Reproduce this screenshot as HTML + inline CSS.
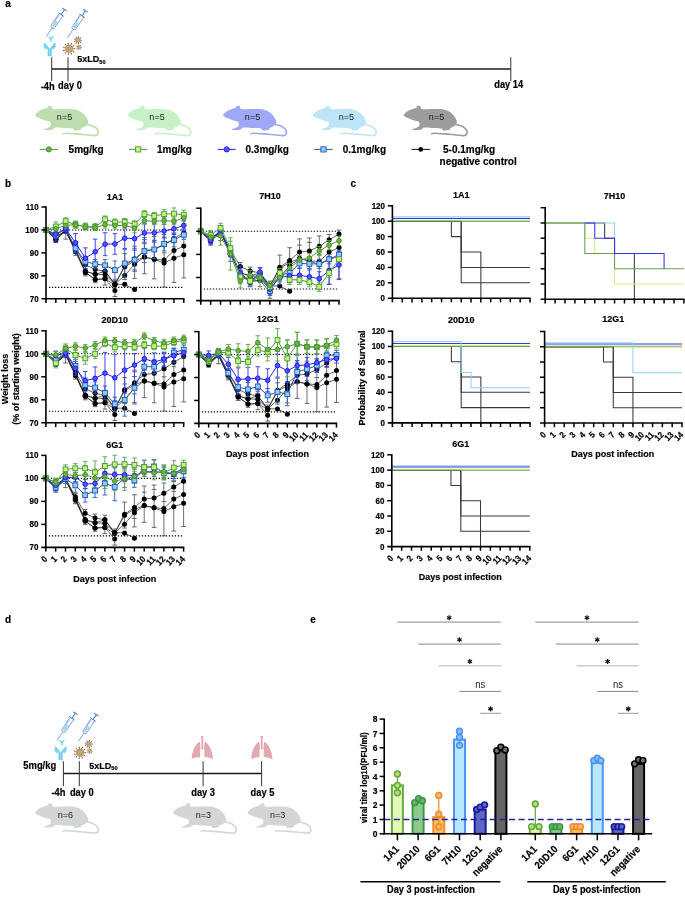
<!DOCTYPE html>
<html><head><meta charset="utf-8"><title>Figure</title>
<style>html,body{margin:0;padding:0;background:#fff;} svg{display:block;will-change:transform;} text[font-weight="bold"]{stroke:#000;stroke-width:0.18px;}</style>
</head><body>
<svg width="685" height="897" viewBox="0 0 685 897" font-family='"Liberation Sans", sans-serif'>
<rect width="685" height="897" fill="#fff"/>
<text transform="translate(5.30 6.90) scale(1 1.1)" x="0" y="0" font-size="10" font-weight="bold" text-anchor="start" fill="#000" >a</text>
<text transform="translate(5.00 186.50) scale(1 1.1)" x="0" y="0" font-size="10" font-weight="bold" text-anchor="start" fill="#000" >b</text>
<text transform="translate(350.50 187.00) scale(1 1.1)" x="0" y="0" font-size="10" font-weight="bold" text-anchor="start" fill="#000" >c</text>
<text transform="translate(5.00 622.80) scale(1 1.1)" x="0" y="0" font-size="10" font-weight="bold" text-anchor="start" fill="#000" >d</text>
<text transform="translate(310.30 622.80) scale(1 1.1)" x="0" y="0" font-size="10" font-weight="bold" text-anchor="start" fill="#000" >e</text>
<text transform="translate(114.90 199.50) scale(1 1.1)" x="0" y="0" font-size="9" font-weight="bold" text-anchor="middle" fill="#000" >1A1</text>
<line x1="48.00" y1="229.95" x2="183.80" y2="229.95" stroke="#000" stroke-width="1.1" stroke-dasharray="1.3,1.7"/>
<line x1="49.00" y1="287.33" x2="182.80" y2="287.33" stroke="#000" stroke-width="1.1" stroke-dasharray="1.3,1.7"/>
<line x1="55.84" y1="235.69" x2="55.84" y2="242.57" stroke="#6e6e6e" stroke-width="1"/>
<line x1="53.54" y1="235.69" x2="58.14" y2="235.69" stroke="#666" stroke-width="1"/>
<line x1="53.54" y1="242.57" x2="58.14" y2="242.57" stroke="#666" stroke-width="1"/>
<line x1="65.69" y1="227.66" x2="65.69" y2="239.13" stroke="#6e6e6e" stroke-width="1"/>
<line x1="63.39" y1="227.66" x2="67.99" y2="227.66" stroke="#666" stroke-width="1"/>
<line x1="63.39" y1="239.13" x2="67.99" y2="239.13" stroke="#666" stroke-width="1"/>
<line x1="75.53" y1="244.87" x2="75.53" y2="255.19" stroke="#6e6e6e" stroke-width="1"/>
<line x1="73.23" y1="244.87" x2="77.83" y2="244.87" stroke="#666" stroke-width="1"/>
<line x1="73.23" y1="255.19" x2="77.83" y2="255.19" stroke="#666" stroke-width="1"/>
<line x1="85.37" y1="260.93" x2="85.37" y2="275.85" stroke="#6e6e6e" stroke-width="1"/>
<line x1="83.07" y1="260.93" x2="87.67" y2="260.93" stroke="#666" stroke-width="1"/>
<line x1="83.07" y1="275.85" x2="87.67" y2="275.85" stroke="#666" stroke-width="1"/>
<line x1="95.21" y1="265.52" x2="95.21" y2="282.74" stroke="#6e6e6e" stroke-width="1"/>
<line x1="92.91" y1="265.52" x2="97.51" y2="265.52" stroke="#666" stroke-width="1"/>
<line x1="92.91" y1="282.74" x2="97.51" y2="282.74" stroke="#666" stroke-width="1"/>
<line x1="105.06" y1="266.67" x2="105.06" y2="285.03" stroke="#6e6e6e" stroke-width="1"/>
<line x1="102.76" y1="266.67" x2="107.36" y2="266.67" stroke="#666" stroke-width="1"/>
<line x1="102.76" y1="285.03" x2="107.36" y2="285.03" stroke="#666" stroke-width="1"/>
<line x1="114.90" y1="280.44" x2="114.90" y2="296.50" stroke="#6e6e6e" stroke-width="1"/>
<line x1="112.60" y1="280.44" x2="117.20" y2="280.44" stroke="#666" stroke-width="1"/>
<line x1="112.60" y1="296.50" x2="117.20" y2="296.50" stroke="#666" stroke-width="1"/>
<line x1="124.74" y1="253.59" x2="124.74" y2="279.52" stroke="#6e6e6e" stroke-width="1"/>
<line x1="122.44" y1="253.59" x2="127.04" y2="253.59" stroke="#666" stroke-width="1"/>
<line x1="122.44" y1="279.52" x2="127.04" y2="279.52" stroke="#666" stroke-width="1"/>
<line x1="134.59" y1="246.24" x2="134.59" y2="278.37" stroke="#6e6e6e" stroke-width="1"/>
<line x1="132.29" y1="246.24" x2="136.89" y2="246.24" stroke="#666" stroke-width="1"/>
<line x1="132.29" y1="278.37" x2="136.89" y2="278.37" stroke="#666" stroke-width="1"/>
<line x1="132.29" y1="269.88" x2="136.89" y2="269.88" stroke="#666" stroke-width="1"/>
<line x1="144.43" y1="237.52" x2="144.43" y2="273.78" stroke="#6e6e6e" stroke-width="1"/>
<line x1="142.13" y1="237.52" x2="146.73" y2="237.52" stroke="#666" stroke-width="1"/>
<line x1="142.13" y1="273.78" x2="146.73" y2="273.78" stroke="#666" stroke-width="1"/>
<line x1="142.13" y1="243.72" x2="146.73" y2="243.72" stroke="#666" stroke-width="1"/>
<line x1="154.27" y1="236.61" x2="154.27" y2="278.83" stroke="#6e6e6e" stroke-width="1"/>
<line x1="151.97" y1="236.61" x2="156.57" y2="236.61" stroke="#666" stroke-width="1"/>
<line x1="151.97" y1="278.83" x2="156.57" y2="278.83" stroke="#666" stroke-width="1"/>
<line x1="151.97" y1="240.97" x2="156.57" y2="240.97" stroke="#666" stroke-width="1"/>
<line x1="164.11" y1="234.54" x2="164.11" y2="287.10" stroke="#6e6e6e" stroke-width="1"/>
<line x1="161.81" y1="234.54" x2="166.41" y2="234.54" stroke="#666" stroke-width="1"/>
<line x1="161.81" y1="287.10" x2="166.41" y2="287.10" stroke="#666" stroke-width="1"/>
<line x1="161.81" y1="252.90" x2="166.41" y2="252.90" stroke="#666" stroke-width="1"/>
<line x1="173.96" y1="233.16" x2="173.96" y2="282.51" stroke="#6e6e6e" stroke-width="1"/>
<line x1="171.66" y1="233.16" x2="176.26" y2="233.16" stroke="#666" stroke-width="1"/>
<line x1="171.66" y1="282.51" x2="176.26" y2="282.51" stroke="#666" stroke-width="1"/>
<line x1="171.66" y1="242.80" x2="176.26" y2="242.80" stroke="#666" stroke-width="1"/>
<line x1="183.80" y1="228.80" x2="183.80" y2="277.92" stroke="#6e6e6e" stroke-width="1"/>
<line x1="181.50" y1="228.80" x2="186.10" y2="228.80" stroke="#666" stroke-width="1"/>
<line x1="181.50" y1="277.92" x2="186.10" y2="277.92" stroke="#666" stroke-width="1"/>
<polyline points="46.00,229.95 55.84,239.13 65.69,229.95 75.53,248.31 85.37,264.83 95.21,269.42 105.06,271.26 114.90,284.11 124.74,265.75 134.59,258.87 144.43,250.61 154.27,249.46 164.11,244.87 173.96,238.44 183.80,232.70" fill="none" stroke="#222" stroke-width="0.7"/>
<polyline points="46.00,229.95 55.84,237.98 65.69,229.95 75.53,249.46 85.37,271.26 95.21,274.24 105.06,274.70 114.90,284.11 124.74,275.62 134.59,264.15 144.43,257.03 154.27,259.33 164.11,260.01 173.96,250.61 183.80,246.02" fill="none" stroke="#222" stroke-width="0.7"/>
<polyline points="46.00,229.95 55.84,236.84 65.69,231.10 75.53,250.61 85.37,272.41 95.21,279.52 105.06,278.83 114.90,285.03 124.74,266.67 134.59,260.93 144.43,257.03 154.27,259.33 164.11,263.00 173.96,258.18 183.80,254.74" fill="none" stroke="#222" stroke-width="0.7"/>
<polyline points="46.00,229.95 55.84,239.13 65.69,230.87 75.53,250.61 85.37,271.26 95.21,274.24 105.06,271.26 114.90,284.11 124.74,284.34 134.59,289.62" fill="none" stroke="#222" stroke-width="0.7"/>
<polyline points="46.00,229.95 55.84,240.05 65.69,230.87 75.53,251.75 85.37,272.41 95.21,279.52 105.06,278.83 114.90,290.54" fill="none" stroke="#222" stroke-width="0.7"/>
<circle cx="55.84" cy="239.13" r="2.5" fill="#000"/>
<circle cx="65.69" cy="229.95" r="2.5" fill="#000"/>
<circle cx="75.53" cy="248.31" r="2.5" fill="#000"/>
<circle cx="85.37" cy="264.83" r="2.5" fill="#000"/>
<circle cx="95.21" cy="269.42" r="2.5" fill="#000"/>
<circle cx="105.06" cy="271.26" r="2.5" fill="#000"/>
<circle cx="114.90" cy="284.11" r="2.5" fill="#000"/>
<circle cx="124.74" cy="265.75" r="2.5" fill="#000"/>
<circle cx="134.59" cy="258.87" r="2.5" fill="#000"/>
<circle cx="144.43" cy="250.61" r="2.5" fill="#000"/>
<circle cx="154.27" cy="249.46" r="2.5" fill="#000"/>
<circle cx="164.11" cy="244.87" r="2.5" fill="#000"/>
<circle cx="173.96" cy="238.44" r="2.5" fill="#000"/>
<circle cx="183.80" cy="232.70" r="2.5" fill="#000"/>
<circle cx="55.84" cy="237.98" r="2.5" fill="#000"/>
<circle cx="65.69" cy="229.95" r="2.5" fill="#000"/>
<circle cx="75.53" cy="249.46" r="2.5" fill="#000"/>
<circle cx="85.37" cy="271.26" r="2.5" fill="#000"/>
<circle cx="95.21" cy="274.24" r="2.5" fill="#000"/>
<circle cx="105.06" cy="274.70" r="2.5" fill="#000"/>
<circle cx="114.90" cy="284.11" r="2.5" fill="#000"/>
<circle cx="124.74" cy="275.62" r="2.5" fill="#000"/>
<circle cx="134.59" cy="264.15" r="2.5" fill="#000"/>
<circle cx="144.43" cy="257.03" r="2.5" fill="#000"/>
<circle cx="154.27" cy="259.33" r="2.5" fill="#000"/>
<circle cx="164.11" cy="260.01" r="2.5" fill="#000"/>
<circle cx="173.96" cy="250.61" r="2.5" fill="#000"/>
<circle cx="183.80" cy="246.02" r="2.5" fill="#000"/>
<circle cx="55.84" cy="236.84" r="2.5" fill="#000"/>
<circle cx="65.69" cy="231.10" r="2.5" fill="#000"/>
<circle cx="75.53" cy="250.61" r="2.5" fill="#000"/>
<circle cx="85.37" cy="272.41" r="2.5" fill="#000"/>
<circle cx="95.21" cy="279.52" r="2.5" fill="#000"/>
<circle cx="105.06" cy="278.83" r="2.5" fill="#000"/>
<circle cx="114.90" cy="285.03" r="2.5" fill="#000"/>
<circle cx="124.74" cy="266.67" r="2.5" fill="#000"/>
<circle cx="134.59" cy="260.93" r="2.5" fill="#000"/>
<circle cx="144.43" cy="257.03" r="2.5" fill="#000"/>
<circle cx="154.27" cy="259.33" r="2.5" fill="#000"/>
<circle cx="164.11" cy="263.00" r="2.5" fill="#000"/>
<circle cx="173.96" cy="258.18" r="2.5" fill="#000"/>
<circle cx="183.80" cy="254.74" r="2.5" fill="#000"/>
<circle cx="55.84" cy="239.13" r="2.5" fill="#000"/>
<circle cx="65.69" cy="230.87" r="2.5" fill="#000"/>
<circle cx="75.53" cy="250.61" r="2.5" fill="#000"/>
<circle cx="85.37" cy="271.26" r="2.5" fill="#000"/>
<circle cx="95.21" cy="274.24" r="2.5" fill="#000"/>
<circle cx="105.06" cy="271.26" r="2.5" fill="#000"/>
<circle cx="114.90" cy="284.11" r="2.5" fill="#000"/>
<circle cx="124.74" cy="284.34" r="2.5" fill="#000"/>
<circle cx="134.59" cy="289.62" r="2.5" fill="#000"/>
<circle cx="55.84" cy="240.05" r="2.5" fill="#000"/>
<circle cx="65.69" cy="230.87" r="2.5" fill="#000"/>
<circle cx="75.53" cy="251.75" r="2.5" fill="#000"/>
<circle cx="85.37" cy="272.41" r="2.5" fill="#000"/>
<circle cx="95.21" cy="279.52" r="2.5" fill="#000"/>
<circle cx="105.06" cy="278.83" r="2.5" fill="#000"/>
<circle cx="114.90" cy="290.54" r="2.5" fill="#000"/>
<line x1="55.84" y1="231.79" x2="55.84" y2="238.67" stroke="#3560b8" stroke-width="1.05" opacity="0.9"/>
<line x1="53.54" y1="231.79" x2="58.14" y2="231.79" stroke="#3560b8" stroke-width="1.05" opacity="0.9"/>
<line x1="53.54" y1="238.67" x2="58.14" y2="238.67" stroke="#3560b8" stroke-width="1.05" opacity="0.9"/>
<line x1="65.69" y1="226.51" x2="65.69" y2="231.10" stroke="#3560b8" stroke-width="1.05" opacity="0.9"/>
<line x1="63.39" y1="226.51" x2="67.99" y2="226.51" stroke="#3560b8" stroke-width="1.05" opacity="0.9"/>
<line x1="63.39" y1="231.10" x2="67.99" y2="231.10" stroke="#3560b8" stroke-width="1.05" opacity="0.9"/>
<line x1="75.53" y1="243.72" x2="75.53" y2="252.90" stroke="#3560b8" stroke-width="1.05" opacity="0.9"/>
<line x1="73.23" y1="243.72" x2="77.83" y2="243.72" stroke="#3560b8" stroke-width="1.05" opacity="0.9"/>
<line x1="73.23" y1="252.90" x2="77.83" y2="252.90" stroke="#3560b8" stroke-width="1.05" opacity="0.9"/>
<line x1="85.37" y1="257.03" x2="85.37" y2="266.21" stroke="#3560b8" stroke-width="1.05" opacity="0.9"/>
<line x1="83.07" y1="257.03" x2="87.67" y2="257.03" stroke="#3560b8" stroke-width="1.05" opacity="0.9"/>
<line x1="83.07" y1="266.21" x2="87.67" y2="266.21" stroke="#3560b8" stroke-width="1.05" opacity="0.9"/>
<line x1="95.21" y1="259.56" x2="95.21" y2="268.74" stroke="#3560b8" stroke-width="1.05" opacity="0.9"/>
<line x1="92.91" y1="259.56" x2="97.51" y2="259.56" stroke="#3560b8" stroke-width="1.05" opacity="0.9"/>
<line x1="92.91" y1="268.74" x2="97.51" y2="268.74" stroke="#3560b8" stroke-width="1.05" opacity="0.9"/>
<line x1="105.06" y1="259.56" x2="105.06" y2="271.03" stroke="#3560b8" stroke-width="1.05" opacity="0.9"/>
<line x1="102.76" y1="259.56" x2="107.36" y2="259.56" stroke="#3560b8" stroke-width="1.05" opacity="0.9"/>
<line x1="102.76" y1="271.03" x2="107.36" y2="271.03" stroke="#3560b8" stroke-width="1.05" opacity="0.9"/>
<line x1="114.90" y1="260.93" x2="114.90" y2="279.29" stroke="#3560b8" stroke-width="1.05" opacity="0.9"/>
<line x1="112.60" y1="260.93" x2="117.20" y2="260.93" stroke="#3560b8" stroke-width="1.05" opacity="0.9"/>
<line x1="112.60" y1="279.29" x2="117.20" y2="279.29" stroke="#3560b8" stroke-width="1.05" opacity="0.9"/>
<line x1="124.74" y1="249.69" x2="124.74" y2="277.23" stroke="#3560b8" stroke-width="1.05" opacity="0.9"/>
<line x1="122.44" y1="249.69" x2="127.04" y2="249.69" stroke="#3560b8" stroke-width="1.05" opacity="0.9"/>
<line x1="122.44" y1="277.23" x2="127.04" y2="277.23" stroke="#3560b8" stroke-width="1.05" opacity="0.9"/>
<line x1="134.59" y1="248.31" x2="134.59" y2="271.26" stroke="#3560b8" stroke-width="1.05" opacity="0.9"/>
<line x1="132.29" y1="248.31" x2="136.89" y2="248.31" stroke="#3560b8" stroke-width="1.05" opacity="0.9"/>
<line x1="132.29" y1="271.26" x2="136.89" y2="271.26" stroke="#3560b8" stroke-width="1.05" opacity="0.9"/>
<line x1="144.43" y1="239.59" x2="144.43" y2="262.54" stroke="#3560b8" stroke-width="1.05" opacity="0.9"/>
<line x1="142.13" y1="239.59" x2="146.73" y2="239.59" stroke="#3560b8" stroke-width="1.05" opacity="0.9"/>
<line x1="142.13" y1="262.54" x2="146.73" y2="262.54" stroke="#3560b8" stroke-width="1.05" opacity="0.9"/>
<line x1="154.27" y1="240.28" x2="154.27" y2="258.64" stroke="#3560b8" stroke-width="1.05" opacity="0.9"/>
<line x1="151.97" y1="240.28" x2="156.57" y2="240.28" stroke="#3560b8" stroke-width="1.05" opacity="0.9"/>
<line x1="151.97" y1="258.64" x2="156.57" y2="258.64" stroke="#3560b8" stroke-width="1.05" opacity="0.9"/>
<line x1="164.11" y1="237.06" x2="164.11" y2="250.83" stroke="#3560b8" stroke-width="1.05" opacity="0.9"/>
<line x1="161.81" y1="237.06" x2="166.41" y2="237.06" stroke="#3560b8" stroke-width="1.05" opacity="0.9"/>
<line x1="161.81" y1="250.83" x2="166.41" y2="250.83" stroke="#3560b8" stroke-width="1.05" opacity="0.9"/>
<line x1="173.96" y1="233.16" x2="173.96" y2="246.93" stroke="#3560b8" stroke-width="1.05" opacity="0.9"/>
<line x1="171.66" y1="233.16" x2="176.26" y2="233.16" stroke="#3560b8" stroke-width="1.05" opacity="0.9"/>
<line x1="171.66" y1="246.93" x2="176.26" y2="246.93" stroke="#3560b8" stroke-width="1.05" opacity="0.9"/>
<line x1="183.80" y1="230.18" x2="183.80" y2="239.36" stroke="#3560b8" stroke-width="1.05" opacity="0.9"/>
<line x1="181.50" y1="230.18" x2="186.10" y2="230.18" stroke="#3560b8" stroke-width="1.05" opacity="0.9"/>
<line x1="181.50" y1="239.36" x2="186.10" y2="239.36" stroke="#3560b8" stroke-width="1.05" opacity="0.9"/>
<line x1="55.84" y1="227.20" x2="55.84" y2="240.97" stroke="#3a3af4" stroke-width="1.05" opacity="0.9"/>
<line x1="53.54" y1="227.20" x2="58.14" y2="227.20" stroke="#3a3af4" stroke-width="1.05" opacity="0.9"/>
<line x1="53.54" y1="240.97" x2="58.14" y2="240.97" stroke="#3a3af4" stroke-width="1.05" opacity="0.9"/>
<line x1="65.69" y1="224.21" x2="65.69" y2="233.39" stroke="#3a3af4" stroke-width="1.05" opacity="0.9"/>
<line x1="63.39" y1="224.21" x2="67.99" y2="224.21" stroke="#3a3af4" stroke-width="1.05" opacity="0.9"/>
<line x1="63.39" y1="233.39" x2="67.99" y2="233.39" stroke="#3a3af4" stroke-width="1.05" opacity="0.9"/>
<line x1="75.53" y1="233.62" x2="75.53" y2="251.98" stroke="#3a3af4" stroke-width="1.05" opacity="0.9"/>
<line x1="73.23" y1="233.62" x2="77.83" y2="233.62" stroke="#3a3af4" stroke-width="1.05" opacity="0.9"/>
<line x1="73.23" y1="251.98" x2="77.83" y2="251.98" stroke="#3a3af4" stroke-width="1.05" opacity="0.9"/>
<line x1="85.37" y1="247.85" x2="85.37" y2="268.51" stroke="#3a3af4" stroke-width="1.05" opacity="0.9"/>
<line x1="83.07" y1="247.85" x2="87.67" y2="247.85" stroke="#3a3af4" stroke-width="1.05" opacity="0.9"/>
<line x1="83.07" y1="268.51" x2="87.67" y2="268.51" stroke="#3a3af4" stroke-width="1.05" opacity="0.9"/>
<line x1="95.21" y1="239.13" x2="95.21" y2="264.38" stroke="#3a3af4" stroke-width="1.05" opacity="0.9"/>
<line x1="92.91" y1="239.13" x2="97.51" y2="239.13" stroke="#3a3af4" stroke-width="1.05" opacity="0.9"/>
<line x1="92.91" y1="264.38" x2="97.51" y2="264.38" stroke="#3a3af4" stroke-width="1.05" opacity="0.9"/>
<line x1="105.06" y1="232.70" x2="105.06" y2="255.65" stroke="#3a3af4" stroke-width="1.05" opacity="0.9"/>
<line x1="102.76" y1="232.70" x2="107.36" y2="232.70" stroke="#3a3af4" stroke-width="1.05" opacity="0.9"/>
<line x1="102.76" y1="255.65" x2="107.36" y2="255.65" stroke="#3a3af4" stroke-width="1.05" opacity="0.9"/>
<line x1="114.90" y1="233.62" x2="114.90" y2="254.28" stroke="#3a3af4" stroke-width="1.05" opacity="0.9"/>
<line x1="112.60" y1="233.62" x2="117.20" y2="233.62" stroke="#3a3af4" stroke-width="1.05" opacity="0.9"/>
<line x1="112.60" y1="254.28" x2="117.20" y2="254.28" stroke="#3a3af4" stroke-width="1.05" opacity="0.9"/>
<line x1="124.74" y1="227.88" x2="124.74" y2="248.54" stroke="#3a3af4" stroke-width="1.05" opacity="0.9"/>
<line x1="122.44" y1="227.88" x2="127.04" y2="227.88" stroke="#3a3af4" stroke-width="1.05" opacity="0.9"/>
<line x1="122.44" y1="248.54" x2="127.04" y2="248.54" stroke="#3a3af4" stroke-width="1.05" opacity="0.9"/>
<line x1="134.59" y1="227.20" x2="134.59" y2="250.15" stroke="#3a3af4" stroke-width="1.05" opacity="0.9"/>
<line x1="132.29" y1="227.20" x2="136.89" y2="227.20" stroke="#3a3af4" stroke-width="1.05" opacity="0.9"/>
<line x1="132.29" y1="250.15" x2="136.89" y2="250.15" stroke="#3a3af4" stroke-width="1.05" opacity="0.9"/>
<line x1="144.43" y1="223.75" x2="144.43" y2="242.11" stroke="#3a3af4" stroke-width="1.05" opacity="0.9"/>
<line x1="142.13" y1="223.75" x2="146.73" y2="223.75" stroke="#3a3af4" stroke-width="1.05" opacity="0.9"/>
<line x1="142.13" y1="242.11" x2="146.73" y2="242.11" stroke="#3a3af4" stroke-width="1.05" opacity="0.9"/>
<line x1="154.27" y1="223.75" x2="154.27" y2="242.11" stroke="#3a3af4" stroke-width="1.05" opacity="0.9"/>
<line x1="151.97" y1="223.75" x2="156.57" y2="223.75" stroke="#3a3af4" stroke-width="1.05" opacity="0.9"/>
<line x1="151.97" y1="242.11" x2="156.57" y2="242.11" stroke="#3a3af4" stroke-width="1.05" opacity="0.9"/>
<line x1="164.11" y1="224.21" x2="164.11" y2="237.98" stroke="#3a3af4" stroke-width="1.05" opacity="0.9"/>
<line x1="161.81" y1="224.21" x2="166.41" y2="224.21" stroke="#3a3af4" stroke-width="1.05" opacity="0.9"/>
<line x1="161.81" y1="237.98" x2="166.41" y2="237.98" stroke="#3a3af4" stroke-width="1.05" opacity="0.9"/>
<line x1="173.96" y1="223.06" x2="173.96" y2="234.54" stroke="#3a3af4" stroke-width="1.05" opacity="0.9"/>
<line x1="171.66" y1="223.06" x2="176.26" y2="223.06" stroke="#3a3af4" stroke-width="1.05" opacity="0.9"/>
<line x1="171.66" y1="234.54" x2="176.26" y2="234.54" stroke="#3a3af4" stroke-width="1.05" opacity="0.9"/>
<line x1="183.80" y1="220.77" x2="183.80" y2="229.95" stroke="#3a3af4" stroke-width="1.05" opacity="0.9"/>
<line x1="181.50" y1="220.77" x2="186.10" y2="220.77" stroke="#3a3af4" stroke-width="1.05" opacity="0.9"/>
<line x1="181.50" y1="229.95" x2="186.10" y2="229.95" stroke="#3a3af4" stroke-width="1.05" opacity="0.9"/>
<line x1="55.84" y1="221.92" x2="55.84" y2="231.10" stroke="#5aa852" stroke-width="1.05" opacity="0.9"/>
<line x1="53.54" y1="221.92" x2="58.14" y2="221.92" stroke="#5aa852" stroke-width="1.05" opacity="0.9"/>
<line x1="53.54" y1="231.10" x2="58.14" y2="231.10" stroke="#5aa852" stroke-width="1.05" opacity="0.9"/>
<line x1="65.69" y1="217.79" x2="65.69" y2="224.67" stroke="#5aa852" stroke-width="1.05" opacity="0.9"/>
<line x1="63.39" y1="217.79" x2="67.99" y2="217.79" stroke="#5aa852" stroke-width="1.05" opacity="0.9"/>
<line x1="63.39" y1="224.67" x2="67.99" y2="224.67" stroke="#5aa852" stroke-width="1.05" opacity="0.9"/>
<line x1="75.53" y1="221.23" x2="75.53" y2="228.11" stroke="#5aa852" stroke-width="1.05" opacity="0.9"/>
<line x1="73.23" y1="221.23" x2="77.83" y2="221.23" stroke="#5aa852" stroke-width="1.05" opacity="0.9"/>
<line x1="73.23" y1="228.11" x2="77.83" y2="228.11" stroke="#5aa852" stroke-width="1.05" opacity="0.9"/>
<line x1="85.37" y1="223.06" x2="85.37" y2="229.95" stroke="#5aa852" stroke-width="1.05" opacity="0.9"/>
<line x1="83.07" y1="223.06" x2="87.67" y2="223.06" stroke="#5aa852" stroke-width="1.05" opacity="0.9"/>
<line x1="83.07" y1="229.95" x2="87.67" y2="229.95" stroke="#5aa852" stroke-width="1.05" opacity="0.9"/>
<line x1="95.21" y1="223.52" x2="95.21" y2="230.41" stroke="#5aa852" stroke-width="1.05" opacity="0.9"/>
<line x1="92.91" y1="223.52" x2="97.51" y2="223.52" stroke="#5aa852" stroke-width="1.05" opacity="0.9"/>
<line x1="92.91" y1="230.41" x2="97.51" y2="230.41" stroke="#5aa852" stroke-width="1.05" opacity="0.9"/>
<line x1="105.06" y1="215.95" x2="105.06" y2="222.84" stroke="#5aa852" stroke-width="1.05" opacity="0.9"/>
<line x1="102.76" y1="215.95" x2="107.36" y2="215.95" stroke="#5aa852" stroke-width="1.05" opacity="0.9"/>
<line x1="102.76" y1="222.84" x2="107.36" y2="222.84" stroke="#5aa852" stroke-width="1.05" opacity="0.9"/>
<line x1="114.90" y1="218.93" x2="114.90" y2="225.82" stroke="#5aa852" stroke-width="1.05" opacity="0.9"/>
<line x1="112.60" y1="218.93" x2="117.20" y2="218.93" stroke="#5aa852" stroke-width="1.05" opacity="0.9"/>
<line x1="112.60" y1="225.82" x2="117.20" y2="225.82" stroke="#5aa852" stroke-width="1.05" opacity="0.9"/>
<line x1="124.74" y1="218.47" x2="124.74" y2="225.36" stroke="#5aa852" stroke-width="1.05" opacity="0.9"/>
<line x1="122.44" y1="218.47" x2="127.04" y2="218.47" stroke="#5aa852" stroke-width="1.05" opacity="0.9"/>
<line x1="122.44" y1="225.36" x2="127.04" y2="225.36" stroke="#5aa852" stroke-width="1.05" opacity="0.9"/>
<line x1="134.59" y1="220.77" x2="134.59" y2="227.66" stroke="#5aa852" stroke-width="1.05" opacity="0.9"/>
<line x1="132.29" y1="220.77" x2="136.89" y2="220.77" stroke="#5aa852" stroke-width="1.05" opacity="0.9"/>
<line x1="132.29" y1="227.66" x2="136.89" y2="227.66" stroke="#5aa852" stroke-width="1.05" opacity="0.9"/>
<line x1="144.43" y1="210.67" x2="144.43" y2="217.56" stroke="#5aa852" stroke-width="1.05" opacity="0.9"/>
<line x1="142.13" y1="210.67" x2="146.73" y2="210.67" stroke="#5aa852" stroke-width="1.05" opacity="0.9"/>
<line x1="142.13" y1="217.56" x2="146.73" y2="217.56" stroke="#5aa852" stroke-width="1.05" opacity="0.9"/>
<line x1="154.27" y1="212.51" x2="154.27" y2="219.39" stroke="#5aa852" stroke-width="1.05" opacity="0.9"/>
<line x1="151.97" y1="212.51" x2="156.57" y2="212.51" stroke="#5aa852" stroke-width="1.05" opacity="0.9"/>
<line x1="151.97" y1="219.39" x2="156.57" y2="219.39" stroke="#5aa852" stroke-width="1.05" opacity="0.9"/>
<line x1="164.11" y1="209.52" x2="164.11" y2="218.70" stroke="#5aa852" stroke-width="1.05" opacity="0.9"/>
<line x1="161.81" y1="209.52" x2="166.41" y2="209.52" stroke="#5aa852" stroke-width="1.05" opacity="0.9"/>
<line x1="161.81" y1="218.70" x2="166.41" y2="218.70" stroke="#5aa852" stroke-width="1.05" opacity="0.9"/>
<line x1="173.96" y1="207.92" x2="173.96" y2="219.39" stroke="#5aa852" stroke-width="1.05" opacity="0.9"/>
<line x1="171.66" y1="207.92" x2="176.26" y2="207.92" stroke="#5aa852" stroke-width="1.05" opacity="0.9"/>
<line x1="171.66" y1="219.39" x2="176.26" y2="219.39" stroke="#5aa852" stroke-width="1.05" opacity="0.9"/>
<line x1="183.80" y1="210.21" x2="183.80" y2="219.39" stroke="#5aa852" stroke-width="1.05" opacity="0.9"/>
<line x1="181.50" y1="210.21" x2="186.10" y2="210.21" stroke="#5aa852" stroke-width="1.05" opacity="0.9"/>
<line x1="181.50" y1="219.39" x2="186.10" y2="219.39" stroke="#5aa852" stroke-width="1.05" opacity="0.9"/>
<line x1="55.84" y1="225.36" x2="55.84" y2="232.25" stroke="#62a840" stroke-width="1.05" opacity="0.9"/>
<line x1="53.54" y1="225.36" x2="58.14" y2="225.36" stroke="#62a840" stroke-width="1.05" opacity="0.9"/>
<line x1="53.54" y1="232.25" x2="58.14" y2="232.25" stroke="#62a840" stroke-width="1.05" opacity="0.9"/>
<line x1="65.69" y1="221.92" x2="65.69" y2="228.80" stroke="#62a840" stroke-width="1.05" opacity="0.9"/>
<line x1="63.39" y1="221.92" x2="67.99" y2="221.92" stroke="#62a840" stroke-width="1.05" opacity="0.9"/>
<line x1="63.39" y1="228.80" x2="67.99" y2="228.80" stroke="#62a840" stroke-width="1.05" opacity="0.9"/>
<line x1="75.53" y1="221.23" x2="75.53" y2="228.11" stroke="#62a840" stroke-width="1.05" opacity="0.9"/>
<line x1="73.23" y1="221.23" x2="77.83" y2="221.23" stroke="#62a840" stroke-width="1.05" opacity="0.9"/>
<line x1="73.23" y1="228.11" x2="77.83" y2="228.11" stroke="#62a840" stroke-width="1.05" opacity="0.9"/>
<line x1="85.37" y1="223.98" x2="85.37" y2="229.49" stroke="#62a840" stroke-width="1.05" opacity="0.9"/>
<line x1="83.07" y1="223.98" x2="87.67" y2="223.98" stroke="#62a840" stroke-width="1.05" opacity="0.9"/>
<line x1="83.07" y1="229.49" x2="87.67" y2="229.49" stroke="#62a840" stroke-width="1.05" opacity="0.9"/>
<line x1="95.21" y1="224.90" x2="95.21" y2="230.41" stroke="#62a840" stroke-width="1.05" opacity="0.9"/>
<line x1="92.91" y1="224.90" x2="97.51" y2="224.90" stroke="#62a840" stroke-width="1.05" opacity="0.9"/>
<line x1="92.91" y1="230.41" x2="97.51" y2="230.41" stroke="#62a840" stroke-width="1.05" opacity="0.9"/>
<line x1="105.06" y1="221.23" x2="105.06" y2="228.11" stroke="#62a840" stroke-width="1.05" opacity="0.9"/>
<line x1="102.76" y1="221.23" x2="107.36" y2="221.23" stroke="#62a840" stroke-width="1.05" opacity="0.9"/>
<line x1="102.76" y1="228.11" x2="107.36" y2="228.11" stroke="#62a840" stroke-width="1.05" opacity="0.9"/>
<line x1="114.90" y1="221.92" x2="114.90" y2="228.80" stroke="#62a840" stroke-width="1.05" opacity="0.9"/>
<line x1="112.60" y1="221.92" x2="117.20" y2="221.92" stroke="#62a840" stroke-width="1.05" opacity="0.9"/>
<line x1="112.60" y1="228.80" x2="117.20" y2="228.80" stroke="#62a840" stroke-width="1.05" opacity="0.9"/>
<line x1="124.74" y1="221.92" x2="124.74" y2="228.80" stroke="#62a840" stroke-width="1.05" opacity="0.9"/>
<line x1="122.44" y1="221.92" x2="127.04" y2="221.92" stroke="#62a840" stroke-width="1.05" opacity="0.9"/>
<line x1="122.44" y1="228.80" x2="127.04" y2="228.80" stroke="#62a840" stroke-width="1.05" opacity="0.9"/>
<line x1="134.59" y1="223.52" x2="134.59" y2="232.70" stroke="#62a840" stroke-width="1.05" opacity="0.9"/>
<line x1="132.29" y1="223.52" x2="136.89" y2="223.52" stroke="#62a840" stroke-width="1.05" opacity="0.9"/>
<line x1="132.29" y1="232.70" x2="136.89" y2="232.70" stroke="#62a840" stroke-width="1.05" opacity="0.9"/>
<line x1="144.43" y1="217.33" x2="144.43" y2="224.21" stroke="#62a840" stroke-width="1.05" opacity="0.9"/>
<line x1="142.13" y1="217.33" x2="146.73" y2="217.33" stroke="#62a840" stroke-width="1.05" opacity="0.9"/>
<line x1="142.13" y1="224.21" x2="146.73" y2="224.21" stroke="#62a840" stroke-width="1.05" opacity="0.9"/>
<line x1="154.27" y1="217.79" x2="154.27" y2="224.67" stroke="#62a840" stroke-width="1.05" opacity="0.9"/>
<line x1="151.97" y1="217.79" x2="156.57" y2="217.79" stroke="#62a840" stroke-width="1.05" opacity="0.9"/>
<line x1="151.97" y1="224.67" x2="156.57" y2="224.67" stroke="#62a840" stroke-width="1.05" opacity="0.9"/>
<line x1="164.11" y1="217.33" x2="164.11" y2="224.21" stroke="#62a840" stroke-width="1.05" opacity="0.9"/>
<line x1="161.81" y1="217.33" x2="166.41" y2="217.33" stroke="#62a840" stroke-width="1.05" opacity="0.9"/>
<line x1="161.81" y1="224.21" x2="166.41" y2="224.21" stroke="#62a840" stroke-width="1.05" opacity="0.9"/>
<line x1="173.96" y1="217.79" x2="173.96" y2="224.67" stroke="#62a840" stroke-width="1.05" opacity="0.9"/>
<line x1="171.66" y1="217.79" x2="176.26" y2="217.79" stroke="#62a840" stroke-width="1.05" opacity="0.9"/>
<line x1="171.66" y1="224.67" x2="176.26" y2="224.67" stroke="#62a840" stroke-width="1.05" opacity="0.9"/>
<line x1="183.80" y1="214.34" x2="183.80" y2="221.23" stroke="#62a840" stroke-width="1.05" opacity="0.9"/>
<line x1="181.50" y1="214.34" x2="186.10" y2="214.34" stroke="#62a840" stroke-width="1.05" opacity="0.9"/>
<line x1="181.50" y1="221.23" x2="186.10" y2="221.23" stroke="#62a840" stroke-width="1.05" opacity="0.9"/>
<polyline points="46.00,229.95 55.84,235.23 65.69,228.80 75.53,248.31 85.37,261.62 95.21,264.15 105.06,265.29 114.90,270.11 124.74,263.46 134.59,259.79 144.43,251.06 154.27,249.46 164.11,243.95 173.96,240.05 183.80,234.77" fill="none" stroke="#2d52a8" stroke-width="1"/>
<rect x="43.55" y="227.50" width="4.90" height="4.90" fill="#80d2f8" stroke="#2b52ae" stroke-width="0.9"/>
<rect x="53.39" y="232.78" width="4.90" height="4.90" fill="#80d2f8" stroke="#2b52ae" stroke-width="0.9"/>
<rect x="63.24" y="226.35" width="4.90" height="4.90" fill="#80d2f8" stroke="#2b52ae" stroke-width="0.9"/>
<rect x="73.08" y="245.86" width="4.90" height="4.90" fill="#80d2f8" stroke="#2b52ae" stroke-width="0.9"/>
<rect x="82.92" y="259.17" width="4.90" height="4.90" fill="#80d2f8" stroke="#2b52ae" stroke-width="0.9"/>
<rect x="92.76" y="261.70" width="4.90" height="4.90" fill="#80d2f8" stroke="#2b52ae" stroke-width="0.9"/>
<rect x="102.61" y="262.84" width="4.90" height="4.90" fill="#80d2f8" stroke="#2b52ae" stroke-width="0.9"/>
<rect x="112.45" y="267.66" width="4.90" height="4.90" fill="#80d2f8" stroke="#2b52ae" stroke-width="0.9"/>
<rect x="122.29" y="261.01" width="4.90" height="4.90" fill="#80d2f8" stroke="#2b52ae" stroke-width="0.9"/>
<rect x="132.14" y="257.34" width="4.90" height="4.90" fill="#80d2f8" stroke="#2b52ae" stroke-width="0.9"/>
<rect x="141.98" y="248.61" width="4.90" height="4.90" fill="#80d2f8" stroke="#2b52ae" stroke-width="0.9"/>
<rect x="151.82" y="247.01" width="4.90" height="4.90" fill="#80d2f8" stroke="#2b52ae" stroke-width="0.9"/>
<rect x="161.66" y="241.50" width="4.90" height="4.90" fill="#80d2f8" stroke="#2b52ae" stroke-width="0.9"/>
<rect x="171.51" y="237.60" width="4.90" height="4.90" fill="#80d2f8" stroke="#2b52ae" stroke-width="0.9"/>
<rect x="181.35" y="232.32" width="4.90" height="4.90" fill="#80d2f8" stroke="#2b52ae" stroke-width="0.9"/>
<polyline points="46.00,229.95 55.84,234.08 65.69,228.80 75.53,242.80 85.37,258.18 95.21,251.75 105.06,244.18 114.90,243.95 124.74,238.21 134.59,238.67 144.43,232.93 154.27,232.93 164.11,231.10 173.96,228.80 183.80,225.36" fill="none" stroke="#2222f6" stroke-width="1"/>
<circle cx="46.00" cy="229.95" r="2.3" fill="#5656f8" stroke="#1818ee" stroke-width="1"/>
<circle cx="55.84" cy="234.08" r="2.3" fill="#5656f8" stroke="#1818ee" stroke-width="1"/>
<circle cx="65.69" cy="228.80" r="2.3" fill="#5656f8" stroke="#1818ee" stroke-width="1"/>
<circle cx="75.53" cy="242.80" r="2.3" fill="#5656f8" stroke="#1818ee" stroke-width="1"/>
<circle cx="85.37" cy="258.18" r="2.3" fill="#5656f8" stroke="#1818ee" stroke-width="1"/>
<circle cx="95.21" cy="251.75" r="2.3" fill="#5656f8" stroke="#1818ee" stroke-width="1"/>
<circle cx="105.06" cy="244.18" r="2.3" fill="#5656f8" stroke="#1818ee" stroke-width="1"/>
<circle cx="114.90" cy="243.95" r="2.3" fill="#5656f8" stroke="#1818ee" stroke-width="1"/>
<circle cx="124.74" cy="238.21" r="2.3" fill="#5656f8" stroke="#1818ee" stroke-width="1"/>
<circle cx="134.59" cy="238.67" r="2.3" fill="#5656f8" stroke="#1818ee" stroke-width="1"/>
<circle cx="144.43" cy="232.93" r="2.3" fill="#5656f8" stroke="#1818ee" stroke-width="1"/>
<circle cx="154.27" cy="232.93" r="2.3" fill="#5656f8" stroke="#1818ee" stroke-width="1"/>
<circle cx="164.11" cy="231.10" r="2.3" fill="#5656f8" stroke="#1818ee" stroke-width="1"/>
<circle cx="173.96" cy="228.80" r="2.3" fill="#5656f8" stroke="#1818ee" stroke-width="1"/>
<circle cx="183.80" cy="225.36" r="2.3" fill="#5656f8" stroke="#1818ee" stroke-width="1"/>
<polyline points="46.00,229.95 55.84,226.51 65.69,221.23 75.53,224.67 85.37,226.51 95.21,226.97 105.06,219.39 114.90,222.38 124.74,221.92 134.59,224.21 144.43,214.11 154.27,215.95 164.11,214.11 173.96,213.66 183.80,214.80" fill="none" stroke="#4c9c4a" stroke-width="1"/>
<rect x="43.55" y="227.50" width="4.90" height="4.90" fill="#cbf46e" stroke="#45954a" stroke-width="0.9"/>
<rect x="53.39" y="224.06" width="4.90" height="4.90" fill="#cbf46e" stroke="#45954a" stroke-width="0.9"/>
<rect x="63.24" y="218.78" width="4.90" height="4.90" fill="#cbf46e" stroke="#45954a" stroke-width="0.9"/>
<rect x="73.08" y="222.22" width="4.90" height="4.90" fill="#cbf46e" stroke="#45954a" stroke-width="0.9"/>
<rect x="82.92" y="224.06" width="4.90" height="4.90" fill="#cbf46e" stroke="#45954a" stroke-width="0.9"/>
<rect x="92.76" y="224.52" width="4.90" height="4.90" fill="#cbf46e" stroke="#45954a" stroke-width="0.9"/>
<rect x="102.61" y="216.94" width="4.90" height="4.90" fill="#cbf46e" stroke="#45954a" stroke-width="0.9"/>
<rect x="112.45" y="219.93" width="4.90" height="4.90" fill="#cbf46e" stroke="#45954a" stroke-width="0.9"/>
<rect x="122.29" y="219.47" width="4.90" height="4.90" fill="#cbf46e" stroke="#45954a" stroke-width="0.9"/>
<rect x="132.14" y="221.76" width="4.90" height="4.90" fill="#cbf46e" stroke="#45954a" stroke-width="0.9"/>
<rect x="141.98" y="211.66" width="4.90" height="4.90" fill="#cbf46e" stroke="#45954a" stroke-width="0.9"/>
<rect x="151.82" y="213.50" width="4.90" height="4.90" fill="#cbf46e" stroke="#45954a" stroke-width="0.9"/>
<rect x="161.66" y="211.66" width="4.90" height="4.90" fill="#cbf46e" stroke="#45954a" stroke-width="0.9"/>
<rect x="171.51" y="211.21" width="4.90" height="4.90" fill="#cbf46e" stroke="#45954a" stroke-width="0.9"/>
<rect x="181.35" y="212.35" width="4.90" height="4.90" fill="#cbf46e" stroke="#45954a" stroke-width="0.9"/>
<polyline points="46.00,229.95 55.84,228.80 65.69,225.36 75.53,224.67 85.37,226.74 95.21,227.66 105.06,224.67 114.90,225.36 124.74,225.36 134.59,228.11 144.43,220.77 154.27,221.23 164.11,220.77 173.96,221.23 183.80,217.79" fill="none" stroke="#529c2e" stroke-width="1"/>
<circle cx="46.00" cy="229.95" r="2.3" fill="#6db446" stroke="#47902a" stroke-width="1"/>
<circle cx="55.84" cy="228.80" r="2.3" fill="#6db446" stroke="#47902a" stroke-width="1"/>
<circle cx="65.69" cy="225.36" r="2.3" fill="#6db446" stroke="#47902a" stroke-width="1"/>
<circle cx="75.53" cy="224.67" r="2.3" fill="#6db446" stroke="#47902a" stroke-width="1"/>
<circle cx="85.37" cy="226.74" r="2.3" fill="#6db446" stroke="#47902a" stroke-width="1"/>
<circle cx="95.21" cy="227.66" r="2.3" fill="#6db446" stroke="#47902a" stroke-width="1"/>
<circle cx="105.06" cy="224.67" r="2.3" fill="#6db446" stroke="#47902a" stroke-width="1"/>
<circle cx="114.90" cy="225.36" r="2.3" fill="#6db446" stroke="#47902a" stroke-width="1"/>
<circle cx="124.74" cy="225.36" r="2.3" fill="#6db446" stroke="#47902a" stroke-width="1"/>
<circle cx="134.59" cy="228.11" r="2.3" fill="#6db446" stroke="#47902a" stroke-width="1"/>
<circle cx="144.43" cy="220.77" r="2.3" fill="#6db446" stroke="#47902a" stroke-width="1"/>
<circle cx="154.27" cy="221.23" r="2.3" fill="#6db446" stroke="#47902a" stroke-width="1"/>
<circle cx="164.11" cy="220.77" r="2.3" fill="#6db446" stroke="#47902a" stroke-width="1"/>
<circle cx="173.96" cy="221.23" r="2.3" fill="#6db446" stroke="#47902a" stroke-width="1"/>
<circle cx="183.80" cy="217.79" r="2.3" fill="#6db446" stroke="#47902a" stroke-width="1"/>
<line x1="46.00" y1="206.30" x2="46.00" y2="303.00" stroke="#000" stroke-width="1.6"/>
<line x1="41.40" y1="298.80" x2="184.50" y2="298.80" stroke="#000" stroke-width="1.6"/>
<line x1="41.40" y1="207.00" x2="46.00" y2="207.00" stroke="#000" stroke-width="1.5"/>
<line x1="41.40" y1="229.95" x2="46.00" y2="229.95" stroke="#000" stroke-width="1.5"/>
<line x1="41.40" y1="252.90" x2="46.00" y2="252.90" stroke="#000" stroke-width="1.5"/>
<line x1="41.40" y1="275.85" x2="46.00" y2="275.85" stroke="#000" stroke-width="1.5"/>
<line x1="55.84" y1="298.80" x2="55.84" y2="303.00" stroke="#000" stroke-width="1.5"/>
<line x1="65.69" y1="298.80" x2="65.69" y2="303.00" stroke="#000" stroke-width="1.5"/>
<line x1="75.53" y1="298.80" x2="75.53" y2="303.00" stroke="#000" stroke-width="1.5"/>
<line x1="85.37" y1="298.80" x2="85.37" y2="303.00" stroke="#000" stroke-width="1.5"/>
<line x1="95.21" y1="298.80" x2="95.21" y2="303.00" stroke="#000" stroke-width="1.5"/>
<line x1="105.06" y1="298.80" x2="105.06" y2="303.00" stroke="#000" stroke-width="1.5"/>
<line x1="114.90" y1="298.80" x2="114.90" y2="303.00" stroke="#000" stroke-width="1.5"/>
<line x1="124.74" y1="298.80" x2="124.74" y2="303.00" stroke="#000" stroke-width="1.5"/>
<line x1="134.59" y1="298.80" x2="134.59" y2="303.00" stroke="#000" stroke-width="1.5"/>
<line x1="144.43" y1="298.80" x2="144.43" y2="303.00" stroke="#000" stroke-width="1.5"/>
<line x1="154.27" y1="298.80" x2="154.27" y2="303.00" stroke="#000" stroke-width="1.5"/>
<line x1="164.11" y1="298.80" x2="164.11" y2="303.00" stroke="#000" stroke-width="1.5"/>
<line x1="173.96" y1="298.80" x2="173.96" y2="303.00" stroke="#000" stroke-width="1.5"/>
<line x1="183.80" y1="298.80" x2="183.80" y2="303.00" stroke="#000" stroke-width="1.5"/>
<text transform="translate(38.60 209.90) scale(1 1.1)" x="0" y="0" font-size="8" font-weight="bold" text-anchor="end" fill="#000" >110</text>
<text transform="translate(38.60 232.85) scale(1 1.1)" x="0" y="0" font-size="8" font-weight="bold" text-anchor="end" fill="#000" >100</text>
<text transform="translate(38.60 255.80) scale(1 1.1)" x="0" y="0" font-size="8" font-weight="bold" text-anchor="end" fill="#000" >90</text>
<text transform="translate(38.60 278.75) scale(1 1.1)" x="0" y="0" font-size="8" font-weight="bold" text-anchor="end" fill="#000" >80</text>
<text transform="translate(38.60 301.70) scale(1 1.1)" x="0" y="0" font-size="8" font-weight="bold" text-anchor="end" fill="#000" >70</text>
<text transform="translate(269.90 199.00) scale(1 1.1)" x="0" y="0" font-size="9" font-weight="bold" text-anchor="middle" fill="#000" >7H10</text>
<line x1="202.80" y1="231.30" x2="339.00" y2="231.30" stroke="#000" stroke-width="1.1" stroke-dasharray="1.3,1.7"/>
<line x1="203.80" y1="289.05" x2="338.00" y2="289.05" stroke="#000" stroke-width="1.1" stroke-dasharray="1.3,1.7"/>
<line x1="210.67" y1="237.07" x2="210.67" y2="244.00" stroke="#6e6e6e" stroke-width="1"/>
<line x1="208.37" y1="237.07" x2="212.97" y2="237.07" stroke="#666" stroke-width="1"/>
<line x1="208.37" y1="244.00" x2="212.97" y2="244.00" stroke="#666" stroke-width="1"/>
<line x1="220.54" y1="228.99" x2="220.54" y2="240.54" stroke="#6e6e6e" stroke-width="1"/>
<line x1="218.24" y1="228.99" x2="222.84" y2="228.99" stroke="#666" stroke-width="1"/>
<line x1="218.24" y1="240.54" x2="222.84" y2="240.54" stroke="#666" stroke-width="1"/>
<line x1="230.41" y1="246.31" x2="230.41" y2="256.71" stroke="#6e6e6e" stroke-width="1"/>
<line x1="228.11" y1="246.31" x2="232.71" y2="246.31" stroke="#666" stroke-width="1"/>
<line x1="228.11" y1="256.71" x2="232.71" y2="256.71" stroke="#666" stroke-width="1"/>
<line x1="240.29" y1="262.49" x2="240.29" y2="277.50" stroke="#6e6e6e" stroke-width="1"/>
<line x1="237.99" y1="262.49" x2="242.59" y2="262.49" stroke="#666" stroke-width="1"/>
<line x1="237.99" y1="277.50" x2="242.59" y2="277.50" stroke="#666" stroke-width="1"/>
<line x1="250.16" y1="267.11" x2="250.16" y2="284.43" stroke="#6e6e6e" stroke-width="1"/>
<line x1="247.86" y1="267.11" x2="252.46" y2="267.11" stroke="#666" stroke-width="1"/>
<line x1="247.86" y1="284.43" x2="252.46" y2="284.43" stroke="#666" stroke-width="1"/>
<line x1="260.03" y1="268.26" x2="260.03" y2="286.74" stroke="#6e6e6e" stroke-width="1"/>
<line x1="257.73" y1="268.26" x2="262.33" y2="268.26" stroke="#666" stroke-width="1"/>
<line x1="257.73" y1="286.74" x2="262.33" y2="286.74" stroke="#666" stroke-width="1"/>
<line x1="269.90" y1="282.12" x2="269.90" y2="298.29" stroke="#6e6e6e" stroke-width="1"/>
<line x1="267.60" y1="282.12" x2="272.20" y2="282.12" stroke="#666" stroke-width="1"/>
<line x1="267.60" y1="298.29" x2="272.20" y2="298.29" stroke="#666" stroke-width="1"/>
<line x1="279.77" y1="255.09" x2="279.77" y2="281.20" stroke="#6e6e6e" stroke-width="1"/>
<line x1="277.47" y1="255.09" x2="282.07" y2="255.09" stroke="#666" stroke-width="1"/>
<line x1="277.47" y1="281.20" x2="282.07" y2="281.20" stroke="#666" stroke-width="1"/>
<line x1="289.64" y1="247.70" x2="289.64" y2="280.04" stroke="#6e6e6e" stroke-width="1"/>
<line x1="287.34" y1="247.70" x2="291.94" y2="247.70" stroke="#666" stroke-width="1"/>
<line x1="287.34" y1="280.04" x2="291.94" y2="280.04" stroke="#666" stroke-width="1"/>
<line x1="287.34" y1="271.49" x2="291.94" y2="271.49" stroke="#666" stroke-width="1"/>
<line x1="299.51" y1="238.92" x2="299.51" y2="275.42" stroke="#6e6e6e" stroke-width="1"/>
<line x1="297.21" y1="238.92" x2="301.81" y2="238.92" stroke="#666" stroke-width="1"/>
<line x1="297.21" y1="275.42" x2="301.81" y2="275.42" stroke="#666" stroke-width="1"/>
<line x1="297.21" y1="245.16" x2="301.81" y2="245.16" stroke="#666" stroke-width="1"/>
<line x1="309.39" y1="238.00" x2="309.39" y2="280.50" stroke="#6e6e6e" stroke-width="1"/>
<line x1="307.09" y1="238.00" x2="311.69" y2="238.00" stroke="#666" stroke-width="1"/>
<line x1="307.09" y1="280.50" x2="311.69" y2="280.50" stroke="#666" stroke-width="1"/>
<line x1="307.09" y1="242.39" x2="311.69" y2="242.39" stroke="#666" stroke-width="1"/>
<line x1="319.26" y1="235.92" x2="319.26" y2="288.82" stroke="#6e6e6e" stroke-width="1"/>
<line x1="316.96" y1="235.92" x2="321.56" y2="235.92" stroke="#666" stroke-width="1"/>
<line x1="316.96" y1="288.82" x2="321.56" y2="288.82" stroke="#666" stroke-width="1"/>
<line x1="316.96" y1="254.40" x2="321.56" y2="254.40" stroke="#666" stroke-width="1"/>
<line x1="329.13" y1="234.53" x2="329.13" y2="284.20" stroke="#6e6e6e" stroke-width="1"/>
<line x1="326.83" y1="234.53" x2="331.43" y2="234.53" stroke="#666" stroke-width="1"/>
<line x1="326.83" y1="284.20" x2="331.43" y2="284.20" stroke="#666" stroke-width="1"/>
<line x1="326.83" y1="244.24" x2="331.43" y2="244.24" stroke="#666" stroke-width="1"/>
<line x1="339.00" y1="230.14" x2="339.00" y2="279.58" stroke="#6e6e6e" stroke-width="1"/>
<line x1="336.70" y1="230.14" x2="341.30" y2="230.14" stroke="#666" stroke-width="1"/>
<line x1="336.70" y1="279.58" x2="341.30" y2="279.58" stroke="#666" stroke-width="1"/>
<polyline points="200.80,231.30 210.67,240.54 220.54,231.30 230.41,249.78 240.29,266.41 250.16,271.03 260.03,272.88 269.90,285.82 279.77,267.34 289.64,260.41 299.51,252.09 309.39,250.94 319.26,246.31 329.13,239.85 339.00,234.07" fill="none" stroke="#222" stroke-width="0.7"/>
<polyline points="200.80,231.30 210.67,239.38 220.54,231.30 230.41,250.94 240.29,272.88 250.16,275.88 260.03,276.35 269.90,285.82 279.77,277.27 289.64,265.72 299.51,258.56 309.39,260.87 319.26,261.56 329.13,252.09 339.00,247.47" fill="none" stroke="#222" stroke-width="0.7"/>
<polyline points="200.80,231.30 210.67,238.23 220.54,232.45 230.41,252.09 240.29,274.04 250.16,281.20 260.03,280.50 269.90,286.74 279.77,268.26 289.64,262.49 299.51,258.56 309.39,260.87 319.26,264.56 329.13,259.71 339.00,256.25" fill="none" stroke="#222" stroke-width="0.7"/>
<polyline points="200.80,231.30 210.67,240.54 220.54,232.22 230.41,252.09 240.29,272.88 250.16,275.88 260.03,272.88 269.90,285.82 279.77,286.05 289.64,291.36" fill="none" stroke="#222" stroke-width="0.7"/>
<polyline points="200.80,231.30 210.67,241.46 220.54,232.22 230.41,253.25 240.29,274.04 250.16,281.20 260.03,280.50 269.90,292.28" fill="none" stroke="#222" stroke-width="0.7"/>
<circle cx="210.67" cy="240.54" r="2.5" fill="#000"/>
<circle cx="220.54" cy="231.30" r="2.5" fill="#000"/>
<circle cx="230.41" cy="249.78" r="2.5" fill="#000"/>
<circle cx="240.29" cy="266.41" r="2.5" fill="#000"/>
<circle cx="250.16" cy="271.03" r="2.5" fill="#000"/>
<circle cx="260.03" cy="272.88" r="2.5" fill="#000"/>
<circle cx="269.90" cy="285.82" r="2.5" fill="#000"/>
<circle cx="279.77" cy="267.34" r="2.5" fill="#000"/>
<circle cx="289.64" cy="260.41" r="2.5" fill="#000"/>
<circle cx="299.51" cy="252.09" r="2.5" fill="#000"/>
<circle cx="309.39" cy="250.94" r="2.5" fill="#000"/>
<circle cx="319.26" cy="246.31" r="2.5" fill="#000"/>
<circle cx="329.13" cy="239.85" r="2.5" fill="#000"/>
<circle cx="339.00" cy="234.07" r="2.5" fill="#000"/>
<circle cx="210.67" cy="239.38" r="2.5" fill="#000"/>
<circle cx="220.54" cy="231.30" r="2.5" fill="#000"/>
<circle cx="230.41" cy="250.94" r="2.5" fill="#000"/>
<circle cx="240.29" cy="272.88" r="2.5" fill="#000"/>
<circle cx="250.16" cy="275.88" r="2.5" fill="#000"/>
<circle cx="260.03" cy="276.35" r="2.5" fill="#000"/>
<circle cx="269.90" cy="285.82" r="2.5" fill="#000"/>
<circle cx="279.77" cy="277.27" r="2.5" fill="#000"/>
<circle cx="289.64" cy="265.72" r="2.5" fill="#000"/>
<circle cx="299.51" cy="258.56" r="2.5" fill="#000"/>
<circle cx="309.39" cy="260.87" r="2.5" fill="#000"/>
<circle cx="319.26" cy="261.56" r="2.5" fill="#000"/>
<circle cx="329.13" cy="252.09" r="2.5" fill="#000"/>
<circle cx="339.00" cy="247.47" r="2.5" fill="#000"/>
<circle cx="210.67" cy="238.23" r="2.5" fill="#000"/>
<circle cx="220.54" cy="232.45" r="2.5" fill="#000"/>
<circle cx="230.41" cy="252.09" r="2.5" fill="#000"/>
<circle cx="240.29" cy="274.04" r="2.5" fill="#000"/>
<circle cx="250.16" cy="281.20" r="2.5" fill="#000"/>
<circle cx="260.03" cy="280.50" r="2.5" fill="#000"/>
<circle cx="269.90" cy="286.74" r="2.5" fill="#000"/>
<circle cx="279.77" cy="268.26" r="2.5" fill="#000"/>
<circle cx="289.64" cy="262.49" r="2.5" fill="#000"/>
<circle cx="299.51" cy="258.56" r="2.5" fill="#000"/>
<circle cx="309.39" cy="260.87" r="2.5" fill="#000"/>
<circle cx="319.26" cy="264.56" r="2.5" fill="#000"/>
<circle cx="329.13" cy="259.71" r="2.5" fill="#000"/>
<circle cx="339.00" cy="256.25" r="2.5" fill="#000"/>
<circle cx="210.67" cy="240.54" r="2.5" fill="#000"/>
<circle cx="220.54" cy="232.22" r="2.5" fill="#000"/>
<circle cx="230.41" cy="252.09" r="2.5" fill="#000"/>
<circle cx="240.29" cy="272.88" r="2.5" fill="#000"/>
<circle cx="250.16" cy="275.88" r="2.5" fill="#000"/>
<circle cx="260.03" cy="272.88" r="2.5" fill="#000"/>
<circle cx="269.90" cy="285.82" r="2.5" fill="#000"/>
<circle cx="279.77" cy="286.05" r="2.5" fill="#000"/>
<circle cx="289.64" cy="291.36" r="2.5" fill="#000"/>
<circle cx="210.67" cy="241.46" r="2.5" fill="#000"/>
<circle cx="220.54" cy="232.22" r="2.5" fill="#000"/>
<circle cx="230.41" cy="253.25" r="2.5" fill="#000"/>
<circle cx="240.29" cy="274.04" r="2.5" fill="#000"/>
<circle cx="250.16" cy="281.20" r="2.5" fill="#000"/>
<circle cx="260.03" cy="280.50" r="2.5" fill="#000"/>
<circle cx="269.90" cy="292.28" r="2.5" fill="#000"/>
<line x1="210.67" y1="233.61" x2="210.67" y2="242.85" stroke="#3560b8" stroke-width="1.05" opacity="0.9"/>
<line x1="208.37" y1="233.61" x2="212.97" y2="233.61" stroke="#3560b8" stroke-width="1.05" opacity="0.9"/>
<line x1="208.37" y1="242.85" x2="212.97" y2="242.85" stroke="#3560b8" stroke-width="1.05" opacity="0.9"/>
<line x1="220.54" y1="226.68" x2="220.54" y2="235.92" stroke="#3560b8" stroke-width="1.05" opacity="0.9"/>
<line x1="218.24" y1="226.68" x2="222.84" y2="226.68" stroke="#3560b8" stroke-width="1.05" opacity="0.9"/>
<line x1="218.24" y1="235.92" x2="222.84" y2="235.92" stroke="#3560b8" stroke-width="1.05" opacity="0.9"/>
<line x1="230.41" y1="247.47" x2="230.41" y2="256.71" stroke="#3560b8" stroke-width="1.05" opacity="0.9"/>
<line x1="228.11" y1="247.47" x2="232.71" y2="247.47" stroke="#3560b8" stroke-width="1.05" opacity="0.9"/>
<line x1="228.11" y1="256.71" x2="232.71" y2="256.71" stroke="#3560b8" stroke-width="1.05" opacity="0.9"/>
<line x1="240.29" y1="270.57" x2="240.29" y2="279.81" stroke="#3560b8" stroke-width="1.05" opacity="0.9"/>
<line x1="237.99" y1="270.57" x2="242.59" y2="270.57" stroke="#3560b8" stroke-width="1.05" opacity="0.9"/>
<line x1="237.99" y1="279.81" x2="242.59" y2="279.81" stroke="#3560b8" stroke-width="1.05" opacity="0.9"/>
<line x1="250.16" y1="276.35" x2="250.16" y2="285.59" stroke="#3560b8" stroke-width="1.05" opacity="0.9"/>
<line x1="247.86" y1="276.35" x2="252.46" y2="276.35" stroke="#3560b8" stroke-width="1.05" opacity="0.9"/>
<line x1="247.86" y1="285.59" x2="252.46" y2="285.59" stroke="#3560b8" stroke-width="1.05" opacity="0.9"/>
<line x1="260.03" y1="270.57" x2="260.03" y2="279.81" stroke="#3560b8" stroke-width="1.05" opacity="0.9"/>
<line x1="257.73" y1="270.57" x2="262.33" y2="270.57" stroke="#3560b8" stroke-width="1.05" opacity="0.9"/>
<line x1="257.73" y1="279.81" x2="262.33" y2="279.81" stroke="#3560b8" stroke-width="1.05" opacity="0.9"/>
<line x1="269.90" y1="286.28" x2="269.90" y2="295.52" stroke="#3560b8" stroke-width="1.05" opacity="0.9"/>
<line x1="267.60" y1="286.28" x2="272.20" y2="286.28" stroke="#3560b8" stroke-width="1.05" opacity="0.9"/>
<line x1="267.60" y1="295.52" x2="272.20" y2="295.52" stroke="#3560b8" stroke-width="1.05" opacity="0.9"/>
<line x1="279.77" y1="270.57" x2="279.77" y2="279.81" stroke="#3560b8" stroke-width="1.05" opacity="0.9"/>
<line x1="277.47" y1="270.57" x2="282.07" y2="270.57" stroke="#3560b8" stroke-width="1.05" opacity="0.9"/>
<line x1="277.47" y1="279.81" x2="282.07" y2="279.81" stroke="#3560b8" stroke-width="1.05" opacity="0.9"/>
<line x1="289.64" y1="268.26" x2="289.64" y2="277.50" stroke="#3560b8" stroke-width="1.05" opacity="0.9"/>
<line x1="287.34" y1="268.26" x2="291.94" y2="268.26" stroke="#3560b8" stroke-width="1.05" opacity="0.9"/>
<line x1="287.34" y1="277.50" x2="291.94" y2="277.50" stroke="#3560b8" stroke-width="1.05" opacity="0.9"/>
<line x1="299.51" y1="258.79" x2="299.51" y2="268.03" stroke="#3560b8" stroke-width="1.05" opacity="0.9"/>
<line x1="297.21" y1="258.79" x2="301.81" y2="258.79" stroke="#3560b8" stroke-width="1.05" opacity="0.9"/>
<line x1="297.21" y1="268.03" x2="301.81" y2="268.03" stroke="#3560b8" stroke-width="1.05" opacity="0.9"/>
<line x1="309.39" y1="259.25" x2="309.39" y2="268.49" stroke="#3560b8" stroke-width="1.05" opacity="0.9"/>
<line x1="307.09" y1="259.25" x2="311.69" y2="259.25" stroke="#3560b8" stroke-width="1.05" opacity="0.9"/>
<line x1="307.09" y1="268.49" x2="311.69" y2="268.49" stroke="#3560b8" stroke-width="1.05" opacity="0.9"/>
<line x1="319.26" y1="259.25" x2="319.26" y2="268.49" stroke="#3560b8" stroke-width="1.05" opacity="0.9"/>
<line x1="316.96" y1="259.25" x2="321.56" y2="259.25" stroke="#3560b8" stroke-width="1.05" opacity="0.9"/>
<line x1="316.96" y1="268.49" x2="321.56" y2="268.49" stroke="#3560b8" stroke-width="1.05" opacity="0.9"/>
<line x1="329.13" y1="254.63" x2="329.13" y2="263.87" stroke="#3560b8" stroke-width="1.05" opacity="0.9"/>
<line x1="326.83" y1="254.63" x2="331.43" y2="254.63" stroke="#3560b8" stroke-width="1.05" opacity="0.9"/>
<line x1="326.83" y1="263.87" x2="331.43" y2="263.87" stroke="#3560b8" stroke-width="1.05" opacity="0.9"/>
<line x1="339.00" y1="250.01" x2="339.00" y2="259.25" stroke="#3560b8" stroke-width="1.05" opacity="0.9"/>
<line x1="336.70" y1="250.01" x2="341.30" y2="250.01" stroke="#3560b8" stroke-width="1.05" opacity="0.9"/>
<line x1="336.70" y1="259.25" x2="341.30" y2="259.25" stroke="#3560b8" stroke-width="1.05" opacity="0.9"/>
<line x1="210.67" y1="235.92" x2="210.67" y2="245.16" stroke="#3a3af4" stroke-width="1.05" opacity="0.9"/>
<line x1="208.37" y1="235.92" x2="212.97" y2="235.92" stroke="#3a3af4" stroke-width="1.05" opacity="0.9"/>
<line x1="208.37" y1="245.16" x2="212.97" y2="245.16" stroke="#3a3af4" stroke-width="1.05" opacity="0.9"/>
<line x1="220.54" y1="225.53" x2="220.54" y2="234.76" stroke="#3a3af4" stroke-width="1.05" opacity="0.9"/>
<line x1="218.24" y1="225.53" x2="222.84" y2="225.53" stroke="#3a3af4" stroke-width="1.05" opacity="0.9"/>
<line x1="218.24" y1="234.76" x2="222.84" y2="234.76" stroke="#3a3af4" stroke-width="1.05" opacity="0.9"/>
<line x1="230.41" y1="247.47" x2="230.41" y2="261.33" stroke="#3a3af4" stroke-width="1.05" opacity="0.9"/>
<line x1="228.11" y1="247.47" x2="232.71" y2="247.47" stroke="#3a3af4" stroke-width="1.05" opacity="0.9"/>
<line x1="228.11" y1="261.33" x2="232.71" y2="261.33" stroke="#3a3af4" stroke-width="1.05" opacity="0.9"/>
<line x1="240.29" y1="265.95" x2="240.29" y2="279.81" stroke="#3a3af4" stroke-width="1.05" opacity="0.9"/>
<line x1="237.99" y1="265.95" x2="242.59" y2="265.95" stroke="#3a3af4" stroke-width="1.05" opacity="0.9"/>
<line x1="237.99" y1="279.81" x2="242.59" y2="279.81" stroke="#3a3af4" stroke-width="1.05" opacity="0.9"/>
<line x1="250.16" y1="277.50" x2="250.16" y2="286.74" stroke="#3a3af4" stroke-width="1.05" opacity="0.9"/>
<line x1="247.86" y1="277.50" x2="252.46" y2="277.50" stroke="#3a3af4" stroke-width="1.05" opacity="0.9"/>
<line x1="247.86" y1="286.74" x2="252.46" y2="286.74" stroke="#3a3af4" stroke-width="1.05" opacity="0.9"/>
<line x1="260.03" y1="267.57" x2="260.03" y2="276.81" stroke="#3a3af4" stroke-width="1.05" opacity="0.9"/>
<line x1="257.73" y1="267.57" x2="262.33" y2="267.57" stroke="#3a3af4" stroke-width="1.05" opacity="0.9"/>
<line x1="257.73" y1="276.81" x2="262.33" y2="276.81" stroke="#3a3af4" stroke-width="1.05" opacity="0.9"/>
<line x1="269.90" y1="284.43" x2="269.90" y2="293.67" stroke="#3a3af4" stroke-width="1.05" opacity="0.9"/>
<line x1="267.60" y1="284.43" x2="272.20" y2="284.43" stroke="#3a3af4" stroke-width="1.05" opacity="0.9"/>
<line x1="267.60" y1="293.67" x2="272.20" y2="293.67" stroke="#3a3af4" stroke-width="1.05" opacity="0.9"/>
<line x1="279.77" y1="270.57" x2="279.77" y2="284.43" stroke="#3a3af4" stroke-width="1.05" opacity="0.9"/>
<line x1="277.47" y1="270.57" x2="282.07" y2="270.57" stroke="#3a3af4" stroke-width="1.05" opacity="0.9"/>
<line x1="277.47" y1="284.43" x2="282.07" y2="284.43" stroke="#3a3af4" stroke-width="1.05" opacity="0.9"/>
<line x1="289.64" y1="268.72" x2="289.64" y2="282.58" stroke="#3a3af4" stroke-width="1.05" opacity="0.9"/>
<line x1="287.34" y1="268.72" x2="291.94" y2="268.72" stroke="#3a3af4" stroke-width="1.05" opacity="0.9"/>
<line x1="287.34" y1="282.58" x2="291.94" y2="282.58" stroke="#3a3af4" stroke-width="1.05" opacity="0.9"/>
<line x1="299.51" y1="268.26" x2="299.51" y2="282.12" stroke="#3a3af4" stroke-width="1.05" opacity="0.9"/>
<line x1="297.21" y1="268.26" x2="301.81" y2="268.26" stroke="#3a3af4" stroke-width="1.05" opacity="0.9"/>
<line x1="297.21" y1="282.12" x2="301.81" y2="282.12" stroke="#3a3af4" stroke-width="1.05" opacity="0.9"/>
<line x1="309.39" y1="269.88" x2="309.39" y2="283.74" stroke="#3a3af4" stroke-width="1.05" opacity="0.9"/>
<line x1="307.09" y1="269.88" x2="311.69" y2="269.88" stroke="#3a3af4" stroke-width="1.05" opacity="0.9"/>
<line x1="307.09" y1="283.74" x2="311.69" y2="283.74" stroke="#3a3af4" stroke-width="1.05" opacity="0.9"/>
<line x1="319.26" y1="271.73" x2="319.26" y2="285.59" stroke="#3a3af4" stroke-width="1.05" opacity="0.9"/>
<line x1="316.96" y1="271.73" x2="321.56" y2="271.73" stroke="#3a3af4" stroke-width="1.05" opacity="0.9"/>
<line x1="316.96" y1="285.59" x2="321.56" y2="285.59" stroke="#3a3af4" stroke-width="1.05" opacity="0.9"/>
<line x1="329.13" y1="256.71" x2="329.13" y2="284.43" stroke="#3a3af4" stroke-width="1.05" opacity="0.9"/>
<line x1="326.83" y1="256.71" x2="331.43" y2="256.71" stroke="#3a3af4" stroke-width="1.05" opacity="0.9"/>
<line x1="326.83" y1="284.43" x2="331.43" y2="284.43" stroke="#3a3af4" stroke-width="1.05" opacity="0.9"/>
<line x1="339.00" y1="251.17" x2="339.00" y2="278.89" stroke="#3a3af4" stroke-width="1.05" opacity="0.9"/>
<line x1="336.70" y1="251.17" x2="341.30" y2="251.17" stroke="#3a3af4" stroke-width="1.05" opacity="0.9"/>
<line x1="336.70" y1="278.89" x2="341.30" y2="278.89" stroke="#3a3af4" stroke-width="1.05" opacity="0.9"/>
<line x1="210.67" y1="230.61" x2="210.67" y2="239.85" stroke="#5aa852" stroke-width="1.05" opacity="0.9"/>
<line x1="208.37" y1="230.61" x2="212.97" y2="230.61" stroke="#5aa852" stroke-width="1.05" opacity="0.9"/>
<line x1="208.37" y1="239.85" x2="212.97" y2="239.85" stroke="#5aa852" stroke-width="1.05" opacity="0.9"/>
<line x1="220.54" y1="223.22" x2="220.54" y2="232.45" stroke="#5aa852" stroke-width="1.05" opacity="0.9"/>
<line x1="218.24" y1="223.22" x2="222.84" y2="223.22" stroke="#5aa852" stroke-width="1.05" opacity="0.9"/>
<line x1="218.24" y1="232.45" x2="222.84" y2="232.45" stroke="#5aa852" stroke-width="1.05" opacity="0.9"/>
<line x1="230.41" y1="241.23" x2="230.41" y2="255.09" stroke="#5aa852" stroke-width="1.05" opacity="0.9"/>
<line x1="228.11" y1="241.23" x2="232.71" y2="241.23" stroke="#5aa852" stroke-width="1.05" opacity="0.9"/>
<line x1="228.11" y1="255.09" x2="232.71" y2="255.09" stroke="#5aa852" stroke-width="1.05" opacity="0.9"/>
<line x1="240.29" y1="269.88" x2="240.29" y2="283.74" stroke="#5aa852" stroke-width="1.05" opacity="0.9"/>
<line x1="237.99" y1="269.88" x2="242.59" y2="269.88" stroke="#5aa852" stroke-width="1.05" opacity="0.9"/>
<line x1="237.99" y1="283.74" x2="242.59" y2="283.74" stroke="#5aa852" stroke-width="1.05" opacity="0.9"/>
<line x1="250.16" y1="276.35" x2="250.16" y2="285.59" stroke="#5aa852" stroke-width="1.05" opacity="0.9"/>
<line x1="247.86" y1="276.35" x2="252.46" y2="276.35" stroke="#5aa852" stroke-width="1.05" opacity="0.9"/>
<line x1="247.86" y1="285.59" x2="252.46" y2="285.59" stroke="#5aa852" stroke-width="1.05" opacity="0.9"/>
<line x1="260.03" y1="272.88" x2="260.03" y2="282.12" stroke="#5aa852" stroke-width="1.05" opacity="0.9"/>
<line x1="257.73" y1="272.88" x2="262.33" y2="272.88" stroke="#5aa852" stroke-width="1.05" opacity="0.9"/>
<line x1="257.73" y1="282.12" x2="262.33" y2="282.12" stroke="#5aa852" stroke-width="1.05" opacity="0.9"/>
<line x1="269.90" y1="282.12" x2="269.90" y2="291.36" stroke="#5aa852" stroke-width="1.05" opacity="0.9"/>
<line x1="267.60" y1="282.12" x2="272.20" y2="282.12" stroke="#5aa852" stroke-width="1.05" opacity="0.9"/>
<line x1="267.60" y1="291.36" x2="272.20" y2="291.36" stroke="#5aa852" stroke-width="1.05" opacity="0.9"/>
<line x1="279.77" y1="268.26" x2="279.77" y2="277.50" stroke="#5aa852" stroke-width="1.05" opacity="0.9"/>
<line x1="277.47" y1="268.26" x2="282.07" y2="268.26" stroke="#5aa852" stroke-width="1.05" opacity="0.9"/>
<line x1="277.47" y1="277.50" x2="282.07" y2="277.50" stroke="#5aa852" stroke-width="1.05" opacity="0.9"/>
<line x1="289.64" y1="275.19" x2="289.64" y2="284.43" stroke="#5aa852" stroke-width="1.05" opacity="0.9"/>
<line x1="287.34" y1="275.19" x2="291.94" y2="275.19" stroke="#5aa852" stroke-width="1.05" opacity="0.9"/>
<line x1="287.34" y1="284.43" x2="291.94" y2="284.43" stroke="#5aa852" stroke-width="1.05" opacity="0.9"/>
<line x1="299.51" y1="275.19" x2="299.51" y2="284.43" stroke="#5aa852" stroke-width="1.05" opacity="0.9"/>
<line x1="297.21" y1="275.19" x2="301.81" y2="275.19" stroke="#5aa852" stroke-width="1.05" opacity="0.9"/>
<line x1="297.21" y1="284.43" x2="301.81" y2="284.43" stroke="#5aa852" stroke-width="1.05" opacity="0.9"/>
<line x1="309.39" y1="277.50" x2="309.39" y2="286.74" stroke="#5aa852" stroke-width="1.05" opacity="0.9"/>
<line x1="307.09" y1="277.50" x2="311.69" y2="277.50" stroke="#5aa852" stroke-width="1.05" opacity="0.9"/>
<line x1="307.09" y1="286.74" x2="311.69" y2="286.74" stroke="#5aa852" stroke-width="1.05" opacity="0.9"/>
<line x1="319.26" y1="282.12" x2="319.26" y2="291.36" stroke="#5aa852" stroke-width="1.05" opacity="0.9"/>
<line x1="316.96" y1="282.12" x2="321.56" y2="282.12" stroke="#5aa852" stroke-width="1.05" opacity="0.9"/>
<line x1="316.96" y1="291.36" x2="321.56" y2="291.36" stroke="#5aa852" stroke-width="1.05" opacity="0.9"/>
<line x1="329.13" y1="268.26" x2="329.13" y2="277.50" stroke="#5aa852" stroke-width="1.05" opacity="0.9"/>
<line x1="326.83" y1="268.26" x2="331.43" y2="268.26" stroke="#5aa852" stroke-width="1.05" opacity="0.9"/>
<line x1="326.83" y1="277.50" x2="331.43" y2="277.50" stroke="#5aa852" stroke-width="1.05" opacity="0.9"/>
<line x1="339.00" y1="254.63" x2="339.00" y2="263.87" stroke="#5aa852" stroke-width="1.05" opacity="0.9"/>
<line x1="336.70" y1="254.63" x2="341.30" y2="254.63" stroke="#5aa852" stroke-width="1.05" opacity="0.9"/>
<line x1="336.70" y1="263.87" x2="341.30" y2="263.87" stroke="#5aa852" stroke-width="1.05" opacity="0.9"/>
<line x1="210.67" y1="232.45" x2="210.67" y2="241.69" stroke="#62a840" stroke-width="1.05" opacity="0.9"/>
<line x1="208.37" y1="232.45" x2="212.97" y2="232.45" stroke="#62a840" stroke-width="1.05" opacity="0.9"/>
<line x1="208.37" y1="241.69" x2="212.97" y2="241.69" stroke="#62a840" stroke-width="1.05" opacity="0.9"/>
<line x1="220.54" y1="226.68" x2="220.54" y2="245.16" stroke="#62a840" stroke-width="1.05" opacity="0.9"/>
<line x1="218.24" y1="226.68" x2="222.84" y2="226.68" stroke="#62a840" stroke-width="1.05" opacity="0.9"/>
<line x1="218.24" y1="245.16" x2="222.84" y2="245.16" stroke="#62a840" stroke-width="1.05" opacity="0.9"/>
<line x1="230.41" y1="237.77" x2="230.41" y2="270.11" stroke="#62a840" stroke-width="1.05" opacity="0.9"/>
<line x1="228.11" y1="237.77" x2="232.71" y2="237.77" stroke="#62a840" stroke-width="1.05" opacity="0.9"/>
<line x1="228.11" y1="270.11" x2="232.71" y2="270.11" stroke="#62a840" stroke-width="1.05" opacity="0.9"/>
<line x1="240.29" y1="274.04" x2="240.29" y2="287.90" stroke="#62a840" stroke-width="1.05" opacity="0.9"/>
<line x1="237.99" y1="274.04" x2="242.59" y2="274.04" stroke="#62a840" stroke-width="1.05" opacity="0.9"/>
<line x1="237.99" y1="287.90" x2="242.59" y2="287.90" stroke="#62a840" stroke-width="1.05" opacity="0.9"/>
<line x1="250.16" y1="270.57" x2="250.16" y2="279.81" stroke="#62a840" stroke-width="1.05" opacity="0.9"/>
<line x1="247.86" y1="270.57" x2="252.46" y2="270.57" stroke="#62a840" stroke-width="1.05" opacity="0.9"/>
<line x1="247.86" y1="279.81" x2="252.46" y2="279.81" stroke="#62a840" stroke-width="1.05" opacity="0.9"/>
<line x1="260.03" y1="272.88" x2="260.03" y2="282.12" stroke="#62a840" stroke-width="1.05" opacity="0.9"/>
<line x1="257.73" y1="272.88" x2="262.33" y2="272.88" stroke="#62a840" stroke-width="1.05" opacity="0.9"/>
<line x1="257.73" y1="282.12" x2="262.33" y2="282.12" stroke="#62a840" stroke-width="1.05" opacity="0.9"/>
<line x1="269.90" y1="280.97" x2="269.90" y2="290.21" stroke="#62a840" stroke-width="1.05" opacity="0.9"/>
<line x1="267.60" y1="280.97" x2="272.20" y2="280.97" stroke="#62a840" stroke-width="1.05" opacity="0.9"/>
<line x1="267.60" y1="290.21" x2="272.20" y2="290.21" stroke="#62a840" stroke-width="1.05" opacity="0.9"/>
<line x1="279.77" y1="272.88" x2="279.77" y2="282.12" stroke="#62a840" stroke-width="1.05" opacity="0.9"/>
<line x1="277.47" y1="272.88" x2="282.07" y2="272.88" stroke="#62a840" stroke-width="1.05" opacity="0.9"/>
<line x1="277.47" y1="282.12" x2="282.07" y2="282.12" stroke="#62a840" stroke-width="1.05" opacity="0.9"/>
<line x1="289.64" y1="263.41" x2="289.64" y2="272.65" stroke="#62a840" stroke-width="1.05" opacity="0.9"/>
<line x1="287.34" y1="263.41" x2="291.94" y2="263.41" stroke="#62a840" stroke-width="1.05" opacity="0.9"/>
<line x1="287.34" y1="272.65" x2="291.94" y2="272.65" stroke="#62a840" stroke-width="1.05" opacity="0.9"/>
<line x1="299.51" y1="255.32" x2="299.51" y2="264.56" stroke="#62a840" stroke-width="1.05" opacity="0.9"/>
<line x1="297.21" y1="255.32" x2="301.81" y2="255.32" stroke="#62a840" stroke-width="1.05" opacity="0.9"/>
<line x1="297.21" y1="264.56" x2="301.81" y2="264.56" stroke="#62a840" stroke-width="1.05" opacity="0.9"/>
<line x1="309.39" y1="253.48" x2="309.39" y2="262.72" stroke="#62a840" stroke-width="1.05" opacity="0.9"/>
<line x1="307.09" y1="253.48" x2="311.69" y2="253.48" stroke="#62a840" stroke-width="1.05" opacity="0.9"/>
<line x1="307.09" y1="262.72" x2="311.69" y2="262.72" stroke="#62a840" stroke-width="1.05" opacity="0.9"/>
<line x1="319.26" y1="246.31" x2="319.26" y2="255.56" stroke="#62a840" stroke-width="1.05" opacity="0.9"/>
<line x1="316.96" y1="246.31" x2="321.56" y2="246.31" stroke="#62a840" stroke-width="1.05" opacity="0.9"/>
<line x1="316.96" y1="255.56" x2="321.56" y2="255.56" stroke="#62a840" stroke-width="1.05" opacity="0.9"/>
<line x1="329.13" y1="240.54" x2="329.13" y2="249.78" stroke="#62a840" stroke-width="1.05" opacity="0.9"/>
<line x1="326.83" y1="240.54" x2="331.43" y2="240.54" stroke="#62a840" stroke-width="1.05" opacity="0.9"/>
<line x1="326.83" y1="249.78" x2="331.43" y2="249.78" stroke="#62a840" stroke-width="1.05" opacity="0.9"/>
<line x1="339.00" y1="236.15" x2="339.00" y2="245.39" stroke="#62a840" stroke-width="1.05" opacity="0.9"/>
<line x1="336.70" y1="236.15" x2="341.30" y2="236.15" stroke="#62a840" stroke-width="1.05" opacity="0.9"/>
<line x1="336.70" y1="245.39" x2="341.30" y2="245.39" stroke="#62a840" stroke-width="1.05" opacity="0.9"/>
<polyline points="200.80,231.30 210.67,238.23 220.54,231.30 230.41,252.09 240.29,275.19 250.16,280.97 260.03,275.19 269.90,290.90 279.77,275.19 289.64,272.88 299.51,263.41 309.39,263.87 319.26,263.87 329.13,259.25 339.00,254.63" fill="none" stroke="#2d52a8" stroke-width="1"/>
<rect x="198.35" y="228.85" width="4.90" height="4.90" fill="#80d2f8" stroke="#2b52ae" stroke-width="0.9"/>
<rect x="208.22" y="235.78" width="4.90" height="4.90" fill="#80d2f8" stroke="#2b52ae" stroke-width="0.9"/>
<rect x="218.09" y="228.85" width="4.90" height="4.90" fill="#80d2f8" stroke="#2b52ae" stroke-width="0.9"/>
<rect x="227.96" y="249.64" width="4.90" height="4.90" fill="#80d2f8" stroke="#2b52ae" stroke-width="0.9"/>
<rect x="237.84" y="272.74" width="4.90" height="4.90" fill="#80d2f8" stroke="#2b52ae" stroke-width="0.9"/>
<rect x="247.71" y="278.52" width="4.90" height="4.90" fill="#80d2f8" stroke="#2b52ae" stroke-width="0.9"/>
<rect x="257.58" y="272.74" width="4.90" height="4.90" fill="#80d2f8" stroke="#2b52ae" stroke-width="0.9"/>
<rect x="267.45" y="288.45" width="4.90" height="4.90" fill="#80d2f8" stroke="#2b52ae" stroke-width="0.9"/>
<rect x="277.32" y="272.74" width="4.90" height="4.90" fill="#80d2f8" stroke="#2b52ae" stroke-width="0.9"/>
<rect x="287.19" y="270.43" width="4.90" height="4.90" fill="#80d2f8" stroke="#2b52ae" stroke-width="0.9"/>
<rect x="297.06" y="260.96" width="4.90" height="4.90" fill="#80d2f8" stroke="#2b52ae" stroke-width="0.9"/>
<rect x="306.94" y="261.42" width="4.90" height="4.90" fill="#80d2f8" stroke="#2b52ae" stroke-width="0.9"/>
<rect x="316.81" y="261.42" width="4.90" height="4.90" fill="#80d2f8" stroke="#2b52ae" stroke-width="0.9"/>
<rect x="326.68" y="256.80" width="4.90" height="4.90" fill="#80d2f8" stroke="#2b52ae" stroke-width="0.9"/>
<rect x="336.55" y="252.18" width="4.90" height="4.90" fill="#80d2f8" stroke="#2b52ae" stroke-width="0.9"/>
<polyline points="200.80,231.30 210.67,240.54 220.54,230.14 230.41,254.40 240.29,272.88 250.16,282.12 260.03,272.19 269.90,289.05 279.77,277.50 289.64,275.65 299.51,275.19 309.39,276.81 319.26,278.66 329.13,270.57 339.00,265.03" fill="none" stroke="#2222f6" stroke-width="1"/>
<circle cx="200.80" cy="231.30" r="2.3" fill="#5656f8" stroke="#1818ee" stroke-width="1"/>
<circle cx="210.67" cy="240.54" r="2.3" fill="#5656f8" stroke="#1818ee" stroke-width="1"/>
<circle cx="220.54" cy="230.14" r="2.3" fill="#5656f8" stroke="#1818ee" stroke-width="1"/>
<circle cx="230.41" cy="254.40" r="2.3" fill="#5656f8" stroke="#1818ee" stroke-width="1"/>
<circle cx="240.29" cy="272.88" r="2.3" fill="#5656f8" stroke="#1818ee" stroke-width="1"/>
<circle cx="250.16" cy="282.12" r="2.3" fill="#5656f8" stroke="#1818ee" stroke-width="1"/>
<circle cx="260.03" cy="272.19" r="2.3" fill="#5656f8" stroke="#1818ee" stroke-width="1"/>
<circle cx="269.90" cy="289.05" r="2.3" fill="#5656f8" stroke="#1818ee" stroke-width="1"/>
<circle cx="279.77" cy="277.50" r="2.3" fill="#5656f8" stroke="#1818ee" stroke-width="1"/>
<circle cx="289.64" cy="275.65" r="2.3" fill="#5656f8" stroke="#1818ee" stroke-width="1"/>
<circle cx="299.51" cy="275.19" r="2.3" fill="#5656f8" stroke="#1818ee" stroke-width="1"/>
<circle cx="309.39" cy="276.81" r="2.3" fill="#5656f8" stroke="#1818ee" stroke-width="1"/>
<circle cx="319.26" cy="278.66" r="2.3" fill="#5656f8" stroke="#1818ee" stroke-width="1"/>
<circle cx="329.13" cy="270.57" r="2.3" fill="#5656f8" stroke="#1818ee" stroke-width="1"/>
<circle cx="339.00" cy="265.03" r="2.3" fill="#5656f8" stroke="#1818ee" stroke-width="1"/>
<polyline points="200.80,231.30 210.67,235.23 220.54,227.84 230.41,248.16 240.29,276.81 250.16,280.97 260.03,277.50 269.90,286.74 279.77,272.88 289.64,279.81 299.51,279.81 309.39,282.12 319.26,286.74 329.13,272.88 339.00,259.25" fill="none" stroke="#4c9c4a" stroke-width="1"/>
<rect x="198.35" y="228.85" width="4.90" height="4.90" fill="#cbf46e" stroke="#45954a" stroke-width="0.9"/>
<rect x="208.22" y="232.78" width="4.90" height="4.90" fill="#cbf46e" stroke="#45954a" stroke-width="0.9"/>
<rect x="218.09" y="225.39" width="4.90" height="4.90" fill="#cbf46e" stroke="#45954a" stroke-width="0.9"/>
<rect x="227.96" y="245.71" width="4.90" height="4.90" fill="#cbf46e" stroke="#45954a" stroke-width="0.9"/>
<rect x="237.84" y="274.36" width="4.90" height="4.90" fill="#cbf46e" stroke="#45954a" stroke-width="0.9"/>
<rect x="247.71" y="278.52" width="4.90" height="4.90" fill="#cbf46e" stroke="#45954a" stroke-width="0.9"/>
<rect x="257.58" y="275.05" width="4.90" height="4.90" fill="#cbf46e" stroke="#45954a" stroke-width="0.9"/>
<rect x="267.45" y="284.29" width="4.90" height="4.90" fill="#cbf46e" stroke="#45954a" stroke-width="0.9"/>
<rect x="277.32" y="270.43" width="4.90" height="4.90" fill="#cbf46e" stroke="#45954a" stroke-width="0.9"/>
<rect x="287.19" y="277.36" width="4.90" height="4.90" fill="#cbf46e" stroke="#45954a" stroke-width="0.9"/>
<rect x="297.06" y="277.36" width="4.90" height="4.90" fill="#cbf46e" stroke="#45954a" stroke-width="0.9"/>
<rect x="306.94" y="279.67" width="4.90" height="4.90" fill="#cbf46e" stroke="#45954a" stroke-width="0.9"/>
<rect x="316.81" y="284.29" width="4.90" height="4.90" fill="#cbf46e" stroke="#45954a" stroke-width="0.9"/>
<rect x="326.68" y="270.43" width="4.90" height="4.90" fill="#cbf46e" stroke="#45954a" stroke-width="0.9"/>
<rect x="336.55" y="256.80" width="4.90" height="4.90" fill="#cbf46e" stroke="#45954a" stroke-width="0.9"/>
<polyline points="200.80,231.30 210.67,237.07 220.54,235.92 230.41,253.94 240.29,280.97 250.16,275.19 260.03,277.50 269.90,285.59 279.77,277.50 289.64,268.03 299.51,259.94 309.39,258.10 319.26,250.94 329.13,245.16 339.00,240.77" fill="none" stroke="#529c2e" stroke-width="1"/>
<circle cx="200.80" cy="231.30" r="2.3" fill="#6db446" stroke="#47902a" stroke-width="1"/>
<circle cx="210.67" cy="237.07" r="2.3" fill="#6db446" stroke="#47902a" stroke-width="1"/>
<circle cx="220.54" cy="235.92" r="2.3" fill="#6db446" stroke="#47902a" stroke-width="1"/>
<circle cx="230.41" cy="253.94" r="2.3" fill="#6db446" stroke="#47902a" stroke-width="1"/>
<circle cx="240.29" cy="280.97" r="2.3" fill="#6db446" stroke="#47902a" stroke-width="1"/>
<circle cx="250.16" cy="275.19" r="2.3" fill="#6db446" stroke="#47902a" stroke-width="1"/>
<circle cx="260.03" cy="277.50" r="2.3" fill="#6db446" stroke="#47902a" stroke-width="1"/>
<circle cx="269.90" cy="285.59" r="2.3" fill="#6db446" stroke="#47902a" stroke-width="1"/>
<circle cx="279.77" cy="277.50" r="2.3" fill="#6db446" stroke="#47902a" stroke-width="1"/>
<circle cx="289.64" cy="268.03" r="2.3" fill="#6db446" stroke="#47902a" stroke-width="1"/>
<circle cx="299.51" cy="259.94" r="2.3" fill="#6db446" stroke="#47902a" stroke-width="1"/>
<circle cx="309.39" cy="258.10" r="2.3" fill="#6db446" stroke="#47902a" stroke-width="1"/>
<circle cx="319.26" cy="250.94" r="2.3" fill="#6db446" stroke="#47902a" stroke-width="1"/>
<circle cx="329.13" cy="245.16" r="2.3" fill="#6db446" stroke="#47902a" stroke-width="1"/>
<circle cx="339.00" cy="240.77" r="2.3" fill="#6db446" stroke="#47902a" stroke-width="1"/>
<line x1="200.80" y1="207.50" x2="200.80" y2="304.80" stroke="#000" stroke-width="1.6"/>
<line x1="196.20" y1="300.60" x2="339.70" y2="300.60" stroke="#000" stroke-width="1.6"/>
<line x1="196.20" y1="208.20" x2="200.80" y2="208.20" stroke="#000" stroke-width="1.5"/>
<line x1="196.20" y1="231.30" x2="200.80" y2="231.30" stroke="#000" stroke-width="1.5"/>
<line x1="196.20" y1="254.40" x2="200.80" y2="254.40" stroke="#000" stroke-width="1.5"/>
<line x1="196.20" y1="277.50" x2="200.80" y2="277.50" stroke="#000" stroke-width="1.5"/>
<line x1="210.67" y1="300.60" x2="210.67" y2="304.80" stroke="#000" stroke-width="1.5"/>
<line x1="220.54" y1="300.60" x2="220.54" y2="304.80" stroke="#000" stroke-width="1.5"/>
<line x1="230.41" y1="300.60" x2="230.41" y2="304.80" stroke="#000" stroke-width="1.5"/>
<line x1="240.29" y1="300.60" x2="240.29" y2="304.80" stroke="#000" stroke-width="1.5"/>
<line x1="250.16" y1="300.60" x2="250.16" y2="304.80" stroke="#000" stroke-width="1.5"/>
<line x1="260.03" y1="300.60" x2="260.03" y2="304.80" stroke="#000" stroke-width="1.5"/>
<line x1="269.90" y1="300.60" x2="269.90" y2="304.80" stroke="#000" stroke-width="1.5"/>
<line x1="279.77" y1="300.60" x2="279.77" y2="304.80" stroke="#000" stroke-width="1.5"/>
<line x1="289.64" y1="300.60" x2="289.64" y2="304.80" stroke="#000" stroke-width="1.5"/>
<line x1="299.51" y1="300.60" x2="299.51" y2="304.80" stroke="#000" stroke-width="1.5"/>
<line x1="309.39" y1="300.60" x2="309.39" y2="304.80" stroke="#000" stroke-width="1.5"/>
<line x1="319.26" y1="300.60" x2="319.26" y2="304.80" stroke="#000" stroke-width="1.5"/>
<line x1="329.13" y1="300.60" x2="329.13" y2="304.80" stroke="#000" stroke-width="1.5"/>
<line x1="339.00" y1="300.60" x2="339.00" y2="304.80" stroke="#000" stroke-width="1.5"/>
<text transform="translate(114.80 323.00) scale(1 1.1)" x="0" y="0" font-size="9" font-weight="bold" text-anchor="middle" fill="#000" >20D10</text>
<line x1="47.90" y1="353.80" x2="183.70" y2="353.80" stroke="#000" stroke-width="1.1" stroke-dasharray="1.3,1.7"/>
<line x1="48.90" y1="411.30" x2="182.70" y2="411.30" stroke="#000" stroke-width="1.1" stroke-dasharray="1.3,1.7"/>
<line x1="55.74" y1="359.55" x2="55.74" y2="366.45" stroke="#6e6e6e" stroke-width="1"/>
<line x1="53.44" y1="359.55" x2="58.04" y2="359.55" stroke="#666" stroke-width="1"/>
<line x1="53.44" y1="366.45" x2="58.04" y2="366.45" stroke="#666" stroke-width="1"/>
<line x1="65.59" y1="351.50" x2="65.59" y2="363.00" stroke="#6e6e6e" stroke-width="1"/>
<line x1="63.29" y1="351.50" x2="67.89" y2="351.50" stroke="#666" stroke-width="1"/>
<line x1="63.29" y1="363.00" x2="67.89" y2="363.00" stroke="#666" stroke-width="1"/>
<line x1="75.43" y1="368.75" x2="75.43" y2="379.10" stroke="#6e6e6e" stroke-width="1"/>
<line x1="73.13" y1="368.75" x2="77.73" y2="368.75" stroke="#666" stroke-width="1"/>
<line x1="73.13" y1="379.10" x2="77.73" y2="379.10" stroke="#666" stroke-width="1"/>
<line x1="85.27" y1="384.85" x2="85.27" y2="399.80" stroke="#6e6e6e" stroke-width="1"/>
<line x1="82.97" y1="384.85" x2="87.57" y2="384.85" stroke="#666" stroke-width="1"/>
<line x1="82.97" y1="399.80" x2="87.57" y2="399.80" stroke="#666" stroke-width="1"/>
<line x1="95.11" y1="389.45" x2="95.11" y2="406.70" stroke="#6e6e6e" stroke-width="1"/>
<line x1="92.81" y1="389.45" x2="97.41" y2="389.45" stroke="#666" stroke-width="1"/>
<line x1="92.81" y1="406.70" x2="97.41" y2="406.70" stroke="#666" stroke-width="1"/>
<line x1="104.96" y1="390.60" x2="104.96" y2="409.00" stroke="#6e6e6e" stroke-width="1"/>
<line x1="102.66" y1="390.60" x2="107.26" y2="390.60" stroke="#666" stroke-width="1"/>
<line x1="102.66" y1="409.00" x2="107.26" y2="409.00" stroke="#666" stroke-width="1"/>
<line x1="114.80" y1="404.40" x2="114.80" y2="420.50" stroke="#6e6e6e" stroke-width="1"/>
<line x1="112.50" y1="404.40" x2="117.10" y2="404.40" stroke="#666" stroke-width="1"/>
<line x1="112.50" y1="420.50" x2="117.10" y2="420.50" stroke="#666" stroke-width="1"/>
<line x1="124.64" y1="377.49" x2="124.64" y2="403.48" stroke="#6e6e6e" stroke-width="1"/>
<line x1="122.34" y1="377.49" x2="126.94" y2="377.49" stroke="#666" stroke-width="1"/>
<line x1="122.34" y1="403.48" x2="126.94" y2="403.48" stroke="#666" stroke-width="1"/>
<line x1="134.49" y1="370.13" x2="134.49" y2="402.33" stroke="#6e6e6e" stroke-width="1"/>
<line x1="132.19" y1="370.13" x2="136.79" y2="370.13" stroke="#666" stroke-width="1"/>
<line x1="132.19" y1="402.33" x2="136.79" y2="402.33" stroke="#666" stroke-width="1"/>
<line x1="132.19" y1="393.82" x2="136.79" y2="393.82" stroke="#666" stroke-width="1"/>
<line x1="144.33" y1="361.39" x2="144.33" y2="397.73" stroke="#6e6e6e" stroke-width="1"/>
<line x1="142.03" y1="361.39" x2="146.63" y2="361.39" stroke="#666" stroke-width="1"/>
<line x1="142.03" y1="397.73" x2="146.63" y2="397.73" stroke="#666" stroke-width="1"/>
<line x1="142.03" y1="367.60" x2="146.63" y2="367.60" stroke="#666" stroke-width="1"/>
<line x1="154.17" y1="360.47" x2="154.17" y2="402.79" stroke="#6e6e6e" stroke-width="1"/>
<line x1="151.87" y1="360.47" x2="156.47" y2="360.47" stroke="#666" stroke-width="1"/>
<line x1="151.87" y1="402.79" x2="156.47" y2="402.79" stroke="#666" stroke-width="1"/>
<line x1="151.87" y1="364.84" x2="156.47" y2="364.84" stroke="#666" stroke-width="1"/>
<line x1="164.01" y1="358.40" x2="164.01" y2="411.07" stroke="#6e6e6e" stroke-width="1"/>
<line x1="161.71" y1="358.40" x2="166.31" y2="358.40" stroke="#666" stroke-width="1"/>
<line x1="161.71" y1="411.07" x2="166.31" y2="411.07" stroke="#666" stroke-width="1"/>
<line x1="161.71" y1="376.80" x2="166.31" y2="376.80" stroke="#666" stroke-width="1"/>
<line x1="173.86" y1="357.02" x2="173.86" y2="406.47" stroke="#6e6e6e" stroke-width="1"/>
<line x1="171.56" y1="357.02" x2="176.16" y2="357.02" stroke="#666" stroke-width="1"/>
<line x1="171.56" y1="406.47" x2="176.16" y2="406.47" stroke="#666" stroke-width="1"/>
<line x1="171.56" y1="366.68" x2="176.16" y2="366.68" stroke="#666" stroke-width="1"/>
<line x1="183.70" y1="352.65" x2="183.70" y2="401.87" stroke="#6e6e6e" stroke-width="1"/>
<line x1="181.40" y1="352.65" x2="186.00" y2="352.65" stroke="#666" stroke-width="1"/>
<line x1="181.40" y1="401.87" x2="186.00" y2="401.87" stroke="#666" stroke-width="1"/>
<polyline points="45.90,353.80 55.74,363.00 65.59,353.80 75.43,372.20 85.27,388.76 95.11,393.36 104.96,395.20 114.80,408.08 124.64,389.68 134.49,382.78 144.33,374.50 154.17,373.35 164.01,368.75 173.86,362.31 183.70,356.56" fill="none" stroke="#222" stroke-width="0.7"/>
<polyline points="45.90,353.80 55.74,361.85 65.59,353.80 75.43,373.35 85.27,395.20 95.11,398.19 104.96,398.65 114.80,408.08 124.64,399.57 134.49,388.07 144.33,380.94 154.17,383.24 164.01,383.93 173.86,374.50 183.70,369.90" fill="none" stroke="#222" stroke-width="0.7"/>
<polyline points="45.90,353.80 55.74,360.70 65.59,354.95 75.43,374.50 85.27,396.35 95.11,403.48 104.96,402.79 114.80,409.00 124.64,390.60 134.49,384.85 144.33,380.94 154.17,383.24 164.01,386.92 173.86,382.09 183.70,378.64" fill="none" stroke="#222" stroke-width="0.7"/>
<polyline points="45.90,353.80 55.74,363.00 65.59,354.72 75.43,374.50 85.27,395.20 95.11,398.19 104.96,395.20 114.80,408.08 124.64,408.31 134.49,413.60" fill="none" stroke="#222" stroke-width="0.7"/>
<polyline points="45.90,353.80 55.74,363.92 65.59,354.72 75.43,375.65 85.27,396.35 95.11,403.48 104.96,402.79 114.80,414.52" fill="none" stroke="#222" stroke-width="0.7"/>
<circle cx="55.74" cy="363.00" r="2.5" fill="#000"/>
<circle cx="65.59" cy="353.80" r="2.5" fill="#000"/>
<circle cx="75.43" cy="372.20" r="2.5" fill="#000"/>
<circle cx="85.27" cy="388.76" r="2.5" fill="#000"/>
<circle cx="95.11" cy="393.36" r="2.5" fill="#000"/>
<circle cx="104.96" cy="395.20" r="2.5" fill="#000"/>
<circle cx="114.80" cy="408.08" r="2.5" fill="#000"/>
<circle cx="124.64" cy="389.68" r="2.5" fill="#000"/>
<circle cx="134.49" cy="382.78" r="2.5" fill="#000"/>
<circle cx="144.33" cy="374.50" r="2.5" fill="#000"/>
<circle cx="154.17" cy="373.35" r="2.5" fill="#000"/>
<circle cx="164.01" cy="368.75" r="2.5" fill="#000"/>
<circle cx="173.86" cy="362.31" r="2.5" fill="#000"/>
<circle cx="183.70" cy="356.56" r="2.5" fill="#000"/>
<circle cx="55.74" cy="361.85" r="2.5" fill="#000"/>
<circle cx="65.59" cy="353.80" r="2.5" fill="#000"/>
<circle cx="75.43" cy="373.35" r="2.5" fill="#000"/>
<circle cx="85.27" cy="395.20" r="2.5" fill="#000"/>
<circle cx="95.11" cy="398.19" r="2.5" fill="#000"/>
<circle cx="104.96" cy="398.65" r="2.5" fill="#000"/>
<circle cx="114.80" cy="408.08" r="2.5" fill="#000"/>
<circle cx="124.64" cy="399.57" r="2.5" fill="#000"/>
<circle cx="134.49" cy="388.07" r="2.5" fill="#000"/>
<circle cx="144.33" cy="380.94" r="2.5" fill="#000"/>
<circle cx="154.17" cy="383.24" r="2.5" fill="#000"/>
<circle cx="164.01" cy="383.93" r="2.5" fill="#000"/>
<circle cx="173.86" cy="374.50" r="2.5" fill="#000"/>
<circle cx="183.70" cy="369.90" r="2.5" fill="#000"/>
<circle cx="55.74" cy="360.70" r="2.5" fill="#000"/>
<circle cx="65.59" cy="354.95" r="2.5" fill="#000"/>
<circle cx="75.43" cy="374.50" r="2.5" fill="#000"/>
<circle cx="85.27" cy="396.35" r="2.5" fill="#000"/>
<circle cx="95.11" cy="403.48" r="2.5" fill="#000"/>
<circle cx="104.96" cy="402.79" r="2.5" fill="#000"/>
<circle cx="114.80" cy="409.00" r="2.5" fill="#000"/>
<circle cx="124.64" cy="390.60" r="2.5" fill="#000"/>
<circle cx="134.49" cy="384.85" r="2.5" fill="#000"/>
<circle cx="144.33" cy="380.94" r="2.5" fill="#000"/>
<circle cx="154.17" cy="383.24" r="2.5" fill="#000"/>
<circle cx="164.01" cy="386.92" r="2.5" fill="#000"/>
<circle cx="173.86" cy="382.09" r="2.5" fill="#000"/>
<circle cx="183.70" cy="378.64" r="2.5" fill="#000"/>
<circle cx="55.74" cy="363.00" r="2.5" fill="#000"/>
<circle cx="65.59" cy="354.72" r="2.5" fill="#000"/>
<circle cx="75.43" cy="374.50" r="2.5" fill="#000"/>
<circle cx="85.27" cy="395.20" r="2.5" fill="#000"/>
<circle cx="95.11" cy="398.19" r="2.5" fill="#000"/>
<circle cx="104.96" cy="395.20" r="2.5" fill="#000"/>
<circle cx="114.80" cy="408.08" r="2.5" fill="#000"/>
<circle cx="124.64" cy="408.31" r="2.5" fill="#000"/>
<circle cx="134.49" cy="413.60" r="2.5" fill="#000"/>
<circle cx="55.74" cy="363.92" r="2.5" fill="#000"/>
<circle cx="65.59" cy="354.72" r="2.5" fill="#000"/>
<circle cx="75.43" cy="375.65" r="2.5" fill="#000"/>
<circle cx="85.27" cy="396.35" r="2.5" fill="#000"/>
<circle cx="95.11" cy="403.48" r="2.5" fill="#000"/>
<circle cx="104.96" cy="402.79" r="2.5" fill="#000"/>
<circle cx="114.80" cy="414.52" r="2.5" fill="#000"/>
<line x1="55.74" y1="356.79" x2="55.74" y2="363.69" stroke="#3560b8" stroke-width="1.05" opacity="0.9"/>
<line x1="53.44" y1="356.79" x2="58.04" y2="356.79" stroke="#3560b8" stroke-width="1.05" opacity="0.9"/>
<line x1="53.44" y1="363.69" x2="58.04" y2="363.69" stroke="#3560b8" stroke-width="1.05" opacity="0.9"/>
<line x1="65.59" y1="349.66" x2="65.59" y2="356.56" stroke="#3560b8" stroke-width="1.05" opacity="0.9"/>
<line x1="63.29" y1="349.66" x2="67.89" y2="349.66" stroke="#3560b8" stroke-width="1.05" opacity="0.9"/>
<line x1="63.29" y1="356.56" x2="67.89" y2="356.56" stroke="#3560b8" stroke-width="1.05" opacity="0.9"/>
<line x1="75.43" y1="359.09" x2="75.43" y2="372.89" stroke="#3560b8" stroke-width="1.05" opacity="0.9"/>
<line x1="73.13" y1="359.09" x2="77.73" y2="359.09" stroke="#3560b8" stroke-width="1.05" opacity="0.9"/>
<line x1="73.13" y1="372.89" x2="77.73" y2="372.89" stroke="#3560b8" stroke-width="1.05" opacity="0.9"/>
<line x1="85.27" y1="377.95" x2="85.27" y2="391.75" stroke="#3560b8" stroke-width="1.05" opacity="0.9"/>
<line x1="82.97" y1="377.95" x2="87.57" y2="377.95" stroke="#3560b8" stroke-width="1.05" opacity="0.9"/>
<line x1="82.97" y1="391.75" x2="87.57" y2="391.75" stroke="#3560b8" stroke-width="1.05" opacity="0.9"/>
<line x1="95.11" y1="381.86" x2="95.11" y2="393.36" stroke="#3560b8" stroke-width="1.05" opacity="0.9"/>
<line x1="92.81" y1="381.86" x2="97.41" y2="381.86" stroke="#3560b8" stroke-width="1.05" opacity="0.9"/>
<line x1="92.81" y1="393.36" x2="97.41" y2="393.36" stroke="#3560b8" stroke-width="1.05" opacity="0.9"/>
<line x1="104.96" y1="386.00" x2="104.96" y2="399.80" stroke="#3560b8" stroke-width="1.05" opacity="0.9"/>
<line x1="102.66" y1="386.00" x2="107.26" y2="386.00" stroke="#3560b8" stroke-width="1.05" opacity="0.9"/>
<line x1="102.66" y1="399.80" x2="107.26" y2="399.80" stroke="#3560b8" stroke-width="1.05" opacity="0.9"/>
<line x1="114.80" y1="397.27" x2="114.80" y2="411.07" stroke="#3560b8" stroke-width="1.05" opacity="0.9"/>
<line x1="112.50" y1="397.27" x2="117.10" y2="397.27" stroke="#3560b8" stroke-width="1.05" opacity="0.9"/>
<line x1="112.50" y1="411.07" x2="117.10" y2="411.07" stroke="#3560b8" stroke-width="1.05" opacity="0.9"/>
<line x1="124.64" y1="383.93" x2="124.64" y2="416.13" stroke="#3560b8" stroke-width="1.05" opacity="0.9"/>
<line x1="122.34" y1="383.93" x2="126.94" y2="383.93" stroke="#3560b8" stroke-width="1.05" opacity="0.9"/>
<line x1="122.34" y1="416.13" x2="126.94" y2="416.13" stroke="#3560b8" stroke-width="1.05" opacity="0.9"/>
<line x1="134.49" y1="371.74" x2="134.49" y2="403.94" stroke="#3560b8" stroke-width="1.05" opacity="0.9"/>
<line x1="132.19" y1="371.74" x2="136.79" y2="371.74" stroke="#3560b8" stroke-width="1.05" opacity="0.9"/>
<line x1="132.19" y1="403.94" x2="136.79" y2="403.94" stroke="#3560b8" stroke-width="1.05" opacity="0.9"/>
<line x1="144.33" y1="359.78" x2="144.33" y2="373.58" stroke="#3560b8" stroke-width="1.05" opacity="0.9"/>
<line x1="142.03" y1="359.78" x2="146.63" y2="359.78" stroke="#3560b8" stroke-width="1.05" opacity="0.9"/>
<line x1="142.03" y1="373.58" x2="146.63" y2="373.58" stroke="#3560b8" stroke-width="1.05" opacity="0.9"/>
<line x1="154.17" y1="359.78" x2="154.17" y2="373.58" stroke="#3560b8" stroke-width="1.05" opacity="0.9"/>
<line x1="151.87" y1="359.78" x2="156.47" y2="359.78" stroke="#3560b8" stroke-width="1.05" opacity="0.9"/>
<line x1="151.87" y1="373.58" x2="156.47" y2="373.58" stroke="#3560b8" stroke-width="1.05" opacity="0.9"/>
<line x1="164.01" y1="352.88" x2="164.01" y2="366.68" stroke="#3560b8" stroke-width="1.05" opacity="0.9"/>
<line x1="161.71" y1="352.88" x2="166.31" y2="352.88" stroke="#3560b8" stroke-width="1.05" opacity="0.9"/>
<line x1="161.71" y1="366.68" x2="166.31" y2="366.68" stroke="#3560b8" stroke-width="1.05" opacity="0.9"/>
<line x1="173.86" y1="348.05" x2="173.86" y2="357.25" stroke="#3560b8" stroke-width="1.05" opacity="0.9"/>
<line x1="171.56" y1="348.05" x2="176.16" y2="348.05" stroke="#3560b8" stroke-width="1.05" opacity="0.9"/>
<line x1="171.56" y1="357.25" x2="176.16" y2="357.25" stroke="#3560b8" stroke-width="1.05" opacity="0.9"/>
<line x1="183.70" y1="345.06" x2="183.70" y2="354.26" stroke="#3560b8" stroke-width="1.05" opacity="0.9"/>
<line x1="181.40" y1="345.06" x2="186.00" y2="345.06" stroke="#3560b8" stroke-width="1.05" opacity="0.9"/>
<line x1="181.40" y1="354.26" x2="186.00" y2="354.26" stroke="#3560b8" stroke-width="1.05" opacity="0.9"/>
<line x1="55.74" y1="351.04" x2="55.74" y2="360.24" stroke="#3a3af4" stroke-width="1.05" opacity="0.9"/>
<line x1="53.44" y1="351.04" x2="58.04" y2="351.04" stroke="#3a3af4" stroke-width="1.05" opacity="0.9"/>
<line x1="53.44" y1="360.24" x2="58.04" y2="360.24" stroke="#3a3af4" stroke-width="1.05" opacity="0.9"/>
<line x1="65.59" y1="348.51" x2="65.59" y2="357.71" stroke="#3a3af4" stroke-width="1.05" opacity="0.9"/>
<line x1="63.29" y1="348.51" x2="67.89" y2="348.51" stroke="#3a3af4" stroke-width="1.05" opacity="0.9"/>
<line x1="63.29" y1="357.71" x2="67.89" y2="357.71" stroke="#3a3af4" stroke-width="1.05" opacity="0.9"/>
<line x1="75.43" y1="361.39" x2="75.43" y2="375.19" stroke="#3a3af4" stroke-width="1.05" opacity="0.9"/>
<line x1="73.13" y1="361.39" x2="77.73" y2="361.39" stroke="#3a3af4" stroke-width="1.05" opacity="0.9"/>
<line x1="73.13" y1="375.19" x2="77.73" y2="375.19" stroke="#3a3af4" stroke-width="1.05" opacity="0.9"/>
<line x1="85.27" y1="371.51" x2="85.27" y2="389.91" stroke="#3a3af4" stroke-width="1.05" opacity="0.9"/>
<line x1="82.97" y1="371.51" x2="87.57" y2="371.51" stroke="#3a3af4" stroke-width="1.05" opacity="0.9"/>
<line x1="82.97" y1="389.91" x2="87.57" y2="389.91" stroke="#3a3af4" stroke-width="1.05" opacity="0.9"/>
<line x1="95.11" y1="366.91" x2="95.11" y2="389.91" stroke="#3a3af4" stroke-width="1.05" opacity="0.9"/>
<line x1="92.81" y1="366.91" x2="97.41" y2="366.91" stroke="#3a3af4" stroke-width="1.05" opacity="0.9"/>
<line x1="92.81" y1="389.91" x2="97.41" y2="389.91" stroke="#3a3af4" stroke-width="1.05" opacity="0.9"/>
<line x1="104.96" y1="352.42" x2="104.96" y2="393.82" stroke="#3a3af4" stroke-width="1.05" opacity="0.9"/>
<line x1="102.66" y1="352.42" x2="107.26" y2="352.42" stroke="#3a3af4" stroke-width="1.05" opacity="0.9"/>
<line x1="102.66" y1="393.82" x2="107.26" y2="393.82" stroke="#3a3af4" stroke-width="1.05" opacity="0.9"/>
<line x1="114.80" y1="354.72" x2="114.80" y2="400.72" stroke="#3a3af4" stroke-width="1.05" opacity="0.9"/>
<line x1="112.50" y1="354.72" x2="117.10" y2="354.72" stroke="#3a3af4" stroke-width="1.05" opacity="0.9"/>
<line x1="112.50" y1="400.72" x2="117.10" y2="400.72" stroke="#3a3af4" stroke-width="1.05" opacity="0.9"/>
<line x1="124.64" y1="347.13" x2="124.64" y2="393.13" stroke="#3a3af4" stroke-width="1.05" opacity="0.9"/>
<line x1="122.34" y1="347.13" x2="126.94" y2="347.13" stroke="#3a3af4" stroke-width="1.05" opacity="0.9"/>
<line x1="122.34" y1="393.13" x2="126.94" y2="393.13" stroke="#3a3af4" stroke-width="1.05" opacity="0.9"/>
<line x1="134.49" y1="353.57" x2="134.49" y2="376.57" stroke="#3a3af4" stroke-width="1.05" opacity="0.9"/>
<line x1="132.19" y1="353.57" x2="136.79" y2="353.57" stroke="#3a3af4" stroke-width="1.05" opacity="0.9"/>
<line x1="132.19" y1="376.57" x2="136.79" y2="376.57" stroke="#3a3af4" stroke-width="1.05" opacity="0.9"/>
<line x1="144.33" y1="347.13" x2="144.33" y2="370.13" stroke="#3a3af4" stroke-width="1.05" opacity="0.9"/>
<line x1="142.03" y1="347.13" x2="146.63" y2="347.13" stroke="#3a3af4" stroke-width="1.05" opacity="0.9"/>
<line x1="142.03" y1="370.13" x2="146.63" y2="370.13" stroke="#3a3af4" stroke-width="1.05" opacity="0.9"/>
<line x1="154.17" y1="352.88" x2="154.17" y2="371.28" stroke="#3a3af4" stroke-width="1.05" opacity="0.9"/>
<line x1="151.87" y1="352.88" x2="156.47" y2="352.88" stroke="#3a3af4" stroke-width="1.05" opacity="0.9"/>
<line x1="151.87" y1="371.28" x2="156.47" y2="371.28" stroke="#3a3af4" stroke-width="1.05" opacity="0.9"/>
<line x1="164.01" y1="352.19" x2="164.01" y2="365.99" stroke="#3a3af4" stroke-width="1.05" opacity="0.9"/>
<line x1="161.71" y1="352.19" x2="166.31" y2="352.19" stroke="#3a3af4" stroke-width="1.05" opacity="0.9"/>
<line x1="161.71" y1="365.99" x2="166.31" y2="365.99" stroke="#3a3af4" stroke-width="1.05" opacity="0.9"/>
<line x1="173.86" y1="348.74" x2="173.86" y2="362.54" stroke="#3a3af4" stroke-width="1.05" opacity="0.9"/>
<line x1="171.56" y1="348.74" x2="176.16" y2="348.74" stroke="#3a3af4" stroke-width="1.05" opacity="0.9"/>
<line x1="171.56" y1="362.54" x2="176.16" y2="362.54" stroke="#3a3af4" stroke-width="1.05" opacity="0.9"/>
<line x1="183.70" y1="348.05" x2="183.70" y2="357.25" stroke="#3a3af4" stroke-width="1.05" opacity="0.9"/>
<line x1="181.40" y1="348.05" x2="186.00" y2="348.05" stroke="#3a3af4" stroke-width="1.05" opacity="0.9"/>
<line x1="181.40" y1="357.25" x2="186.00" y2="357.25" stroke="#3a3af4" stroke-width="1.05" opacity="0.9"/>
<line x1="55.74" y1="358.63" x2="55.74" y2="367.83" stroke="#5aa852" stroke-width="1.05" opacity="0.9"/>
<line x1="53.44" y1="358.63" x2="58.04" y2="358.63" stroke="#5aa852" stroke-width="1.05" opacity="0.9"/>
<line x1="53.44" y1="367.83" x2="58.04" y2="367.83" stroke="#5aa852" stroke-width="1.05" opacity="0.9"/>
<line x1="65.59" y1="343.91" x2="65.59" y2="353.11" stroke="#5aa852" stroke-width="1.05" opacity="0.9"/>
<line x1="63.29" y1="343.91" x2="67.89" y2="343.91" stroke="#5aa852" stroke-width="1.05" opacity="0.9"/>
<line x1="63.29" y1="353.11" x2="67.89" y2="353.11" stroke="#5aa852" stroke-width="1.05" opacity="0.9"/>
<line x1="75.43" y1="350.35" x2="75.43" y2="359.55" stroke="#5aa852" stroke-width="1.05" opacity="0.9"/>
<line x1="73.13" y1="350.35" x2="77.73" y2="350.35" stroke="#5aa852" stroke-width="1.05" opacity="0.9"/>
<line x1="73.13" y1="359.55" x2="77.73" y2="359.55" stroke="#5aa852" stroke-width="1.05" opacity="0.9"/>
<line x1="85.27" y1="352.65" x2="85.27" y2="364.15" stroke="#5aa852" stroke-width="1.05" opacity="0.9"/>
<line x1="82.97" y1="352.65" x2="87.57" y2="352.65" stroke="#5aa852" stroke-width="1.05" opacity="0.9"/>
<line x1="82.97" y1="364.15" x2="87.57" y2="364.15" stroke="#5aa852" stroke-width="1.05" opacity="0.9"/>
<line x1="95.11" y1="349.20" x2="95.11" y2="358.40" stroke="#5aa852" stroke-width="1.05" opacity="0.9"/>
<line x1="92.81" y1="349.20" x2="97.41" y2="349.20" stroke="#5aa852" stroke-width="1.05" opacity="0.9"/>
<line x1="92.81" y1="358.40" x2="97.41" y2="358.40" stroke="#5aa852" stroke-width="1.05" opacity="0.9"/>
<line x1="104.96" y1="339.77" x2="104.96" y2="346.67" stroke="#5aa852" stroke-width="1.05" opacity="0.9"/>
<line x1="102.66" y1="339.77" x2="107.26" y2="339.77" stroke="#5aa852" stroke-width="1.05" opacity="0.9"/>
<line x1="102.66" y1="346.67" x2="107.26" y2="346.67" stroke="#5aa852" stroke-width="1.05" opacity="0.9"/>
<line x1="114.80" y1="342.76" x2="114.80" y2="351.96" stroke="#5aa852" stroke-width="1.05" opacity="0.9"/>
<line x1="112.50" y1="342.76" x2="117.10" y2="342.76" stroke="#5aa852" stroke-width="1.05" opacity="0.9"/>
<line x1="112.50" y1="351.96" x2="117.10" y2="351.96" stroke="#5aa852" stroke-width="1.05" opacity="0.9"/>
<line x1="124.64" y1="342.76" x2="124.64" y2="349.66" stroke="#5aa852" stroke-width="1.05" opacity="0.9"/>
<line x1="122.34" y1="342.76" x2="126.94" y2="342.76" stroke="#5aa852" stroke-width="1.05" opacity="0.9"/>
<line x1="122.34" y1="349.66" x2="126.94" y2="349.66" stroke="#5aa852" stroke-width="1.05" opacity="0.9"/>
<line x1="134.49" y1="343.45" x2="134.49" y2="350.35" stroke="#5aa852" stroke-width="1.05" opacity="0.9"/>
<line x1="132.19" y1="343.45" x2="136.79" y2="343.45" stroke="#5aa852" stroke-width="1.05" opacity="0.9"/>
<line x1="132.19" y1="350.35" x2="136.79" y2="350.35" stroke="#5aa852" stroke-width="1.05" opacity="0.9"/>
<line x1="144.33" y1="341.61" x2="144.33" y2="348.51" stroke="#5aa852" stroke-width="1.05" opacity="0.9"/>
<line x1="142.03" y1="341.61" x2="146.63" y2="341.61" stroke="#5aa852" stroke-width="1.05" opacity="0.9"/>
<line x1="142.03" y1="348.51" x2="146.63" y2="348.51" stroke="#5aa852" stroke-width="1.05" opacity="0.9"/>
<line x1="154.17" y1="342.76" x2="154.17" y2="349.66" stroke="#5aa852" stroke-width="1.05" opacity="0.9"/>
<line x1="151.87" y1="342.76" x2="156.47" y2="342.76" stroke="#5aa852" stroke-width="1.05" opacity="0.9"/>
<line x1="151.87" y1="349.66" x2="156.47" y2="349.66" stroke="#5aa852" stroke-width="1.05" opacity="0.9"/>
<line x1="164.01" y1="342.76" x2="164.01" y2="349.66" stroke="#5aa852" stroke-width="1.05" opacity="0.9"/>
<line x1="161.71" y1="342.76" x2="166.31" y2="342.76" stroke="#5aa852" stroke-width="1.05" opacity="0.9"/>
<line x1="161.71" y1="349.66" x2="166.31" y2="349.66" stroke="#5aa852" stroke-width="1.05" opacity="0.9"/>
<line x1="173.86" y1="338.62" x2="173.86" y2="345.52" stroke="#5aa852" stroke-width="1.05" opacity="0.9"/>
<line x1="171.56" y1="338.62" x2="176.16" y2="338.62" stroke="#5aa852" stroke-width="1.05" opacity="0.9"/>
<line x1="171.56" y1="345.52" x2="176.16" y2="345.52" stroke="#5aa852" stroke-width="1.05" opacity="0.9"/>
<line x1="183.70" y1="337.01" x2="183.70" y2="343.91" stroke="#5aa852" stroke-width="1.05" opacity="0.9"/>
<line x1="181.40" y1="337.01" x2="186.00" y2="337.01" stroke="#5aa852" stroke-width="1.05" opacity="0.9"/>
<line x1="181.40" y1="343.91" x2="186.00" y2="343.91" stroke="#5aa852" stroke-width="1.05" opacity="0.9"/>
<line x1="55.74" y1="351.50" x2="55.74" y2="358.40" stroke="#62a840" stroke-width="1.05" opacity="0.9"/>
<line x1="53.44" y1="351.50" x2="58.04" y2="351.50" stroke="#62a840" stroke-width="1.05" opacity="0.9"/>
<line x1="53.44" y1="358.40" x2="58.04" y2="358.40" stroke="#62a840" stroke-width="1.05" opacity="0.9"/>
<line x1="65.59" y1="345.06" x2="65.59" y2="351.96" stroke="#62a840" stroke-width="1.05" opacity="0.9"/>
<line x1="63.29" y1="345.06" x2="67.89" y2="345.06" stroke="#62a840" stroke-width="1.05" opacity="0.9"/>
<line x1="63.29" y1="351.96" x2="67.89" y2="351.96" stroke="#62a840" stroke-width="1.05" opacity="0.9"/>
<line x1="75.43" y1="342.76" x2="75.43" y2="349.66" stroke="#62a840" stroke-width="1.05" opacity="0.9"/>
<line x1="73.13" y1="342.76" x2="77.73" y2="342.76" stroke="#62a840" stroke-width="1.05" opacity="0.9"/>
<line x1="73.13" y1="349.66" x2="77.73" y2="349.66" stroke="#62a840" stroke-width="1.05" opacity="0.9"/>
<line x1="85.27" y1="344.60" x2="85.27" y2="351.50" stroke="#62a840" stroke-width="1.05" opacity="0.9"/>
<line x1="82.97" y1="344.60" x2="87.57" y2="344.60" stroke="#62a840" stroke-width="1.05" opacity="0.9"/>
<line x1="82.97" y1="351.50" x2="87.57" y2="351.50" stroke="#62a840" stroke-width="1.05" opacity="0.9"/>
<line x1="95.11" y1="341.61" x2="95.11" y2="348.51" stroke="#62a840" stroke-width="1.05" opacity="0.9"/>
<line x1="92.81" y1="341.61" x2="97.41" y2="341.61" stroke="#62a840" stroke-width="1.05" opacity="0.9"/>
<line x1="92.81" y1="348.51" x2="97.41" y2="348.51" stroke="#62a840" stroke-width="1.05" opacity="0.9"/>
<line x1="104.96" y1="337.01" x2="104.96" y2="343.91" stroke="#62a840" stroke-width="1.05" opacity="0.9"/>
<line x1="102.66" y1="337.01" x2="107.26" y2="337.01" stroke="#62a840" stroke-width="1.05" opacity="0.9"/>
<line x1="102.66" y1="343.91" x2="107.26" y2="343.91" stroke="#62a840" stroke-width="1.05" opacity="0.9"/>
<line x1="114.80" y1="337.47" x2="114.80" y2="344.37" stroke="#62a840" stroke-width="1.05" opacity="0.9"/>
<line x1="112.50" y1="337.47" x2="117.10" y2="337.47" stroke="#62a840" stroke-width="1.05" opacity="0.9"/>
<line x1="112.50" y1="344.37" x2="117.10" y2="344.37" stroke="#62a840" stroke-width="1.05" opacity="0.9"/>
<line x1="124.64" y1="339.31" x2="124.64" y2="346.21" stroke="#62a840" stroke-width="1.05" opacity="0.9"/>
<line x1="122.34" y1="339.31" x2="126.94" y2="339.31" stroke="#62a840" stroke-width="1.05" opacity="0.9"/>
<line x1="122.34" y1="346.21" x2="126.94" y2="346.21" stroke="#62a840" stroke-width="1.05" opacity="0.9"/>
<line x1="134.49" y1="339.31" x2="134.49" y2="346.21" stroke="#62a840" stroke-width="1.05" opacity="0.9"/>
<line x1="132.19" y1="339.31" x2="136.79" y2="339.31" stroke="#62a840" stroke-width="1.05" opacity="0.9"/>
<line x1="132.19" y1="346.21" x2="136.79" y2="346.21" stroke="#62a840" stroke-width="1.05" opacity="0.9"/>
<line x1="144.33" y1="332.87" x2="144.33" y2="339.77" stroke="#62a840" stroke-width="1.05" opacity="0.9"/>
<line x1="142.03" y1="332.87" x2="146.63" y2="332.87" stroke="#62a840" stroke-width="1.05" opacity="0.9"/>
<line x1="142.03" y1="339.77" x2="146.63" y2="339.77" stroke="#62a840" stroke-width="1.05" opacity="0.9"/>
<line x1="154.17" y1="337.47" x2="154.17" y2="344.37" stroke="#62a840" stroke-width="1.05" opacity="0.9"/>
<line x1="151.87" y1="337.47" x2="156.47" y2="337.47" stroke="#62a840" stroke-width="1.05" opacity="0.9"/>
<line x1="151.87" y1="344.37" x2="156.47" y2="344.37" stroke="#62a840" stroke-width="1.05" opacity="0.9"/>
<line x1="164.01" y1="339.31" x2="164.01" y2="346.21" stroke="#62a840" stroke-width="1.05" opacity="0.9"/>
<line x1="161.71" y1="339.31" x2="166.31" y2="339.31" stroke="#62a840" stroke-width="1.05" opacity="0.9"/>
<line x1="161.71" y1="346.21" x2="166.31" y2="346.21" stroke="#62a840" stroke-width="1.05" opacity="0.9"/>
<line x1="173.86" y1="337.01" x2="173.86" y2="343.91" stroke="#62a840" stroke-width="1.05" opacity="0.9"/>
<line x1="171.56" y1="337.01" x2="176.16" y2="337.01" stroke="#62a840" stroke-width="1.05" opacity="0.9"/>
<line x1="171.56" y1="343.91" x2="176.16" y2="343.91" stroke="#62a840" stroke-width="1.05" opacity="0.9"/>
<line x1="183.70" y1="335.17" x2="183.70" y2="342.07" stroke="#62a840" stroke-width="1.05" opacity="0.9"/>
<line x1="181.40" y1="335.17" x2="186.00" y2="335.17" stroke="#62a840" stroke-width="1.05" opacity="0.9"/>
<line x1="181.40" y1="342.07" x2="186.00" y2="342.07" stroke="#62a840" stroke-width="1.05" opacity="0.9"/>
<polyline points="45.90,353.80 55.74,360.24 65.59,353.11 75.43,365.99 85.27,384.85 95.11,387.61 104.96,392.90 114.80,404.17 124.64,400.03 134.49,387.84 144.33,366.68 154.17,366.68 164.01,359.78 173.86,352.65 183.70,349.66" fill="none" stroke="#2d52a8" stroke-width="1"/>
<rect x="43.45" y="351.35" width="4.90" height="4.90" fill="#80d2f8" stroke="#2b52ae" stroke-width="0.9"/>
<rect x="53.29" y="357.79" width="4.90" height="4.90" fill="#80d2f8" stroke="#2b52ae" stroke-width="0.9"/>
<rect x="63.14" y="350.66" width="4.90" height="4.90" fill="#80d2f8" stroke="#2b52ae" stroke-width="0.9"/>
<rect x="72.98" y="363.54" width="4.90" height="4.90" fill="#80d2f8" stroke="#2b52ae" stroke-width="0.9"/>
<rect x="82.82" y="382.40" width="4.90" height="4.90" fill="#80d2f8" stroke="#2b52ae" stroke-width="0.9"/>
<rect x="92.66" y="385.16" width="4.90" height="4.90" fill="#80d2f8" stroke="#2b52ae" stroke-width="0.9"/>
<rect x="102.51" y="390.45" width="4.90" height="4.90" fill="#80d2f8" stroke="#2b52ae" stroke-width="0.9"/>
<rect x="112.35" y="401.72" width="4.90" height="4.90" fill="#80d2f8" stroke="#2b52ae" stroke-width="0.9"/>
<rect x="122.19" y="397.58" width="4.90" height="4.90" fill="#80d2f8" stroke="#2b52ae" stroke-width="0.9"/>
<rect x="132.04" y="385.39" width="4.90" height="4.90" fill="#80d2f8" stroke="#2b52ae" stroke-width="0.9"/>
<rect x="141.88" y="364.23" width="4.90" height="4.90" fill="#80d2f8" stroke="#2b52ae" stroke-width="0.9"/>
<rect x="151.72" y="364.23" width="4.90" height="4.90" fill="#80d2f8" stroke="#2b52ae" stroke-width="0.9"/>
<rect x="161.56" y="357.33" width="4.90" height="4.90" fill="#80d2f8" stroke="#2b52ae" stroke-width="0.9"/>
<rect x="171.41" y="350.20" width="4.90" height="4.90" fill="#80d2f8" stroke="#2b52ae" stroke-width="0.9"/>
<rect x="181.25" y="347.21" width="4.90" height="4.90" fill="#80d2f8" stroke="#2b52ae" stroke-width="0.9"/>
<polyline points="45.90,353.80 55.74,355.64 65.59,353.11 75.43,368.29 85.27,380.71 95.11,378.41 104.96,373.12 114.80,377.72 124.64,370.13 134.49,365.07 144.33,358.63 154.17,362.08 164.01,359.09 173.86,355.64 183.70,352.65" fill="none" stroke="#2222f6" stroke-width="1"/>
<circle cx="45.90" cy="353.80" r="2.3" fill="#5656f8" stroke="#1818ee" stroke-width="1"/>
<circle cx="55.74" cy="355.64" r="2.3" fill="#5656f8" stroke="#1818ee" stroke-width="1"/>
<circle cx="65.59" cy="353.11" r="2.3" fill="#5656f8" stroke="#1818ee" stroke-width="1"/>
<circle cx="75.43" cy="368.29" r="2.3" fill="#5656f8" stroke="#1818ee" stroke-width="1"/>
<circle cx="85.27" cy="380.71" r="2.3" fill="#5656f8" stroke="#1818ee" stroke-width="1"/>
<circle cx="95.11" cy="378.41" r="2.3" fill="#5656f8" stroke="#1818ee" stroke-width="1"/>
<circle cx="104.96" cy="373.12" r="2.3" fill="#5656f8" stroke="#1818ee" stroke-width="1"/>
<circle cx="114.80" cy="377.72" r="2.3" fill="#5656f8" stroke="#1818ee" stroke-width="1"/>
<circle cx="124.64" cy="370.13" r="2.3" fill="#5656f8" stroke="#1818ee" stroke-width="1"/>
<circle cx="134.49" cy="365.07" r="2.3" fill="#5656f8" stroke="#1818ee" stroke-width="1"/>
<circle cx="144.33" cy="358.63" r="2.3" fill="#5656f8" stroke="#1818ee" stroke-width="1"/>
<circle cx="154.17" cy="362.08" r="2.3" fill="#5656f8" stroke="#1818ee" stroke-width="1"/>
<circle cx="164.01" cy="359.09" r="2.3" fill="#5656f8" stroke="#1818ee" stroke-width="1"/>
<circle cx="173.86" cy="355.64" r="2.3" fill="#5656f8" stroke="#1818ee" stroke-width="1"/>
<circle cx="183.70" cy="352.65" r="2.3" fill="#5656f8" stroke="#1818ee" stroke-width="1"/>
<polyline points="45.90,353.80 55.74,363.23 65.59,348.51 75.43,354.95 85.27,358.40 95.11,353.80 104.96,343.22 114.80,347.36 124.64,346.21 134.49,346.90 144.33,345.06 154.17,346.21 164.01,346.21 173.86,342.07 183.70,340.46" fill="none" stroke="#4c9c4a" stroke-width="1"/>
<rect x="43.45" y="351.35" width="4.90" height="4.90" fill="#cbf46e" stroke="#45954a" stroke-width="0.9"/>
<rect x="53.29" y="360.78" width="4.90" height="4.90" fill="#cbf46e" stroke="#45954a" stroke-width="0.9"/>
<rect x="63.14" y="346.06" width="4.90" height="4.90" fill="#cbf46e" stroke="#45954a" stroke-width="0.9"/>
<rect x="72.98" y="352.50" width="4.90" height="4.90" fill="#cbf46e" stroke="#45954a" stroke-width="0.9"/>
<rect x="82.82" y="355.95" width="4.90" height="4.90" fill="#cbf46e" stroke="#45954a" stroke-width="0.9"/>
<rect x="92.66" y="351.35" width="4.90" height="4.90" fill="#cbf46e" stroke="#45954a" stroke-width="0.9"/>
<rect x="102.51" y="340.77" width="4.90" height="4.90" fill="#cbf46e" stroke="#45954a" stroke-width="0.9"/>
<rect x="112.35" y="344.91" width="4.90" height="4.90" fill="#cbf46e" stroke="#45954a" stroke-width="0.9"/>
<rect x="122.19" y="343.76" width="4.90" height="4.90" fill="#cbf46e" stroke="#45954a" stroke-width="0.9"/>
<rect x="132.04" y="344.45" width="4.90" height="4.90" fill="#cbf46e" stroke="#45954a" stroke-width="0.9"/>
<rect x="141.88" y="342.61" width="4.90" height="4.90" fill="#cbf46e" stroke="#45954a" stroke-width="0.9"/>
<rect x="151.72" y="343.76" width="4.90" height="4.90" fill="#cbf46e" stroke="#45954a" stroke-width="0.9"/>
<rect x="161.56" y="343.76" width="4.90" height="4.90" fill="#cbf46e" stroke="#45954a" stroke-width="0.9"/>
<rect x="171.41" y="339.62" width="4.90" height="4.90" fill="#cbf46e" stroke="#45954a" stroke-width="0.9"/>
<rect x="181.25" y="338.01" width="4.90" height="4.90" fill="#cbf46e" stroke="#45954a" stroke-width="0.9"/>
<polyline points="45.90,353.80 55.74,354.95 65.59,348.51 75.43,346.21 85.27,348.05 95.11,345.06 104.96,340.46 114.80,340.92 124.64,342.76 134.49,342.76 144.33,336.32 154.17,340.92 164.01,342.76 173.86,340.46 183.70,338.62" fill="none" stroke="#529c2e" stroke-width="1"/>
<circle cx="45.90" cy="353.80" r="2.3" fill="#6db446" stroke="#47902a" stroke-width="1"/>
<circle cx="55.74" cy="354.95" r="2.3" fill="#6db446" stroke="#47902a" stroke-width="1"/>
<circle cx="65.59" cy="348.51" r="2.3" fill="#6db446" stroke="#47902a" stroke-width="1"/>
<circle cx="75.43" cy="346.21" r="2.3" fill="#6db446" stroke="#47902a" stroke-width="1"/>
<circle cx="85.27" cy="348.05" r="2.3" fill="#6db446" stroke="#47902a" stroke-width="1"/>
<circle cx="95.11" cy="345.06" r="2.3" fill="#6db446" stroke="#47902a" stroke-width="1"/>
<circle cx="104.96" cy="340.46" r="2.3" fill="#6db446" stroke="#47902a" stroke-width="1"/>
<circle cx="114.80" cy="340.92" r="2.3" fill="#6db446" stroke="#47902a" stroke-width="1"/>
<circle cx="124.64" cy="342.76" r="2.3" fill="#6db446" stroke="#47902a" stroke-width="1"/>
<circle cx="134.49" cy="342.76" r="2.3" fill="#6db446" stroke="#47902a" stroke-width="1"/>
<circle cx="144.33" cy="336.32" r="2.3" fill="#6db446" stroke="#47902a" stroke-width="1"/>
<circle cx="154.17" cy="340.92" r="2.3" fill="#6db446" stroke="#47902a" stroke-width="1"/>
<circle cx="164.01" cy="342.76" r="2.3" fill="#6db446" stroke="#47902a" stroke-width="1"/>
<circle cx="173.86" cy="340.46" r="2.3" fill="#6db446" stroke="#47902a" stroke-width="1"/>
<circle cx="183.70" cy="338.62" r="2.3" fill="#6db446" stroke="#47902a" stroke-width="1"/>
<line x1="45.90" y1="330.10" x2="45.90" y2="427.00" stroke="#000" stroke-width="1.6"/>
<line x1="41.30" y1="422.80" x2="184.40" y2="422.80" stroke="#000" stroke-width="1.6"/>
<line x1="41.30" y1="330.80" x2="45.90" y2="330.80" stroke="#000" stroke-width="1.5"/>
<line x1="41.30" y1="353.80" x2="45.90" y2="353.80" stroke="#000" stroke-width="1.5"/>
<line x1="41.30" y1="376.80" x2="45.90" y2="376.80" stroke="#000" stroke-width="1.5"/>
<line x1="41.30" y1="399.80" x2="45.90" y2="399.80" stroke="#000" stroke-width="1.5"/>
<line x1="55.74" y1="422.80" x2="55.74" y2="427.00" stroke="#000" stroke-width="1.5"/>
<line x1="65.59" y1="422.80" x2="65.59" y2="427.00" stroke="#000" stroke-width="1.5"/>
<line x1="75.43" y1="422.80" x2="75.43" y2="427.00" stroke="#000" stroke-width="1.5"/>
<line x1="85.27" y1="422.80" x2="85.27" y2="427.00" stroke="#000" stroke-width="1.5"/>
<line x1="95.11" y1="422.80" x2="95.11" y2="427.00" stroke="#000" stroke-width="1.5"/>
<line x1="104.96" y1="422.80" x2="104.96" y2="427.00" stroke="#000" stroke-width="1.5"/>
<line x1="114.80" y1="422.80" x2="114.80" y2="427.00" stroke="#000" stroke-width="1.5"/>
<line x1="124.64" y1="422.80" x2="124.64" y2="427.00" stroke="#000" stroke-width="1.5"/>
<line x1="134.49" y1="422.80" x2="134.49" y2="427.00" stroke="#000" stroke-width="1.5"/>
<line x1="144.33" y1="422.80" x2="144.33" y2="427.00" stroke="#000" stroke-width="1.5"/>
<line x1="154.17" y1="422.80" x2="154.17" y2="427.00" stroke="#000" stroke-width="1.5"/>
<line x1="164.01" y1="422.80" x2="164.01" y2="427.00" stroke="#000" stroke-width="1.5"/>
<line x1="173.86" y1="422.80" x2="173.86" y2="427.00" stroke="#000" stroke-width="1.5"/>
<line x1="183.70" y1="422.80" x2="183.70" y2="427.00" stroke="#000" stroke-width="1.5"/>
<text transform="translate(38.50 333.70) scale(1 1.1)" x="0" y="0" font-size="8" font-weight="bold" text-anchor="end" fill="#000" >110</text>
<text transform="translate(38.50 356.70) scale(1 1.1)" x="0" y="0" font-size="8" font-weight="bold" text-anchor="end" fill="#000" >100</text>
<text transform="translate(38.50 379.70) scale(1 1.1)" x="0" y="0" font-size="8" font-weight="bold" text-anchor="end" fill="#000" >90</text>
<text transform="translate(38.50 402.70) scale(1 1.1)" x="0" y="0" font-size="8" font-weight="bold" text-anchor="end" fill="#000" >80</text>
<text transform="translate(38.50 425.70) scale(1 1.1)" x="0" y="0" font-size="8" font-weight="bold" text-anchor="end" fill="#000" >70</text>
<text transform="translate(267.65 322.00) scale(1 1.1)" x="0" y="0" font-size="9" font-weight="bold" text-anchor="middle" fill="#000" >12G1</text>
<line x1="200.80" y1="354.55" x2="336.50" y2="354.55" stroke="#000" stroke-width="1.1" stroke-dasharray="1.3,1.7"/>
<line x1="201.80" y1="411.92" x2="335.50" y2="411.92" stroke="#000" stroke-width="1.1" stroke-dasharray="1.3,1.7"/>
<line x1="208.64" y1="360.29" x2="208.64" y2="367.17" stroke="#6e6e6e" stroke-width="1"/>
<line x1="206.34" y1="360.29" x2="210.94" y2="360.29" stroke="#666" stroke-width="1"/>
<line x1="206.34" y1="367.17" x2="210.94" y2="367.17" stroke="#666" stroke-width="1"/>
<line x1="218.47" y1="352.25" x2="218.47" y2="363.73" stroke="#6e6e6e" stroke-width="1"/>
<line x1="216.17" y1="352.25" x2="220.77" y2="352.25" stroke="#666" stroke-width="1"/>
<line x1="216.17" y1="363.73" x2="220.77" y2="363.73" stroke="#666" stroke-width="1"/>
<line x1="228.31" y1="369.47" x2="228.31" y2="379.80" stroke="#6e6e6e" stroke-width="1"/>
<line x1="226.01" y1="369.47" x2="230.61" y2="369.47" stroke="#666" stroke-width="1"/>
<line x1="226.01" y1="379.80" x2="230.61" y2="379.80" stroke="#666" stroke-width="1"/>
<line x1="238.14" y1="385.53" x2="238.14" y2="400.45" stroke="#6e6e6e" stroke-width="1"/>
<line x1="235.84" y1="385.53" x2="240.44" y2="385.53" stroke="#666" stroke-width="1"/>
<line x1="235.84" y1="400.45" x2="240.44" y2="400.45" stroke="#666" stroke-width="1"/>
<line x1="247.98" y1="390.12" x2="247.98" y2="407.33" stroke="#6e6e6e" stroke-width="1"/>
<line x1="245.68" y1="390.12" x2="250.28" y2="390.12" stroke="#666" stroke-width="1"/>
<line x1="245.68" y1="407.33" x2="250.28" y2="407.33" stroke="#666" stroke-width="1"/>
<line x1="257.81" y1="391.27" x2="257.81" y2="409.63" stroke="#6e6e6e" stroke-width="1"/>
<line x1="255.51" y1="391.27" x2="260.11" y2="391.27" stroke="#666" stroke-width="1"/>
<line x1="255.51" y1="409.63" x2="260.11" y2="409.63" stroke="#666" stroke-width="1"/>
<line x1="267.65" y1="405.04" x2="267.65" y2="421.11" stroke="#6e6e6e" stroke-width="1"/>
<line x1="265.35" y1="405.04" x2="269.95" y2="405.04" stroke="#666" stroke-width="1"/>
<line x1="265.35" y1="421.11" x2="269.95" y2="421.11" stroke="#666" stroke-width="1"/>
<line x1="277.49" y1="378.19" x2="277.49" y2="404.12" stroke="#6e6e6e" stroke-width="1"/>
<line x1="275.19" y1="378.19" x2="279.79" y2="378.19" stroke="#666" stroke-width="1"/>
<line x1="275.19" y1="404.12" x2="279.79" y2="404.12" stroke="#666" stroke-width="1"/>
<line x1="287.32" y1="370.84" x2="287.32" y2="402.97" stroke="#6e6e6e" stroke-width="1"/>
<line x1="285.02" y1="370.84" x2="289.62" y2="370.84" stroke="#666" stroke-width="1"/>
<line x1="285.02" y1="402.97" x2="289.62" y2="402.97" stroke="#666" stroke-width="1"/>
<line x1="285.02" y1="394.48" x2="289.62" y2="394.48" stroke="#666" stroke-width="1"/>
<line x1="297.16" y1="362.12" x2="297.16" y2="398.38" stroke="#6e6e6e" stroke-width="1"/>
<line x1="294.86" y1="362.12" x2="299.46" y2="362.12" stroke="#666" stroke-width="1"/>
<line x1="294.86" y1="398.38" x2="299.46" y2="398.38" stroke="#666" stroke-width="1"/>
<line x1="294.86" y1="368.32" x2="299.46" y2="368.32" stroke="#666" stroke-width="1"/>
<line x1="306.99" y1="361.21" x2="306.99" y2="403.43" stroke="#6e6e6e" stroke-width="1"/>
<line x1="304.69" y1="361.21" x2="309.29" y2="361.21" stroke="#666" stroke-width="1"/>
<line x1="304.69" y1="403.43" x2="309.29" y2="403.43" stroke="#666" stroke-width="1"/>
<line x1="304.69" y1="365.57" x2="309.29" y2="365.57" stroke="#666" stroke-width="1"/>
<line x1="316.83" y1="359.14" x2="316.83" y2="411.70" stroke="#6e6e6e" stroke-width="1"/>
<line x1="314.53" y1="359.14" x2="319.13" y2="359.14" stroke="#666" stroke-width="1"/>
<line x1="314.53" y1="411.70" x2="319.13" y2="411.70" stroke="#666" stroke-width="1"/>
<line x1="314.53" y1="377.50" x2="319.13" y2="377.50" stroke="#666" stroke-width="1"/>
<line x1="326.66" y1="357.76" x2="326.66" y2="407.11" stroke="#6e6e6e" stroke-width="1"/>
<line x1="324.36" y1="357.76" x2="328.96" y2="357.76" stroke="#666" stroke-width="1"/>
<line x1="324.36" y1="407.11" x2="328.96" y2="407.11" stroke="#666" stroke-width="1"/>
<line x1="324.36" y1="367.40" x2="328.96" y2="367.40" stroke="#666" stroke-width="1"/>
<line x1="336.50" y1="353.40" x2="336.50" y2="402.52" stroke="#6e6e6e" stroke-width="1"/>
<line x1="334.20" y1="353.40" x2="338.80" y2="353.40" stroke="#666" stroke-width="1"/>
<line x1="334.20" y1="402.52" x2="338.80" y2="402.52" stroke="#666" stroke-width="1"/>
<polyline points="198.80,354.55 208.64,363.73 218.47,354.55 228.31,372.91 238.14,389.43 247.98,394.02 257.81,395.86 267.65,408.71 277.49,390.35 287.32,383.47 297.16,375.20 306.99,374.06 316.83,369.47 326.66,363.04 336.50,357.30" fill="none" stroke="#222" stroke-width="0.7"/>
<polyline points="198.80,354.55 208.64,362.58 218.47,354.55 228.31,374.06 238.14,395.86 247.98,398.84 257.81,399.30 267.65,408.71 277.49,400.22 287.32,388.75 297.16,381.63 306.99,383.93 316.83,384.61 326.66,375.20 336.50,370.62" fill="none" stroke="#222" stroke-width="0.7"/>
<polyline points="198.80,354.55 208.64,361.44 218.47,355.70 228.31,375.20 238.14,397.01 247.98,404.12 257.81,403.43 267.65,409.63 277.49,391.27 287.32,385.53 297.16,381.63 306.99,383.93 316.83,387.60 326.66,382.78 336.50,379.34" fill="none" stroke="#222" stroke-width="0.7"/>
<polyline points="198.80,354.55 208.64,363.73 218.47,355.47 228.31,375.20 238.14,395.86 247.98,398.84 257.81,395.86 267.65,408.71 277.49,408.94 287.32,414.22" fill="none" stroke="#222" stroke-width="0.7"/>
<polyline points="198.80,354.55 208.64,364.65 218.47,355.47 228.31,376.35 238.14,397.01 247.98,404.12 257.81,403.43 267.65,415.14" fill="none" stroke="#222" stroke-width="0.7"/>
<circle cx="208.64" cy="363.73" r="2.5" fill="#000"/>
<circle cx="218.47" cy="354.55" r="2.5" fill="#000"/>
<circle cx="228.31" cy="372.91" r="2.5" fill="#000"/>
<circle cx="238.14" cy="389.43" r="2.5" fill="#000"/>
<circle cx="247.98" cy="394.02" r="2.5" fill="#000"/>
<circle cx="257.81" cy="395.86" r="2.5" fill="#000"/>
<circle cx="267.65" cy="408.71" r="2.5" fill="#000"/>
<circle cx="277.49" cy="390.35" r="2.5" fill="#000"/>
<circle cx="287.32" cy="383.47" r="2.5" fill="#000"/>
<circle cx="297.16" cy="375.20" r="2.5" fill="#000"/>
<circle cx="306.99" cy="374.06" r="2.5" fill="#000"/>
<circle cx="316.83" cy="369.47" r="2.5" fill="#000"/>
<circle cx="326.66" cy="363.04" r="2.5" fill="#000"/>
<circle cx="336.50" cy="357.30" r="2.5" fill="#000"/>
<circle cx="208.64" cy="362.58" r="2.5" fill="#000"/>
<circle cx="218.47" cy="354.55" r="2.5" fill="#000"/>
<circle cx="228.31" cy="374.06" r="2.5" fill="#000"/>
<circle cx="238.14" cy="395.86" r="2.5" fill="#000"/>
<circle cx="247.98" cy="398.84" r="2.5" fill="#000"/>
<circle cx="257.81" cy="399.30" r="2.5" fill="#000"/>
<circle cx="267.65" cy="408.71" r="2.5" fill="#000"/>
<circle cx="277.49" cy="400.22" r="2.5" fill="#000"/>
<circle cx="287.32" cy="388.75" r="2.5" fill="#000"/>
<circle cx="297.16" cy="381.63" r="2.5" fill="#000"/>
<circle cx="306.99" cy="383.93" r="2.5" fill="#000"/>
<circle cx="316.83" cy="384.61" r="2.5" fill="#000"/>
<circle cx="326.66" cy="375.20" r="2.5" fill="#000"/>
<circle cx="336.50" cy="370.62" r="2.5" fill="#000"/>
<circle cx="208.64" cy="361.44" r="2.5" fill="#000"/>
<circle cx="218.47" cy="355.70" r="2.5" fill="#000"/>
<circle cx="228.31" cy="375.20" r="2.5" fill="#000"/>
<circle cx="238.14" cy="397.01" r="2.5" fill="#000"/>
<circle cx="247.98" cy="404.12" r="2.5" fill="#000"/>
<circle cx="257.81" cy="403.43" r="2.5" fill="#000"/>
<circle cx="267.65" cy="409.63" r="2.5" fill="#000"/>
<circle cx="277.49" cy="391.27" r="2.5" fill="#000"/>
<circle cx="287.32" cy="385.53" r="2.5" fill="#000"/>
<circle cx="297.16" cy="381.63" r="2.5" fill="#000"/>
<circle cx="306.99" cy="383.93" r="2.5" fill="#000"/>
<circle cx="316.83" cy="387.60" r="2.5" fill="#000"/>
<circle cx="326.66" cy="382.78" r="2.5" fill="#000"/>
<circle cx="336.50" cy="379.34" r="2.5" fill="#000"/>
<circle cx="208.64" cy="363.73" r="2.5" fill="#000"/>
<circle cx="218.47" cy="355.47" r="2.5" fill="#000"/>
<circle cx="228.31" cy="375.20" r="2.5" fill="#000"/>
<circle cx="238.14" cy="395.86" r="2.5" fill="#000"/>
<circle cx="247.98" cy="398.84" r="2.5" fill="#000"/>
<circle cx="257.81" cy="395.86" r="2.5" fill="#000"/>
<circle cx="267.65" cy="408.71" r="2.5" fill="#000"/>
<circle cx="277.49" cy="408.94" r="2.5" fill="#000"/>
<circle cx="287.32" cy="414.22" r="2.5" fill="#000"/>
<circle cx="208.64" cy="364.65" r="2.5" fill="#000"/>
<circle cx="218.47" cy="355.47" r="2.5" fill="#000"/>
<circle cx="228.31" cy="376.35" r="2.5" fill="#000"/>
<circle cx="238.14" cy="397.01" r="2.5" fill="#000"/>
<circle cx="247.98" cy="404.12" r="2.5" fill="#000"/>
<circle cx="257.81" cy="403.43" r="2.5" fill="#000"/>
<circle cx="267.65" cy="415.14" r="2.5" fill="#000"/>
<line x1="208.64" y1="355.47" x2="208.64" y2="362.35" stroke="#3560b8" stroke-width="1.05" opacity="0.9"/>
<line x1="206.34" y1="355.47" x2="210.94" y2="355.47" stroke="#3560b8" stroke-width="1.05" opacity="0.9"/>
<line x1="206.34" y1="362.35" x2="210.94" y2="362.35" stroke="#3560b8" stroke-width="1.05" opacity="0.9"/>
<line x1="218.47" y1="349.73" x2="218.47" y2="356.62" stroke="#3560b8" stroke-width="1.05" opacity="0.9"/>
<line x1="216.17" y1="349.73" x2="220.77" y2="349.73" stroke="#3560b8" stroke-width="1.05" opacity="0.9"/>
<line x1="216.17" y1="356.62" x2="220.77" y2="356.62" stroke="#3560b8" stroke-width="1.05" opacity="0.9"/>
<line x1="228.31" y1="368.32" x2="228.31" y2="377.50" stroke="#3560b8" stroke-width="1.05" opacity="0.9"/>
<line x1="226.01" y1="368.32" x2="230.61" y2="368.32" stroke="#3560b8" stroke-width="1.05" opacity="0.9"/>
<line x1="226.01" y1="377.50" x2="230.61" y2="377.50" stroke="#3560b8" stroke-width="1.05" opacity="0.9"/>
<line x1="238.14" y1="380.25" x2="238.14" y2="394.02" stroke="#3560b8" stroke-width="1.05" opacity="0.9"/>
<line x1="235.84" y1="380.25" x2="240.44" y2="380.25" stroke="#3560b8" stroke-width="1.05" opacity="0.9"/>
<line x1="235.84" y1="394.02" x2="240.44" y2="394.02" stroke="#3560b8" stroke-width="1.05" opacity="0.9"/>
<line x1="247.98" y1="382.55" x2="247.98" y2="396.32" stroke="#3560b8" stroke-width="1.05" opacity="0.9"/>
<line x1="245.68" y1="382.55" x2="250.28" y2="382.55" stroke="#3560b8" stroke-width="1.05" opacity="0.9"/>
<line x1="245.68" y1="396.32" x2="250.28" y2="396.32" stroke="#3560b8" stroke-width="1.05" opacity="0.9"/>
<line x1="257.81" y1="379.57" x2="257.81" y2="393.34" stroke="#3560b8" stroke-width="1.05" opacity="0.9"/>
<line x1="255.51" y1="379.57" x2="260.11" y2="379.57" stroke="#3560b8" stroke-width="1.05" opacity="0.9"/>
<line x1="255.51" y1="393.34" x2="260.11" y2="393.34" stroke="#3560b8" stroke-width="1.05" opacity="0.9"/>
<line x1="267.65" y1="388.52" x2="267.65" y2="402.29" stroke="#3560b8" stroke-width="1.05" opacity="0.9"/>
<line x1="265.35" y1="388.52" x2="269.95" y2="388.52" stroke="#3560b8" stroke-width="1.05" opacity="0.9"/>
<line x1="265.35" y1="402.29" x2="269.95" y2="402.29" stroke="#3560b8" stroke-width="1.05" opacity="0.9"/>
<line x1="277.49" y1="382.78" x2="277.49" y2="401.14" stroke="#3560b8" stroke-width="1.05" opacity="0.9"/>
<line x1="275.19" y1="382.78" x2="279.79" y2="382.78" stroke="#3560b8" stroke-width="1.05" opacity="0.9"/>
<line x1="275.19" y1="401.14" x2="279.79" y2="401.14" stroke="#3560b8" stroke-width="1.05" opacity="0.9"/>
<line x1="287.32" y1="382.78" x2="287.32" y2="405.73" stroke="#3560b8" stroke-width="1.05" opacity="0.9"/>
<line x1="285.02" y1="382.78" x2="289.62" y2="382.78" stroke="#3560b8" stroke-width="1.05" opacity="0.9"/>
<line x1="285.02" y1="405.73" x2="289.62" y2="405.73" stroke="#3560b8" stroke-width="1.05" opacity="0.9"/>
<line x1="297.16" y1="360.52" x2="297.16" y2="383.47" stroke="#3560b8" stroke-width="1.05" opacity="0.9"/>
<line x1="294.86" y1="360.52" x2="299.46" y2="360.52" stroke="#3560b8" stroke-width="1.05" opacity="0.9"/>
<line x1="294.86" y1="383.47" x2="299.46" y2="383.47" stroke="#3560b8" stroke-width="1.05" opacity="0.9"/>
<line x1="306.99" y1="357.53" x2="306.99" y2="380.48" stroke="#3560b8" stroke-width="1.05" opacity="0.9"/>
<line x1="304.69" y1="357.53" x2="309.29" y2="357.53" stroke="#3560b8" stroke-width="1.05" opacity="0.9"/>
<line x1="304.69" y1="380.48" x2="309.29" y2="380.48" stroke="#3560b8" stroke-width="1.05" opacity="0.9"/>
<line x1="316.83" y1="358.68" x2="316.83" y2="372.45" stroke="#3560b8" stroke-width="1.05" opacity="0.9"/>
<line x1="314.53" y1="358.68" x2="319.13" y2="358.68" stroke="#3560b8" stroke-width="1.05" opacity="0.9"/>
<line x1="314.53" y1="372.45" x2="319.13" y2="372.45" stroke="#3560b8" stroke-width="1.05" opacity="0.9"/>
<line x1="326.66" y1="350.88" x2="326.66" y2="360.06" stroke="#3560b8" stroke-width="1.05" opacity="0.9"/>
<line x1="324.36" y1="350.88" x2="328.96" y2="350.88" stroke="#3560b8" stroke-width="1.05" opacity="0.9"/>
<line x1="324.36" y1="360.06" x2="328.96" y2="360.06" stroke="#3560b8" stroke-width="1.05" opacity="0.9"/>
<line x1="336.50" y1="350.42" x2="336.50" y2="359.60" stroke="#3560b8" stroke-width="1.05" opacity="0.9"/>
<line x1="334.20" y1="350.42" x2="338.80" y2="350.42" stroke="#3560b8" stroke-width="1.05" opacity="0.9"/>
<line x1="334.20" y1="359.60" x2="338.80" y2="359.60" stroke="#3560b8" stroke-width="1.05" opacity="0.9"/>
<line x1="208.64" y1="350.88" x2="208.64" y2="360.06" stroke="#3a3af4" stroke-width="1.05" opacity="0.9"/>
<line x1="206.34" y1="350.88" x2="210.94" y2="350.88" stroke="#3a3af4" stroke-width="1.05" opacity="0.9"/>
<line x1="206.34" y1="360.06" x2="210.94" y2="360.06" stroke="#3a3af4" stroke-width="1.05" opacity="0.9"/>
<line x1="218.47" y1="348.58" x2="218.47" y2="357.76" stroke="#3a3af4" stroke-width="1.05" opacity="0.9"/>
<line x1="216.17" y1="348.58" x2="220.77" y2="348.58" stroke="#3a3af4" stroke-width="1.05" opacity="0.9"/>
<line x1="216.17" y1="357.76" x2="220.77" y2="357.76" stroke="#3a3af4" stroke-width="1.05" opacity="0.9"/>
<line x1="228.31" y1="357.30" x2="228.31" y2="371.07" stroke="#3a3af4" stroke-width="1.05" opacity="0.9"/>
<line x1="226.01" y1="357.30" x2="230.61" y2="357.30" stroke="#3a3af4" stroke-width="1.05" opacity="0.9"/>
<line x1="226.01" y1="371.07" x2="230.61" y2="371.07" stroke="#3a3af4" stroke-width="1.05" opacity="0.9"/>
<line x1="238.14" y1="367.86" x2="238.14" y2="390.81" stroke="#3a3af4" stroke-width="1.05" opacity="0.9"/>
<line x1="235.84" y1="367.86" x2="240.44" y2="367.86" stroke="#3a3af4" stroke-width="1.05" opacity="0.9"/>
<line x1="235.84" y1="390.81" x2="240.44" y2="390.81" stroke="#3a3af4" stroke-width="1.05" opacity="0.9"/>
<line x1="247.98" y1="367.40" x2="247.98" y2="390.35" stroke="#3a3af4" stroke-width="1.05" opacity="0.9"/>
<line x1="245.68" y1="367.40" x2="250.28" y2="367.40" stroke="#3a3af4" stroke-width="1.05" opacity="0.9"/>
<line x1="245.68" y1="390.35" x2="250.28" y2="390.35" stroke="#3a3af4" stroke-width="1.05" opacity="0.9"/>
<line x1="257.81" y1="366.71" x2="257.81" y2="389.66" stroke="#3a3af4" stroke-width="1.05" opacity="0.9"/>
<line x1="255.51" y1="366.71" x2="260.11" y2="366.71" stroke="#3a3af4" stroke-width="1.05" opacity="0.9"/>
<line x1="255.51" y1="389.66" x2="260.11" y2="389.66" stroke="#3a3af4" stroke-width="1.05" opacity="0.9"/>
<line x1="267.65" y1="368.78" x2="267.65" y2="391.73" stroke="#3a3af4" stroke-width="1.05" opacity="0.9"/>
<line x1="265.35" y1="368.78" x2="269.95" y2="368.78" stroke="#3a3af4" stroke-width="1.05" opacity="0.9"/>
<line x1="265.35" y1="391.73" x2="269.95" y2="391.73" stroke="#3a3af4" stroke-width="1.05" opacity="0.9"/>
<line x1="277.49" y1="354.09" x2="277.49" y2="377.04" stroke="#3a3af4" stroke-width="1.05" opacity="0.9"/>
<line x1="275.19" y1="354.09" x2="279.79" y2="354.09" stroke="#3a3af4" stroke-width="1.05" opacity="0.9"/>
<line x1="275.19" y1="377.04" x2="279.79" y2="377.04" stroke="#3a3af4" stroke-width="1.05" opacity="0.9"/>
<line x1="287.32" y1="359.37" x2="287.32" y2="382.32" stroke="#3a3af4" stroke-width="1.05" opacity="0.9"/>
<line x1="285.02" y1="359.37" x2="289.62" y2="359.37" stroke="#3a3af4" stroke-width="1.05" opacity="0.9"/>
<line x1="285.02" y1="382.32" x2="289.62" y2="382.32" stroke="#3a3af4" stroke-width="1.05" opacity="0.9"/>
<line x1="297.16" y1="354.09" x2="297.16" y2="377.04" stroke="#3a3af4" stroke-width="1.05" opacity="0.9"/>
<line x1="294.86" y1="354.09" x2="299.46" y2="354.09" stroke="#3a3af4" stroke-width="1.05" opacity="0.9"/>
<line x1="294.86" y1="377.04" x2="299.46" y2="377.04" stroke="#3a3af4" stroke-width="1.05" opacity="0.9"/>
<line x1="306.99" y1="353.40" x2="306.99" y2="376.35" stroke="#3a3af4" stroke-width="1.05" opacity="0.9"/>
<line x1="304.69" y1="353.40" x2="309.29" y2="353.40" stroke="#3a3af4" stroke-width="1.05" opacity="0.9"/>
<line x1="304.69" y1="376.35" x2="309.29" y2="376.35" stroke="#3a3af4" stroke-width="1.05" opacity="0.9"/>
<line x1="316.83" y1="353.40" x2="316.83" y2="371.76" stroke="#3a3af4" stroke-width="1.05" opacity="0.9"/>
<line x1="314.53" y1="353.40" x2="319.13" y2="353.40" stroke="#3a3af4" stroke-width="1.05" opacity="0.9"/>
<line x1="314.53" y1="371.76" x2="319.13" y2="371.76" stroke="#3a3af4" stroke-width="1.05" opacity="0.9"/>
<line x1="326.66" y1="352.71" x2="326.66" y2="366.48" stroke="#3a3af4" stroke-width="1.05" opacity="0.9"/>
<line x1="324.36" y1="352.71" x2="328.96" y2="352.71" stroke="#3a3af4" stroke-width="1.05" opacity="0.9"/>
<line x1="324.36" y1="366.48" x2="328.96" y2="366.48" stroke="#3a3af4" stroke-width="1.05" opacity="0.9"/>
<line x1="336.50" y1="353.86" x2="336.50" y2="363.04" stroke="#3a3af4" stroke-width="1.05" opacity="0.9"/>
<line x1="334.20" y1="353.86" x2="338.80" y2="353.86" stroke="#3a3af4" stroke-width="1.05" opacity="0.9"/>
<line x1="334.20" y1="363.04" x2="338.80" y2="363.04" stroke="#3a3af4" stroke-width="1.05" opacity="0.9"/>
<line x1="208.64" y1="357.76" x2="208.64" y2="364.65" stroke="#5aa852" stroke-width="1.05" opacity="0.9"/>
<line x1="206.34" y1="357.76" x2="210.94" y2="357.76" stroke="#5aa852" stroke-width="1.05" opacity="0.9"/>
<line x1="206.34" y1="364.65" x2="210.94" y2="364.65" stroke="#5aa852" stroke-width="1.05" opacity="0.9"/>
<line x1="218.47" y1="349.04" x2="218.47" y2="355.93" stroke="#5aa852" stroke-width="1.05" opacity="0.9"/>
<line x1="216.17" y1="349.04" x2="220.77" y2="349.04" stroke="#5aa852" stroke-width="1.05" opacity="0.9"/>
<line x1="216.17" y1="355.93" x2="220.77" y2="355.93" stroke="#5aa852" stroke-width="1.05" opacity="0.9"/>
<line x1="228.31" y1="349.04" x2="228.31" y2="355.93" stroke="#5aa852" stroke-width="1.05" opacity="0.9"/>
<line x1="226.01" y1="349.04" x2="230.61" y2="349.04" stroke="#5aa852" stroke-width="1.05" opacity="0.9"/>
<line x1="226.01" y1="355.93" x2="230.61" y2="355.93" stroke="#5aa852" stroke-width="1.05" opacity="0.9"/>
<line x1="238.14" y1="355.47" x2="238.14" y2="366.94" stroke="#5aa852" stroke-width="1.05" opacity="0.9"/>
<line x1="235.84" y1="355.47" x2="240.44" y2="355.47" stroke="#5aa852" stroke-width="1.05" opacity="0.9"/>
<line x1="235.84" y1="366.94" x2="240.44" y2="366.94" stroke="#5aa852" stroke-width="1.05" opacity="0.9"/>
<line x1="247.98" y1="356.16" x2="247.98" y2="367.63" stroke="#5aa852" stroke-width="1.05" opacity="0.9"/>
<line x1="245.68" y1="356.16" x2="250.28" y2="356.16" stroke="#5aa852" stroke-width="1.05" opacity="0.9"/>
<line x1="245.68" y1="367.63" x2="250.28" y2="367.63" stroke="#5aa852" stroke-width="1.05" opacity="0.9"/>
<line x1="257.81" y1="344.45" x2="257.81" y2="355.93" stroke="#5aa852" stroke-width="1.05" opacity="0.9"/>
<line x1="255.51" y1="344.45" x2="260.11" y2="344.45" stroke="#5aa852" stroke-width="1.05" opacity="0.9"/>
<line x1="255.51" y1="355.93" x2="260.11" y2="355.93" stroke="#5aa852" stroke-width="1.05" opacity="0.9"/>
<line x1="267.65" y1="347.44" x2="267.65" y2="356.62" stroke="#5aa852" stroke-width="1.05" opacity="0.9"/>
<line x1="265.35" y1="347.44" x2="269.95" y2="347.44" stroke="#5aa852" stroke-width="1.05" opacity="0.9"/>
<line x1="265.35" y1="356.62" x2="269.95" y2="356.62" stroke="#5aa852" stroke-width="1.05" opacity="0.9"/>
<line x1="277.49" y1="328.62" x2="277.49" y2="351.57" stroke="#5aa852" stroke-width="1.05" opacity="0.9"/>
<line x1="275.19" y1="328.62" x2="279.79" y2="328.62" stroke="#5aa852" stroke-width="1.05" opacity="0.9"/>
<line x1="275.19" y1="351.57" x2="279.79" y2="351.57" stroke="#5aa852" stroke-width="1.05" opacity="0.9"/>
<line x1="287.32" y1="340.09" x2="287.32" y2="376.81" stroke="#5aa852" stroke-width="1.05" opacity="0.9"/>
<line x1="285.02" y1="340.09" x2="289.62" y2="340.09" stroke="#5aa852" stroke-width="1.05" opacity="0.9"/>
<line x1="285.02" y1="376.81" x2="289.62" y2="376.81" stroke="#5aa852" stroke-width="1.05" opacity="0.9"/>
<line x1="297.16" y1="332.29" x2="297.16" y2="355.24" stroke="#5aa852" stroke-width="1.05" opacity="0.9"/>
<line x1="294.86" y1="332.29" x2="299.46" y2="332.29" stroke="#5aa852" stroke-width="1.05" opacity="0.9"/>
<line x1="294.86" y1="355.24" x2="299.46" y2="355.24" stroke="#5aa852" stroke-width="1.05" opacity="0.9"/>
<line x1="306.99" y1="339.86" x2="306.99" y2="353.63" stroke="#5aa852" stroke-width="1.05" opacity="0.9"/>
<line x1="304.69" y1="339.86" x2="309.29" y2="339.86" stroke="#5aa852" stroke-width="1.05" opacity="0.9"/>
<line x1="304.69" y1="353.63" x2="309.29" y2="353.63" stroke="#5aa852" stroke-width="1.05" opacity="0.9"/>
<line x1="316.83" y1="340.32" x2="316.83" y2="354.09" stroke="#5aa852" stroke-width="1.05" opacity="0.9"/>
<line x1="314.53" y1="340.32" x2="319.13" y2="340.32" stroke="#5aa852" stroke-width="1.05" opacity="0.9"/>
<line x1="314.53" y1="354.09" x2="319.13" y2="354.09" stroke="#5aa852" stroke-width="1.05" opacity="0.9"/>
<line x1="326.66" y1="339.17" x2="326.66" y2="352.94" stroke="#5aa852" stroke-width="1.05" opacity="0.9"/>
<line x1="324.36" y1="339.17" x2="328.96" y2="339.17" stroke="#5aa852" stroke-width="1.05" opacity="0.9"/>
<line x1="324.36" y1="352.94" x2="328.96" y2="352.94" stroke="#5aa852" stroke-width="1.05" opacity="0.9"/>
<line x1="336.50" y1="339.63" x2="336.50" y2="348.81" stroke="#5aa852" stroke-width="1.05" opacity="0.9"/>
<line x1="334.20" y1="339.63" x2="338.80" y2="339.63" stroke="#5aa852" stroke-width="1.05" opacity="0.9"/>
<line x1="334.20" y1="348.81" x2="338.80" y2="348.81" stroke="#5aa852" stroke-width="1.05" opacity="0.9"/>
<line x1="208.64" y1="356.62" x2="208.64" y2="363.50" stroke="#62a840" stroke-width="1.05" opacity="0.9"/>
<line x1="206.34" y1="356.62" x2="210.94" y2="356.62" stroke="#62a840" stroke-width="1.05" opacity="0.9"/>
<line x1="206.34" y1="363.50" x2="210.94" y2="363.50" stroke="#62a840" stroke-width="1.05" opacity="0.9"/>
<line x1="218.47" y1="348.35" x2="218.47" y2="355.24" stroke="#62a840" stroke-width="1.05" opacity="0.9"/>
<line x1="216.17" y1="348.35" x2="220.77" y2="348.35" stroke="#62a840" stroke-width="1.05" opacity="0.9"/>
<line x1="216.17" y1="355.24" x2="220.77" y2="355.24" stroke="#62a840" stroke-width="1.05" opacity="0.9"/>
<line x1="228.31" y1="344.45" x2="228.31" y2="353.63" stroke="#62a840" stroke-width="1.05" opacity="0.9"/>
<line x1="226.01" y1="344.45" x2="230.61" y2="344.45" stroke="#62a840" stroke-width="1.05" opacity="0.9"/>
<line x1="226.01" y1="353.63" x2="230.61" y2="353.63" stroke="#62a840" stroke-width="1.05" opacity="0.9"/>
<line x1="238.14" y1="343.76" x2="238.14" y2="357.53" stroke="#62a840" stroke-width="1.05" opacity="0.9"/>
<line x1="235.84" y1="343.76" x2="240.44" y2="343.76" stroke="#62a840" stroke-width="1.05" opacity="0.9"/>
<line x1="235.84" y1="357.53" x2="240.44" y2="357.53" stroke="#62a840" stroke-width="1.05" opacity="0.9"/>
<line x1="247.98" y1="344.45" x2="247.98" y2="358.22" stroke="#62a840" stroke-width="1.05" opacity="0.9"/>
<line x1="245.68" y1="344.45" x2="250.28" y2="344.45" stroke="#62a840" stroke-width="1.05" opacity="0.9"/>
<line x1="245.68" y1="358.22" x2="250.28" y2="358.22" stroke="#62a840" stroke-width="1.05" opacity="0.9"/>
<line x1="257.81" y1="335.73" x2="257.81" y2="349.50" stroke="#62a840" stroke-width="1.05" opacity="0.9"/>
<line x1="255.51" y1="335.73" x2="260.11" y2="335.73" stroke="#62a840" stroke-width="1.05" opacity="0.9"/>
<line x1="255.51" y1="349.50" x2="260.11" y2="349.50" stroke="#62a840" stroke-width="1.05" opacity="0.9"/>
<line x1="267.65" y1="338.03" x2="267.65" y2="360.98" stroke="#62a840" stroke-width="1.05" opacity="0.9"/>
<line x1="265.35" y1="338.03" x2="269.95" y2="338.03" stroke="#62a840" stroke-width="1.05" opacity="0.9"/>
<line x1="265.35" y1="360.98" x2="269.95" y2="360.98" stroke="#62a840" stroke-width="1.05" opacity="0.9"/>
<line x1="277.49" y1="338.03" x2="277.49" y2="360.98" stroke="#62a840" stroke-width="1.05" opacity="0.9"/>
<line x1="275.19" y1="338.03" x2="279.79" y2="338.03" stroke="#62a840" stroke-width="1.05" opacity="0.9"/>
<line x1="275.19" y1="360.98" x2="279.79" y2="360.98" stroke="#62a840" stroke-width="1.05" opacity="0.9"/>
<line x1="287.32" y1="339.86" x2="287.32" y2="353.63" stroke="#62a840" stroke-width="1.05" opacity="0.9"/>
<line x1="285.02" y1="339.86" x2="289.62" y2="339.86" stroke="#62a840" stroke-width="1.05" opacity="0.9"/>
<line x1="285.02" y1="353.63" x2="289.62" y2="353.63" stroke="#62a840" stroke-width="1.05" opacity="0.9"/>
<line x1="297.16" y1="332.29" x2="297.16" y2="355.24" stroke="#62a840" stroke-width="1.05" opacity="0.9"/>
<line x1="294.86" y1="332.29" x2="299.46" y2="332.29" stroke="#62a840" stroke-width="1.05" opacity="0.9"/>
<line x1="294.86" y1="355.24" x2="299.46" y2="355.24" stroke="#62a840" stroke-width="1.05" opacity="0.9"/>
<line x1="306.99" y1="339.86" x2="306.99" y2="353.63" stroke="#62a840" stroke-width="1.05" opacity="0.9"/>
<line x1="304.69" y1="339.86" x2="309.29" y2="339.86" stroke="#62a840" stroke-width="1.05" opacity="0.9"/>
<line x1="304.69" y1="353.63" x2="309.29" y2="353.63" stroke="#62a840" stroke-width="1.05" opacity="0.9"/>
<line x1="316.83" y1="339.86" x2="316.83" y2="353.63" stroke="#62a840" stroke-width="1.05" opacity="0.9"/>
<line x1="314.53" y1="339.86" x2="319.13" y2="339.86" stroke="#62a840" stroke-width="1.05" opacity="0.9"/>
<line x1="314.53" y1="353.63" x2="319.13" y2="353.63" stroke="#62a840" stroke-width="1.05" opacity="0.9"/>
<line x1="326.66" y1="338.49" x2="326.66" y2="352.25" stroke="#62a840" stroke-width="1.05" opacity="0.9"/>
<line x1="324.36" y1="338.49" x2="328.96" y2="338.49" stroke="#62a840" stroke-width="1.05" opacity="0.9"/>
<line x1="324.36" y1="352.25" x2="328.96" y2="352.25" stroke="#62a840" stroke-width="1.05" opacity="0.9"/>
<line x1="336.50" y1="335.50" x2="336.50" y2="344.68" stroke="#62a840" stroke-width="1.05" opacity="0.9"/>
<line x1="334.20" y1="335.50" x2="338.80" y2="335.50" stroke="#62a840" stroke-width="1.05" opacity="0.9"/>
<line x1="334.20" y1="344.68" x2="338.80" y2="344.68" stroke="#62a840" stroke-width="1.05" opacity="0.9"/>
<polyline points="198.80,354.55 208.64,358.91 218.47,353.17 228.31,372.91 238.14,387.14 247.98,389.43 257.81,386.45 267.65,395.40 277.49,391.96 287.32,394.25 297.16,371.99 306.99,369.01 316.83,365.57 326.66,355.47 336.50,355.01" fill="none" stroke="#2d52a8" stroke-width="1"/>
<rect x="196.35" y="352.10" width="4.90" height="4.90" fill="#80d2f8" stroke="#2b52ae" stroke-width="0.9"/>
<rect x="206.19" y="356.46" width="4.90" height="4.90" fill="#80d2f8" stroke="#2b52ae" stroke-width="0.9"/>
<rect x="216.02" y="350.72" width="4.90" height="4.90" fill="#80d2f8" stroke="#2b52ae" stroke-width="0.9"/>
<rect x="225.86" y="370.46" width="4.90" height="4.90" fill="#80d2f8" stroke="#2b52ae" stroke-width="0.9"/>
<rect x="235.69" y="384.69" width="4.90" height="4.90" fill="#80d2f8" stroke="#2b52ae" stroke-width="0.9"/>
<rect x="245.53" y="386.98" width="4.90" height="4.90" fill="#80d2f8" stroke="#2b52ae" stroke-width="0.9"/>
<rect x="255.36" y="384.00" width="4.90" height="4.90" fill="#80d2f8" stroke="#2b52ae" stroke-width="0.9"/>
<rect x="265.20" y="392.95" width="4.90" height="4.90" fill="#80d2f8" stroke="#2b52ae" stroke-width="0.9"/>
<rect x="275.04" y="389.51" width="4.90" height="4.90" fill="#80d2f8" stroke="#2b52ae" stroke-width="0.9"/>
<rect x="284.87" y="391.80" width="4.90" height="4.90" fill="#80d2f8" stroke="#2b52ae" stroke-width="0.9"/>
<rect x="294.71" y="369.54" width="4.90" height="4.90" fill="#80d2f8" stroke="#2b52ae" stroke-width="0.9"/>
<rect x="304.54" y="366.56" width="4.90" height="4.90" fill="#80d2f8" stroke="#2b52ae" stroke-width="0.9"/>
<rect x="314.38" y="363.12" width="4.90" height="4.90" fill="#80d2f8" stroke="#2b52ae" stroke-width="0.9"/>
<rect x="324.21" y="353.02" width="4.90" height="4.90" fill="#80d2f8" stroke="#2b52ae" stroke-width="0.9"/>
<rect x="334.05" y="352.56" width="4.90" height="4.90" fill="#80d2f8" stroke="#2b52ae" stroke-width="0.9"/>
<polyline points="198.80,354.55 208.64,355.47 218.47,353.17 228.31,364.19 238.14,379.34 247.98,378.88 257.81,378.19 267.65,380.25 277.49,365.57 287.32,370.84 297.16,365.57 306.99,364.88 316.83,362.58 326.66,359.60 336.50,358.45" fill="none" stroke="#2222f6" stroke-width="1"/>
<circle cx="198.80" cy="354.55" r="2.3" fill="#5656f8" stroke="#1818ee" stroke-width="1"/>
<circle cx="208.64" cy="355.47" r="2.3" fill="#5656f8" stroke="#1818ee" stroke-width="1"/>
<circle cx="218.47" cy="353.17" r="2.3" fill="#5656f8" stroke="#1818ee" stroke-width="1"/>
<circle cx="228.31" cy="364.19" r="2.3" fill="#5656f8" stroke="#1818ee" stroke-width="1"/>
<circle cx="238.14" cy="379.34" r="2.3" fill="#5656f8" stroke="#1818ee" stroke-width="1"/>
<circle cx="247.98" cy="378.88" r="2.3" fill="#5656f8" stroke="#1818ee" stroke-width="1"/>
<circle cx="257.81" cy="378.19" r="2.3" fill="#5656f8" stroke="#1818ee" stroke-width="1"/>
<circle cx="267.65" cy="380.25" r="2.3" fill="#5656f8" stroke="#1818ee" stroke-width="1"/>
<circle cx="277.49" cy="365.57" r="2.3" fill="#5656f8" stroke="#1818ee" stroke-width="1"/>
<circle cx="287.32" cy="370.84" r="2.3" fill="#5656f8" stroke="#1818ee" stroke-width="1"/>
<circle cx="297.16" cy="365.57" r="2.3" fill="#5656f8" stroke="#1818ee" stroke-width="1"/>
<circle cx="306.99" cy="364.88" r="2.3" fill="#5656f8" stroke="#1818ee" stroke-width="1"/>
<circle cx="316.83" cy="362.58" r="2.3" fill="#5656f8" stroke="#1818ee" stroke-width="1"/>
<circle cx="326.66" cy="359.60" r="2.3" fill="#5656f8" stroke="#1818ee" stroke-width="1"/>
<circle cx="336.50" cy="358.45" r="2.3" fill="#5656f8" stroke="#1818ee" stroke-width="1"/>
<polyline points="198.80,354.55 208.64,361.21 218.47,352.48 228.31,352.48 238.14,361.21 247.98,361.89 257.81,350.19 267.65,352.03 277.49,340.09 287.32,358.45 297.16,343.76 306.99,346.75 316.83,347.21 326.66,346.06 336.50,344.22" fill="none" stroke="#4c9c4a" stroke-width="1"/>
<rect x="196.35" y="352.10" width="4.90" height="4.90" fill="#cbf46e" stroke="#45954a" stroke-width="0.9"/>
<rect x="206.19" y="358.76" width="4.90" height="4.90" fill="#cbf46e" stroke="#45954a" stroke-width="0.9"/>
<rect x="216.02" y="350.03" width="4.90" height="4.90" fill="#cbf46e" stroke="#45954a" stroke-width="0.9"/>
<rect x="225.86" y="350.03" width="4.90" height="4.90" fill="#cbf46e" stroke="#45954a" stroke-width="0.9"/>
<rect x="235.69" y="358.76" width="4.90" height="4.90" fill="#cbf46e" stroke="#45954a" stroke-width="0.9"/>
<rect x="245.53" y="359.44" width="4.90" height="4.90" fill="#cbf46e" stroke="#45954a" stroke-width="0.9"/>
<rect x="255.36" y="347.74" width="4.90" height="4.90" fill="#cbf46e" stroke="#45954a" stroke-width="0.9"/>
<rect x="265.20" y="349.58" width="4.90" height="4.90" fill="#cbf46e" stroke="#45954a" stroke-width="0.9"/>
<rect x="275.04" y="337.64" width="4.90" height="4.90" fill="#cbf46e" stroke="#45954a" stroke-width="0.9"/>
<rect x="284.87" y="356.00" width="4.90" height="4.90" fill="#cbf46e" stroke="#45954a" stroke-width="0.9"/>
<rect x="294.71" y="341.31" width="4.90" height="4.90" fill="#cbf46e" stroke="#45954a" stroke-width="0.9"/>
<rect x="304.54" y="344.30" width="4.90" height="4.90" fill="#cbf46e" stroke="#45954a" stroke-width="0.9"/>
<rect x="314.38" y="344.76" width="4.90" height="4.90" fill="#cbf46e" stroke="#45954a" stroke-width="0.9"/>
<rect x="324.21" y="343.61" width="4.90" height="4.90" fill="#cbf46e" stroke="#45954a" stroke-width="0.9"/>
<rect x="334.05" y="341.77" width="4.90" height="4.90" fill="#cbf46e" stroke="#45954a" stroke-width="0.9"/>
<polyline points="198.80,354.55 208.64,360.06 218.47,351.80 228.31,349.04 238.14,350.65 247.98,351.34 257.81,342.62 267.65,349.50 277.49,349.50 287.32,346.75 297.16,343.76 306.99,346.75 316.83,346.75 326.66,345.37 336.50,340.09" fill="none" stroke="#529c2e" stroke-width="1"/>
<circle cx="198.80" cy="354.55" r="2.3" fill="#6db446" stroke="#47902a" stroke-width="1"/>
<circle cx="208.64" cy="360.06" r="2.3" fill="#6db446" stroke="#47902a" stroke-width="1"/>
<circle cx="218.47" cy="351.80" r="2.3" fill="#6db446" stroke="#47902a" stroke-width="1"/>
<circle cx="228.31" cy="349.04" r="2.3" fill="#6db446" stroke="#47902a" stroke-width="1"/>
<circle cx="238.14" cy="350.65" r="2.3" fill="#6db446" stroke="#47902a" stroke-width="1"/>
<circle cx="247.98" cy="351.34" r="2.3" fill="#6db446" stroke="#47902a" stroke-width="1"/>
<circle cx="257.81" cy="342.62" r="2.3" fill="#6db446" stroke="#47902a" stroke-width="1"/>
<circle cx="267.65" cy="349.50" r="2.3" fill="#6db446" stroke="#47902a" stroke-width="1"/>
<circle cx="277.49" cy="349.50" r="2.3" fill="#6db446" stroke="#47902a" stroke-width="1"/>
<circle cx="287.32" cy="346.75" r="2.3" fill="#6db446" stroke="#47902a" stroke-width="1"/>
<circle cx="297.16" cy="343.76" r="2.3" fill="#6db446" stroke="#47902a" stroke-width="1"/>
<circle cx="306.99" cy="346.75" r="2.3" fill="#6db446" stroke="#47902a" stroke-width="1"/>
<circle cx="316.83" cy="346.75" r="2.3" fill="#6db446" stroke="#47902a" stroke-width="1"/>
<circle cx="326.66" cy="345.37" r="2.3" fill="#6db446" stroke="#47902a" stroke-width="1"/>
<circle cx="336.50" cy="340.09" r="2.3" fill="#6db446" stroke="#47902a" stroke-width="1"/>
<line x1="198.80" y1="330.90" x2="198.80" y2="427.60" stroke="#000" stroke-width="1.6"/>
<line x1="194.20" y1="423.40" x2="337.20" y2="423.40" stroke="#000" stroke-width="1.6"/>
<line x1="194.20" y1="331.60" x2="198.80" y2="331.60" stroke="#000" stroke-width="1.5"/>
<line x1="194.20" y1="354.55" x2="198.80" y2="354.55" stroke="#000" stroke-width="1.5"/>
<line x1="194.20" y1="377.50" x2="198.80" y2="377.50" stroke="#000" stroke-width="1.5"/>
<line x1="194.20" y1="400.45" x2="198.80" y2="400.45" stroke="#000" stroke-width="1.5"/>
<line x1="208.64" y1="423.40" x2="208.64" y2="427.60" stroke="#000" stroke-width="1.5"/>
<line x1="218.47" y1="423.40" x2="218.47" y2="427.60" stroke="#000" stroke-width="1.5"/>
<line x1="228.31" y1="423.40" x2="228.31" y2="427.60" stroke="#000" stroke-width="1.5"/>
<line x1="238.14" y1="423.40" x2="238.14" y2="427.60" stroke="#000" stroke-width="1.5"/>
<line x1="247.98" y1="423.40" x2="247.98" y2="427.60" stroke="#000" stroke-width="1.5"/>
<line x1="257.81" y1="423.40" x2="257.81" y2="427.60" stroke="#000" stroke-width="1.5"/>
<line x1="267.65" y1="423.40" x2="267.65" y2="427.60" stroke="#000" stroke-width="1.5"/>
<line x1="277.49" y1="423.40" x2="277.49" y2="427.60" stroke="#000" stroke-width="1.5"/>
<line x1="287.32" y1="423.40" x2="287.32" y2="427.60" stroke="#000" stroke-width="1.5"/>
<line x1="297.16" y1="423.40" x2="297.16" y2="427.60" stroke="#000" stroke-width="1.5"/>
<line x1="306.99" y1="423.40" x2="306.99" y2="427.60" stroke="#000" stroke-width="1.5"/>
<line x1="316.83" y1="423.40" x2="316.83" y2="427.60" stroke="#000" stroke-width="1.5"/>
<line x1="326.66" y1="423.40" x2="326.66" y2="427.60" stroke="#000" stroke-width="1.5"/>
<line x1="336.50" y1="423.40" x2="336.50" y2="427.60" stroke="#000" stroke-width="1.5"/>
<text x="0" y="0" font-size="8" font-weight="bold" text-anchor="end" transform="translate(200.80 435.70) rotate(-45) scale(1 1.1)">0</text>
<text x="0" y="0" font-size="8" font-weight="bold" text-anchor="end" transform="translate(210.64 435.70) rotate(-45) scale(1 1.1)">1</text>
<text x="0" y="0" font-size="8" font-weight="bold" text-anchor="end" transform="translate(220.47 435.70) rotate(-45) scale(1 1.1)">2</text>
<text x="0" y="0" font-size="8" font-weight="bold" text-anchor="end" transform="translate(230.31 435.70) rotate(-45) scale(1 1.1)">3</text>
<text x="0" y="0" font-size="8" font-weight="bold" text-anchor="end" transform="translate(240.14 435.70) rotate(-45) scale(1 1.1)">4</text>
<text x="0" y="0" font-size="8" font-weight="bold" text-anchor="end" transform="translate(249.98 435.70) rotate(-45) scale(1 1.1)">5</text>
<text x="0" y="0" font-size="8" font-weight="bold" text-anchor="end" transform="translate(259.81 435.70) rotate(-45) scale(1 1.1)">6</text>
<text x="0" y="0" font-size="8" font-weight="bold" text-anchor="end" transform="translate(269.65 435.70) rotate(-45) scale(1 1.1)">7</text>
<text x="0" y="0" font-size="8" font-weight="bold" text-anchor="end" transform="translate(279.49 435.70) rotate(-45) scale(1 1.1)">8</text>
<text x="0" y="0" font-size="8" font-weight="bold" text-anchor="end" transform="translate(289.32 435.70) rotate(-45) scale(1 1.1)">9</text>
<text x="0" y="0" font-size="8" font-weight="bold" text-anchor="end" transform="translate(299.16 435.70) rotate(-45) scale(1 1.1)">10</text>
<text x="0" y="0" font-size="8" font-weight="bold" text-anchor="end" transform="translate(308.99 435.70) rotate(-45) scale(1 1.1)">11</text>
<text x="0" y="0" font-size="8" font-weight="bold" text-anchor="end" transform="translate(318.83 435.70) rotate(-45) scale(1 1.1)">12</text>
<text x="0" y="0" font-size="8" font-weight="bold" text-anchor="end" transform="translate(328.66 435.70) rotate(-45) scale(1 1.1)">13</text>
<text x="0" y="0" font-size="8" font-weight="bold" text-anchor="end" transform="translate(338.50 435.70) rotate(-45) scale(1 1.1)">14</text>
<text transform="translate(267.50 457.20) scale(1 1.1)" x="0" y="0" font-size="9" font-weight="bold" text-anchor="middle" fill="#000" >Days post infection</text>
<text transform="translate(114.70 447.50) scale(1 1.1)" x="0" y="0" font-size="9" font-weight="bold" text-anchor="middle" fill="#000" >6G1</text>
<line x1="47.80" y1="478.40" x2="183.60" y2="478.40" stroke="#000" stroke-width="1.1" stroke-dasharray="1.3,1.7"/>
<line x1="48.80" y1="535.90" x2="182.60" y2="535.90" stroke="#000" stroke-width="1.1" stroke-dasharray="1.3,1.7"/>
<line x1="55.64" y1="484.15" x2="55.64" y2="491.05" stroke="#6e6e6e" stroke-width="1"/>
<line x1="53.34" y1="484.15" x2="57.94" y2="484.15" stroke="#666" stroke-width="1"/>
<line x1="53.34" y1="491.05" x2="57.94" y2="491.05" stroke="#666" stroke-width="1"/>
<line x1="65.49" y1="476.10" x2="65.49" y2="487.60" stroke="#6e6e6e" stroke-width="1"/>
<line x1="63.19" y1="476.10" x2="67.79" y2="476.10" stroke="#666" stroke-width="1"/>
<line x1="63.19" y1="487.60" x2="67.79" y2="487.60" stroke="#666" stroke-width="1"/>
<line x1="75.33" y1="493.35" x2="75.33" y2="503.70" stroke="#6e6e6e" stroke-width="1"/>
<line x1="73.03" y1="493.35" x2="77.63" y2="493.35" stroke="#666" stroke-width="1"/>
<line x1="73.03" y1="503.70" x2="77.63" y2="503.70" stroke="#666" stroke-width="1"/>
<line x1="85.17" y1="509.45" x2="85.17" y2="524.40" stroke="#6e6e6e" stroke-width="1"/>
<line x1="82.87" y1="509.45" x2="87.47" y2="509.45" stroke="#666" stroke-width="1"/>
<line x1="82.87" y1="524.40" x2="87.47" y2="524.40" stroke="#666" stroke-width="1"/>
<line x1="95.01" y1="514.05" x2="95.01" y2="531.30" stroke="#6e6e6e" stroke-width="1"/>
<line x1="92.71" y1="514.05" x2="97.31" y2="514.05" stroke="#666" stroke-width="1"/>
<line x1="92.71" y1="531.30" x2="97.31" y2="531.30" stroke="#666" stroke-width="1"/>
<line x1="104.86" y1="515.20" x2="104.86" y2="533.60" stroke="#6e6e6e" stroke-width="1"/>
<line x1="102.56" y1="515.20" x2="107.16" y2="515.20" stroke="#666" stroke-width="1"/>
<line x1="102.56" y1="533.60" x2="107.16" y2="533.60" stroke="#666" stroke-width="1"/>
<line x1="114.70" y1="529.00" x2="114.70" y2="545.10" stroke="#6e6e6e" stroke-width="1"/>
<line x1="112.40" y1="529.00" x2="117.00" y2="529.00" stroke="#666" stroke-width="1"/>
<line x1="112.40" y1="545.10" x2="117.00" y2="545.10" stroke="#666" stroke-width="1"/>
<line x1="124.54" y1="502.09" x2="124.54" y2="528.08" stroke="#6e6e6e" stroke-width="1"/>
<line x1="122.24" y1="502.09" x2="126.84" y2="502.09" stroke="#666" stroke-width="1"/>
<line x1="122.24" y1="528.08" x2="126.84" y2="528.08" stroke="#666" stroke-width="1"/>
<line x1="134.39" y1="494.73" x2="134.39" y2="526.93" stroke="#6e6e6e" stroke-width="1"/>
<line x1="132.09" y1="494.73" x2="136.69" y2="494.73" stroke="#666" stroke-width="1"/>
<line x1="132.09" y1="526.93" x2="136.69" y2="526.93" stroke="#666" stroke-width="1"/>
<line x1="132.09" y1="518.42" x2="136.69" y2="518.42" stroke="#666" stroke-width="1"/>
<line x1="144.23" y1="485.99" x2="144.23" y2="522.33" stroke="#6e6e6e" stroke-width="1"/>
<line x1="141.93" y1="485.99" x2="146.53" y2="485.99" stroke="#666" stroke-width="1"/>
<line x1="141.93" y1="522.33" x2="146.53" y2="522.33" stroke="#666" stroke-width="1"/>
<line x1="141.93" y1="492.20" x2="146.53" y2="492.20" stroke="#666" stroke-width="1"/>
<line x1="154.07" y1="485.07" x2="154.07" y2="527.39" stroke="#6e6e6e" stroke-width="1"/>
<line x1="151.77" y1="485.07" x2="156.37" y2="485.07" stroke="#666" stroke-width="1"/>
<line x1="151.77" y1="527.39" x2="156.37" y2="527.39" stroke="#666" stroke-width="1"/>
<line x1="151.77" y1="489.44" x2="156.37" y2="489.44" stroke="#666" stroke-width="1"/>
<line x1="163.91" y1="483.00" x2="163.91" y2="535.67" stroke="#6e6e6e" stroke-width="1"/>
<line x1="161.61" y1="483.00" x2="166.21" y2="483.00" stroke="#666" stroke-width="1"/>
<line x1="161.61" y1="535.67" x2="166.21" y2="535.67" stroke="#666" stroke-width="1"/>
<line x1="161.61" y1="501.40" x2="166.21" y2="501.40" stroke="#666" stroke-width="1"/>
<line x1="173.76" y1="481.62" x2="173.76" y2="531.07" stroke="#6e6e6e" stroke-width="1"/>
<line x1="171.46" y1="481.62" x2="176.06" y2="481.62" stroke="#666" stroke-width="1"/>
<line x1="171.46" y1="531.07" x2="176.06" y2="531.07" stroke="#666" stroke-width="1"/>
<line x1="171.46" y1="491.28" x2="176.06" y2="491.28" stroke="#666" stroke-width="1"/>
<line x1="183.60" y1="477.25" x2="183.60" y2="526.47" stroke="#6e6e6e" stroke-width="1"/>
<line x1="181.30" y1="477.25" x2="185.90" y2="477.25" stroke="#666" stroke-width="1"/>
<line x1="181.30" y1="526.47" x2="185.90" y2="526.47" stroke="#666" stroke-width="1"/>
<polyline points="45.80,478.40 55.64,487.60 65.49,478.40 75.33,496.80 85.17,513.36 95.01,517.96 104.86,519.80 114.70,532.68 124.54,514.28 134.39,507.38 144.23,499.10 154.07,497.95 163.91,493.35 173.76,486.91 183.60,481.16" fill="none" stroke="#222" stroke-width="0.7"/>
<polyline points="45.80,478.40 55.64,486.45 65.49,478.40 75.33,497.95 85.17,519.80 95.01,522.79 104.86,523.25 114.70,532.68 124.54,524.17 134.39,512.67 144.23,505.54 154.07,507.84 163.91,508.53 173.76,499.10 183.60,494.50" fill="none" stroke="#222" stroke-width="0.7"/>
<polyline points="45.80,478.40 55.64,485.30 65.49,479.55 75.33,499.10 85.17,520.95 95.01,528.08 104.86,527.39 114.70,533.60 124.54,515.20 134.39,509.45 144.23,505.54 154.07,507.84 163.91,511.52 173.76,506.69 183.60,503.24" fill="none" stroke="#222" stroke-width="0.7"/>
<polyline points="45.80,478.40 55.64,487.60 65.49,479.32 75.33,499.10 85.17,519.80 95.01,522.79 104.86,519.80 114.70,532.68 124.54,532.91 134.39,538.20" fill="none" stroke="#222" stroke-width="0.7"/>
<polyline points="45.80,478.40 55.64,488.52 65.49,479.32 75.33,500.25 85.17,520.95 95.01,528.08 104.86,527.39 114.70,539.12" fill="none" stroke="#222" stroke-width="0.7"/>
<circle cx="55.64" cy="487.60" r="2.5" fill="#000"/>
<circle cx="65.49" cy="478.40" r="2.5" fill="#000"/>
<circle cx="75.33" cy="496.80" r="2.5" fill="#000"/>
<circle cx="85.17" cy="513.36" r="2.5" fill="#000"/>
<circle cx="95.01" cy="517.96" r="2.5" fill="#000"/>
<circle cx="104.86" cy="519.80" r="2.5" fill="#000"/>
<circle cx="114.70" cy="532.68" r="2.5" fill="#000"/>
<circle cx="124.54" cy="514.28" r="2.5" fill="#000"/>
<circle cx="134.39" cy="507.38" r="2.5" fill="#000"/>
<circle cx="144.23" cy="499.10" r="2.5" fill="#000"/>
<circle cx="154.07" cy="497.95" r="2.5" fill="#000"/>
<circle cx="163.91" cy="493.35" r="2.5" fill="#000"/>
<circle cx="173.76" cy="486.91" r="2.5" fill="#000"/>
<circle cx="183.60" cy="481.16" r="2.5" fill="#000"/>
<circle cx="55.64" cy="486.45" r="2.5" fill="#000"/>
<circle cx="65.49" cy="478.40" r="2.5" fill="#000"/>
<circle cx="75.33" cy="497.95" r="2.5" fill="#000"/>
<circle cx="85.17" cy="519.80" r="2.5" fill="#000"/>
<circle cx="95.01" cy="522.79" r="2.5" fill="#000"/>
<circle cx="104.86" cy="523.25" r="2.5" fill="#000"/>
<circle cx="114.70" cy="532.68" r="2.5" fill="#000"/>
<circle cx="124.54" cy="524.17" r="2.5" fill="#000"/>
<circle cx="134.39" cy="512.67" r="2.5" fill="#000"/>
<circle cx="144.23" cy="505.54" r="2.5" fill="#000"/>
<circle cx="154.07" cy="507.84" r="2.5" fill="#000"/>
<circle cx="163.91" cy="508.53" r="2.5" fill="#000"/>
<circle cx="173.76" cy="499.10" r="2.5" fill="#000"/>
<circle cx="183.60" cy="494.50" r="2.5" fill="#000"/>
<circle cx="55.64" cy="485.30" r="2.5" fill="#000"/>
<circle cx="65.49" cy="479.55" r="2.5" fill="#000"/>
<circle cx="75.33" cy="499.10" r="2.5" fill="#000"/>
<circle cx="85.17" cy="520.95" r="2.5" fill="#000"/>
<circle cx="95.01" cy="528.08" r="2.5" fill="#000"/>
<circle cx="104.86" cy="527.39" r="2.5" fill="#000"/>
<circle cx="114.70" cy="533.60" r="2.5" fill="#000"/>
<circle cx="124.54" cy="515.20" r="2.5" fill="#000"/>
<circle cx="134.39" cy="509.45" r="2.5" fill="#000"/>
<circle cx="144.23" cy="505.54" r="2.5" fill="#000"/>
<circle cx="154.07" cy="507.84" r="2.5" fill="#000"/>
<circle cx="163.91" cy="511.52" r="2.5" fill="#000"/>
<circle cx="173.76" cy="506.69" r="2.5" fill="#000"/>
<circle cx="183.60" cy="503.24" r="2.5" fill="#000"/>
<circle cx="55.64" cy="487.60" r="2.5" fill="#000"/>
<circle cx="65.49" cy="479.32" r="2.5" fill="#000"/>
<circle cx="75.33" cy="499.10" r="2.5" fill="#000"/>
<circle cx="85.17" cy="519.80" r="2.5" fill="#000"/>
<circle cx="95.01" cy="522.79" r="2.5" fill="#000"/>
<circle cx="104.86" cy="519.80" r="2.5" fill="#000"/>
<circle cx="114.70" cy="532.68" r="2.5" fill="#000"/>
<circle cx="124.54" cy="532.91" r="2.5" fill="#000"/>
<circle cx="134.39" cy="538.20" r="2.5" fill="#000"/>
<circle cx="55.64" cy="488.52" r="2.5" fill="#000"/>
<circle cx="65.49" cy="479.32" r="2.5" fill="#000"/>
<circle cx="75.33" cy="500.25" r="2.5" fill="#000"/>
<circle cx="85.17" cy="520.95" r="2.5" fill="#000"/>
<circle cx="95.01" cy="528.08" r="2.5" fill="#000"/>
<circle cx="104.86" cy="527.39" r="2.5" fill="#000"/>
<circle cx="114.70" cy="539.12" r="2.5" fill="#000"/>
<line x1="55.64" y1="483.00" x2="55.64" y2="492.20" stroke="#3560b8" stroke-width="1.05" opacity="0.9"/>
<line x1="53.34" y1="483.00" x2="57.94" y2="483.00" stroke="#3560b8" stroke-width="1.05" opacity="0.9"/>
<line x1="53.34" y1="492.20" x2="57.94" y2="492.20" stroke="#3560b8" stroke-width="1.05" opacity="0.9"/>
<line x1="65.49" y1="474.26" x2="65.49" y2="483.46" stroke="#3560b8" stroke-width="1.05" opacity="0.9"/>
<line x1="63.19" y1="474.26" x2="67.79" y2="474.26" stroke="#3560b8" stroke-width="1.05" opacity="0.9"/>
<line x1="63.19" y1="483.46" x2="67.79" y2="483.46" stroke="#3560b8" stroke-width="1.05" opacity="0.9"/>
<line x1="75.33" y1="478.40" x2="75.33" y2="492.20" stroke="#3560b8" stroke-width="1.05" opacity="0.9"/>
<line x1="73.03" y1="478.40" x2="77.63" y2="478.40" stroke="#3560b8" stroke-width="1.05" opacity="0.9"/>
<line x1="73.03" y1="492.20" x2="77.63" y2="492.20" stroke="#3560b8" stroke-width="1.05" opacity="0.9"/>
<line x1="85.17" y1="488.29" x2="85.17" y2="502.09" stroke="#3560b8" stroke-width="1.05" opacity="0.9"/>
<line x1="82.87" y1="488.29" x2="87.47" y2="488.29" stroke="#3560b8" stroke-width="1.05" opacity="0.9"/>
<line x1="82.87" y1="502.09" x2="87.47" y2="502.09" stroke="#3560b8" stroke-width="1.05" opacity="0.9"/>
<line x1="95.01" y1="483.69" x2="95.01" y2="497.49" stroke="#3560b8" stroke-width="1.05" opacity="0.9"/>
<line x1="92.71" y1="483.69" x2="97.31" y2="483.69" stroke="#3560b8" stroke-width="1.05" opacity="0.9"/>
<line x1="92.71" y1="497.49" x2="97.31" y2="497.49" stroke="#3560b8" stroke-width="1.05" opacity="0.9"/>
<line x1="104.86" y1="471.96" x2="104.86" y2="494.96" stroke="#3560b8" stroke-width="1.05" opacity="0.9"/>
<line x1="102.56" y1="471.96" x2="107.16" y2="471.96" stroke="#3560b8" stroke-width="1.05" opacity="0.9"/>
<line x1="102.56" y1="494.96" x2="107.16" y2="494.96" stroke="#3560b8" stroke-width="1.05" opacity="0.9"/>
<line x1="114.70" y1="473.11" x2="114.70" y2="500.71" stroke="#3560b8" stroke-width="1.05" opacity="0.9"/>
<line x1="112.40" y1="473.11" x2="117.00" y2="473.11" stroke="#3560b8" stroke-width="1.05" opacity="0.9"/>
<line x1="112.40" y1="500.71" x2="117.00" y2="500.71" stroke="#3560b8" stroke-width="1.05" opacity="0.9"/>
<line x1="124.54" y1="468.97" x2="124.54" y2="487.37" stroke="#3560b8" stroke-width="1.05" opacity="0.9"/>
<line x1="122.24" y1="468.97" x2="126.84" y2="468.97" stroke="#3560b8" stroke-width="1.05" opacity="0.9"/>
<line x1="122.24" y1="487.37" x2="126.84" y2="487.37" stroke="#3560b8" stroke-width="1.05" opacity="0.9"/>
<line x1="134.39" y1="473.57" x2="134.39" y2="487.37" stroke="#3560b8" stroke-width="1.05" opacity="0.9"/>
<line x1="132.09" y1="473.57" x2="136.69" y2="473.57" stroke="#3560b8" stroke-width="1.05" opacity="0.9"/>
<line x1="132.09" y1="487.37" x2="136.69" y2="487.37" stroke="#3560b8" stroke-width="1.05" opacity="0.9"/>
<line x1="144.23" y1="460.23" x2="144.23" y2="474.03" stroke="#3560b8" stroke-width="1.05" opacity="0.9"/>
<line x1="141.93" y1="460.23" x2="146.53" y2="460.23" stroke="#3560b8" stroke-width="1.05" opacity="0.9"/>
<line x1="141.93" y1="474.03" x2="146.53" y2="474.03" stroke="#3560b8" stroke-width="1.05" opacity="0.9"/>
<line x1="154.07" y1="459.54" x2="154.07" y2="473.34" stroke="#3560b8" stroke-width="1.05" opacity="0.9"/>
<line x1="151.77" y1="459.54" x2="156.37" y2="459.54" stroke="#3560b8" stroke-width="1.05" opacity="0.9"/>
<line x1="151.77" y1="473.34" x2="156.37" y2="473.34" stroke="#3560b8" stroke-width="1.05" opacity="0.9"/>
<line x1="163.91" y1="465.98" x2="163.91" y2="479.78" stroke="#3560b8" stroke-width="1.05" opacity="0.9"/>
<line x1="161.61" y1="465.98" x2="166.21" y2="465.98" stroke="#3560b8" stroke-width="1.05" opacity="0.9"/>
<line x1="161.61" y1="479.78" x2="166.21" y2="479.78" stroke="#3560b8" stroke-width="1.05" opacity="0.9"/>
<line x1="173.76" y1="467.13" x2="173.76" y2="480.93" stroke="#3560b8" stroke-width="1.05" opacity="0.9"/>
<line x1="171.46" y1="467.13" x2="176.06" y2="467.13" stroke="#3560b8" stroke-width="1.05" opacity="0.9"/>
<line x1="171.46" y1="480.93" x2="176.06" y2="480.93" stroke="#3560b8" stroke-width="1.05" opacity="0.9"/>
<line x1="183.60" y1="464.37" x2="183.60" y2="478.17" stroke="#3560b8" stroke-width="1.05" opacity="0.9"/>
<line x1="181.30" y1="464.37" x2="185.90" y2="464.37" stroke="#3560b8" stroke-width="1.05" opacity="0.9"/>
<line x1="181.30" y1="478.17" x2="185.90" y2="478.17" stroke="#3560b8" stroke-width="1.05" opacity="0.9"/>
<line x1="55.64" y1="481.85" x2="55.64" y2="488.75" stroke="#3a3af4" stroke-width="1.05" opacity="0.9"/>
<line x1="53.34" y1="481.85" x2="57.94" y2="481.85" stroke="#3a3af4" stroke-width="1.05" opacity="0.9"/>
<line x1="53.34" y1="488.75" x2="57.94" y2="488.75" stroke="#3a3af4" stroke-width="1.05" opacity="0.9"/>
<line x1="65.49" y1="474.26" x2="65.49" y2="481.16" stroke="#3a3af4" stroke-width="1.05" opacity="0.9"/>
<line x1="63.19" y1="474.26" x2="67.79" y2="474.26" stroke="#3a3af4" stroke-width="1.05" opacity="0.9"/>
<line x1="63.19" y1="481.16" x2="67.79" y2="481.16" stroke="#3a3af4" stroke-width="1.05" opacity="0.9"/>
<line x1="75.33" y1="472.42" x2="75.33" y2="481.62" stroke="#3a3af4" stroke-width="1.05" opacity="0.9"/>
<line x1="73.03" y1="472.42" x2="77.63" y2="472.42" stroke="#3a3af4" stroke-width="1.05" opacity="0.9"/>
<line x1="73.03" y1="481.62" x2="77.63" y2="481.62" stroke="#3a3af4" stroke-width="1.05" opacity="0.9"/>
<line x1="85.17" y1="479.55" x2="85.17" y2="488.75" stroke="#3a3af4" stroke-width="1.05" opacity="0.9"/>
<line x1="82.87" y1="479.55" x2="87.47" y2="479.55" stroke="#3a3af4" stroke-width="1.05" opacity="0.9"/>
<line x1="82.87" y1="488.75" x2="87.47" y2="488.75" stroke="#3a3af4" stroke-width="1.05" opacity="0.9"/>
<line x1="95.01" y1="478.86" x2="95.01" y2="488.06" stroke="#3a3af4" stroke-width="1.05" opacity="0.9"/>
<line x1="92.71" y1="478.86" x2="97.31" y2="478.86" stroke="#3a3af4" stroke-width="1.05" opacity="0.9"/>
<line x1="92.71" y1="488.06" x2="97.31" y2="488.06" stroke="#3a3af4" stroke-width="1.05" opacity="0.9"/>
<line x1="104.86" y1="466.67" x2="104.86" y2="480.47" stroke="#3a3af4" stroke-width="1.05" opacity="0.9"/>
<line x1="102.56" y1="466.67" x2="107.16" y2="466.67" stroke="#3a3af4" stroke-width="1.05" opacity="0.9"/>
<line x1="102.56" y1="480.47" x2="107.16" y2="480.47" stroke="#3a3af4" stroke-width="1.05" opacity="0.9"/>
<line x1="114.70" y1="467.82" x2="114.70" y2="481.62" stroke="#3a3af4" stroke-width="1.05" opacity="0.9"/>
<line x1="112.40" y1="467.82" x2="117.00" y2="467.82" stroke="#3a3af4" stroke-width="1.05" opacity="0.9"/>
<line x1="112.40" y1="481.62" x2="117.00" y2="481.62" stroke="#3a3af4" stroke-width="1.05" opacity="0.9"/>
<line x1="124.54" y1="467.82" x2="124.54" y2="481.62" stroke="#3a3af4" stroke-width="1.05" opacity="0.9"/>
<line x1="122.24" y1="467.82" x2="126.84" y2="467.82" stroke="#3a3af4" stroke-width="1.05" opacity="0.9"/>
<line x1="122.24" y1="481.62" x2="126.84" y2="481.62" stroke="#3a3af4" stroke-width="1.05" opacity="0.9"/>
<line x1="134.39" y1="468.97" x2="134.39" y2="482.77" stroke="#3a3af4" stroke-width="1.05" opacity="0.9"/>
<line x1="132.09" y1="468.97" x2="136.69" y2="468.97" stroke="#3a3af4" stroke-width="1.05" opacity="0.9"/>
<line x1="132.09" y1="482.77" x2="136.69" y2="482.77" stroke="#3a3af4" stroke-width="1.05" opacity="0.9"/>
<line x1="144.23" y1="467.13" x2="144.23" y2="476.33" stroke="#3a3af4" stroke-width="1.05" opacity="0.9"/>
<line x1="141.93" y1="467.13" x2="146.53" y2="467.13" stroke="#3a3af4" stroke-width="1.05" opacity="0.9"/>
<line x1="141.93" y1="476.33" x2="146.53" y2="476.33" stroke="#3a3af4" stroke-width="1.05" opacity="0.9"/>
<line x1="154.07" y1="467.13" x2="154.07" y2="476.33" stroke="#3a3af4" stroke-width="1.05" opacity="0.9"/>
<line x1="151.77" y1="467.13" x2="156.37" y2="467.13" stroke="#3a3af4" stroke-width="1.05" opacity="0.9"/>
<line x1="151.77" y1="476.33" x2="156.37" y2="476.33" stroke="#3a3af4" stroke-width="1.05" opacity="0.9"/>
<line x1="163.91" y1="467.82" x2="163.91" y2="477.02" stroke="#3a3af4" stroke-width="1.05" opacity="0.9"/>
<line x1="161.61" y1="467.82" x2="166.21" y2="467.82" stroke="#3a3af4" stroke-width="1.05" opacity="0.9"/>
<line x1="161.61" y1="477.02" x2="166.21" y2="477.02" stroke="#3a3af4" stroke-width="1.05" opacity="0.9"/>
<line x1="173.76" y1="469.43" x2="173.76" y2="478.63" stroke="#3a3af4" stroke-width="1.05" opacity="0.9"/>
<line x1="171.46" y1="469.43" x2="176.06" y2="469.43" stroke="#3a3af4" stroke-width="1.05" opacity="0.9"/>
<line x1="171.46" y1="478.63" x2="176.06" y2="478.63" stroke="#3a3af4" stroke-width="1.05" opacity="0.9"/>
<line x1="183.60" y1="462.99" x2="183.60" y2="472.19" stroke="#3a3af4" stroke-width="1.05" opacity="0.9"/>
<line x1="181.30" y1="462.99" x2="185.90" y2="462.99" stroke="#3a3af4" stroke-width="1.05" opacity="0.9"/>
<line x1="181.30" y1="472.19" x2="185.90" y2="472.19" stroke="#3a3af4" stroke-width="1.05" opacity="0.9"/>
<line x1="55.64" y1="478.86" x2="55.64" y2="485.76" stroke="#5aa852" stroke-width="1.05" opacity="0.9"/>
<line x1="53.34" y1="478.86" x2="57.94" y2="478.86" stroke="#5aa852" stroke-width="1.05" opacity="0.9"/>
<line x1="53.34" y1="485.76" x2="57.94" y2="485.76" stroke="#5aa852" stroke-width="1.05" opacity="0.9"/>
<line x1="65.49" y1="464.83" x2="65.49" y2="474.03" stroke="#5aa852" stroke-width="1.05" opacity="0.9"/>
<line x1="63.19" y1="464.83" x2="67.79" y2="464.83" stroke="#5aa852" stroke-width="1.05" opacity="0.9"/>
<line x1="63.19" y1="474.03" x2="67.79" y2="474.03" stroke="#5aa852" stroke-width="1.05" opacity="0.9"/>
<line x1="75.33" y1="463.68" x2="75.33" y2="472.88" stroke="#5aa852" stroke-width="1.05" opacity="0.9"/>
<line x1="73.03" y1="463.68" x2="77.63" y2="463.68" stroke="#5aa852" stroke-width="1.05" opacity="0.9"/>
<line x1="73.03" y1="472.88" x2="77.63" y2="472.88" stroke="#5aa852" stroke-width="1.05" opacity="0.9"/>
<line x1="85.17" y1="461.38" x2="85.17" y2="475.18" stroke="#5aa852" stroke-width="1.05" opacity="0.9"/>
<line x1="82.87" y1="461.38" x2="87.47" y2="461.38" stroke="#5aa852" stroke-width="1.05" opacity="0.9"/>
<line x1="82.87" y1="475.18" x2="87.47" y2="475.18" stroke="#5aa852" stroke-width="1.05" opacity="0.9"/>
<line x1="95.01" y1="460.92" x2="95.01" y2="483.92" stroke="#5aa852" stroke-width="1.05" opacity="0.9"/>
<line x1="92.71" y1="460.92" x2="97.31" y2="460.92" stroke="#5aa852" stroke-width="1.05" opacity="0.9"/>
<line x1="92.71" y1="483.92" x2="97.31" y2="483.92" stroke="#5aa852" stroke-width="1.05" opacity="0.9"/>
<line x1="104.86" y1="456.78" x2="104.86" y2="475.18" stroke="#5aa852" stroke-width="1.05" opacity="0.9"/>
<line x1="102.56" y1="456.78" x2="107.16" y2="456.78" stroke="#5aa852" stroke-width="1.05" opacity="0.9"/>
<line x1="102.56" y1="475.18" x2="107.16" y2="475.18" stroke="#5aa852" stroke-width="1.05" opacity="0.9"/>
<line x1="114.70" y1="455.17" x2="114.70" y2="473.57" stroke="#5aa852" stroke-width="1.05" opacity="0.9"/>
<line x1="112.40" y1="455.17" x2="117.00" y2="455.17" stroke="#5aa852" stroke-width="1.05" opacity="0.9"/>
<line x1="112.40" y1="473.57" x2="117.00" y2="473.57" stroke="#5aa852" stroke-width="1.05" opacity="0.9"/>
<line x1="124.54" y1="457.24" x2="124.54" y2="471.04" stroke="#5aa852" stroke-width="1.05" opacity="0.9"/>
<line x1="122.24" y1="457.24" x2="126.84" y2="457.24" stroke="#5aa852" stroke-width="1.05" opacity="0.9"/>
<line x1="122.24" y1="471.04" x2="126.84" y2="471.04" stroke="#5aa852" stroke-width="1.05" opacity="0.9"/>
<line x1="134.39" y1="457.93" x2="134.39" y2="471.73" stroke="#5aa852" stroke-width="1.05" opacity="0.9"/>
<line x1="132.09" y1="457.93" x2="136.69" y2="457.93" stroke="#5aa852" stroke-width="1.05" opacity="0.9"/>
<line x1="132.09" y1="471.73" x2="136.69" y2="471.73" stroke="#5aa852" stroke-width="1.05" opacity="0.9"/>
<line x1="144.23" y1="460.23" x2="144.23" y2="474.03" stroke="#5aa852" stroke-width="1.05" opacity="0.9"/>
<line x1="141.93" y1="460.23" x2="146.53" y2="460.23" stroke="#5aa852" stroke-width="1.05" opacity="0.9"/>
<line x1="141.93" y1="474.03" x2="146.53" y2="474.03" stroke="#5aa852" stroke-width="1.05" opacity="0.9"/>
<line x1="154.07" y1="460.23" x2="154.07" y2="474.03" stroke="#5aa852" stroke-width="1.05" opacity="0.9"/>
<line x1="151.77" y1="460.23" x2="156.37" y2="460.23" stroke="#5aa852" stroke-width="1.05" opacity="0.9"/>
<line x1="151.77" y1="474.03" x2="156.37" y2="474.03" stroke="#5aa852" stroke-width="1.05" opacity="0.9"/>
<line x1="163.91" y1="465.98" x2="163.91" y2="479.78" stroke="#5aa852" stroke-width="1.05" opacity="0.9"/>
<line x1="161.61" y1="465.98" x2="166.21" y2="465.98" stroke="#5aa852" stroke-width="1.05" opacity="0.9"/>
<line x1="161.61" y1="479.78" x2="166.21" y2="479.78" stroke="#5aa852" stroke-width="1.05" opacity="0.9"/>
<line x1="173.76" y1="460.69" x2="173.76" y2="474.49" stroke="#5aa852" stroke-width="1.05" opacity="0.9"/>
<line x1="171.46" y1="460.69" x2="176.06" y2="460.69" stroke="#5aa852" stroke-width="1.05" opacity="0.9"/>
<line x1="171.46" y1="474.49" x2="176.06" y2="474.49" stroke="#5aa852" stroke-width="1.05" opacity="0.9"/>
<line x1="183.60" y1="460.23" x2="183.60" y2="469.43" stroke="#5aa852" stroke-width="1.05" opacity="0.9"/>
<line x1="181.30" y1="460.23" x2="185.90" y2="460.23" stroke="#5aa852" stroke-width="1.05" opacity="0.9"/>
<line x1="181.30" y1="469.43" x2="185.90" y2="469.43" stroke="#5aa852" stroke-width="1.05" opacity="0.9"/>
<line x1="55.64" y1="478.40" x2="55.64" y2="485.30" stroke="#62a840" stroke-width="1.05" opacity="0.9"/>
<line x1="53.34" y1="478.40" x2="57.94" y2="478.40" stroke="#62a840" stroke-width="1.05" opacity="0.9"/>
<line x1="53.34" y1="485.30" x2="57.94" y2="485.30" stroke="#62a840" stroke-width="1.05" opacity="0.9"/>
<line x1="65.49" y1="470.81" x2="65.49" y2="477.71" stroke="#62a840" stroke-width="1.05" opacity="0.9"/>
<line x1="63.19" y1="470.81" x2="67.79" y2="470.81" stroke="#62a840" stroke-width="1.05" opacity="0.9"/>
<line x1="63.19" y1="477.71" x2="67.79" y2="477.71" stroke="#62a840" stroke-width="1.05" opacity="0.9"/>
<line x1="75.33" y1="472.42" x2="75.33" y2="479.32" stroke="#62a840" stroke-width="1.05" opacity="0.9"/>
<line x1="73.03" y1="472.42" x2="77.63" y2="472.42" stroke="#62a840" stroke-width="1.05" opacity="0.9"/>
<line x1="73.03" y1="479.32" x2="77.63" y2="479.32" stroke="#62a840" stroke-width="1.05" opacity="0.9"/>
<line x1="85.17" y1="465.52" x2="85.17" y2="483.92" stroke="#62a840" stroke-width="1.05" opacity="0.9"/>
<line x1="82.87" y1="465.52" x2="87.47" y2="465.52" stroke="#62a840" stroke-width="1.05" opacity="0.9"/>
<line x1="82.87" y1="483.92" x2="87.47" y2="483.92" stroke="#62a840" stroke-width="1.05" opacity="0.9"/>
<line x1="95.01" y1="468.97" x2="95.01" y2="487.37" stroke="#62a840" stroke-width="1.05" opacity="0.9"/>
<line x1="92.71" y1="468.97" x2="97.31" y2="468.97" stroke="#62a840" stroke-width="1.05" opacity="0.9"/>
<line x1="92.71" y1="487.37" x2="97.31" y2="487.37" stroke="#62a840" stroke-width="1.05" opacity="0.9"/>
<line x1="104.86" y1="465.52" x2="104.86" y2="488.52" stroke="#62a840" stroke-width="1.05" opacity="0.9"/>
<line x1="102.56" y1="465.52" x2="107.16" y2="465.52" stroke="#62a840" stroke-width="1.05" opacity="0.9"/>
<line x1="102.56" y1="488.52" x2="107.16" y2="488.52" stroke="#62a840" stroke-width="1.05" opacity="0.9"/>
<line x1="114.70" y1="471.96" x2="114.70" y2="490.36" stroke="#62a840" stroke-width="1.05" opacity="0.9"/>
<line x1="112.40" y1="471.96" x2="117.00" y2="471.96" stroke="#62a840" stroke-width="1.05" opacity="0.9"/>
<line x1="112.40" y1="490.36" x2="117.00" y2="490.36" stroke="#62a840" stroke-width="1.05" opacity="0.9"/>
<line x1="124.54" y1="467.36" x2="124.54" y2="490.36" stroke="#62a840" stroke-width="1.05" opacity="0.9"/>
<line x1="122.24" y1="467.36" x2="126.84" y2="467.36" stroke="#62a840" stroke-width="1.05" opacity="0.9"/>
<line x1="122.24" y1="490.36" x2="126.84" y2="490.36" stroke="#62a840" stroke-width="1.05" opacity="0.9"/>
<line x1="134.39" y1="469.43" x2="134.39" y2="483.23" stroke="#62a840" stroke-width="1.05" opacity="0.9"/>
<line x1="132.09" y1="469.43" x2="136.69" y2="469.43" stroke="#62a840" stroke-width="1.05" opacity="0.9"/>
<line x1="132.09" y1="483.23" x2="136.69" y2="483.23" stroke="#62a840" stroke-width="1.05" opacity="0.9"/>
<line x1="144.23" y1="467.13" x2="144.23" y2="476.33" stroke="#62a840" stroke-width="1.05" opacity="0.9"/>
<line x1="141.93" y1="467.13" x2="146.53" y2="467.13" stroke="#62a840" stroke-width="1.05" opacity="0.9"/>
<line x1="141.93" y1="476.33" x2="146.53" y2="476.33" stroke="#62a840" stroke-width="1.05" opacity="0.9"/>
<line x1="154.07" y1="465.98" x2="154.07" y2="479.78" stroke="#62a840" stroke-width="1.05" opacity="0.9"/>
<line x1="151.77" y1="465.98" x2="156.37" y2="465.98" stroke="#62a840" stroke-width="1.05" opacity="0.9"/>
<line x1="151.77" y1="479.78" x2="156.37" y2="479.78" stroke="#62a840" stroke-width="1.05" opacity="0.9"/>
<line x1="163.91" y1="464.83" x2="163.91" y2="478.63" stroke="#62a840" stroke-width="1.05" opacity="0.9"/>
<line x1="161.61" y1="464.83" x2="166.21" y2="464.83" stroke="#62a840" stroke-width="1.05" opacity="0.9"/>
<line x1="161.61" y1="478.63" x2="166.21" y2="478.63" stroke="#62a840" stroke-width="1.05" opacity="0.9"/>
<line x1="173.76" y1="466.67" x2="173.76" y2="480.47" stroke="#62a840" stroke-width="1.05" opacity="0.9"/>
<line x1="171.46" y1="466.67" x2="176.06" y2="466.67" stroke="#62a840" stroke-width="1.05" opacity="0.9"/>
<line x1="171.46" y1="480.47" x2="176.06" y2="480.47" stroke="#62a840" stroke-width="1.05" opacity="0.9"/>
<line x1="183.60" y1="464.83" x2="183.60" y2="474.03" stroke="#62a840" stroke-width="1.05" opacity="0.9"/>
<line x1="181.30" y1="464.83" x2="185.90" y2="464.83" stroke="#62a840" stroke-width="1.05" opacity="0.9"/>
<line x1="181.30" y1="474.03" x2="185.90" y2="474.03" stroke="#62a840" stroke-width="1.05" opacity="0.9"/>
<polyline points="45.80,478.40 55.64,487.60 65.49,478.86 75.33,485.30 85.17,495.19 95.01,490.59 104.86,483.46 114.70,486.91 124.54,478.17 134.39,480.47 144.23,467.13 154.07,466.44 163.91,472.88 173.76,474.03 183.60,471.27" fill="none" stroke="#2d52a8" stroke-width="1"/>
<rect x="43.35" y="475.95" width="4.90" height="4.90" fill="#80d2f8" stroke="#2b52ae" stroke-width="0.9"/>
<rect x="53.19" y="485.15" width="4.90" height="4.90" fill="#80d2f8" stroke="#2b52ae" stroke-width="0.9"/>
<rect x="63.04" y="476.41" width="4.90" height="4.90" fill="#80d2f8" stroke="#2b52ae" stroke-width="0.9"/>
<rect x="72.88" y="482.85" width="4.90" height="4.90" fill="#80d2f8" stroke="#2b52ae" stroke-width="0.9"/>
<rect x="82.72" y="492.74" width="4.90" height="4.90" fill="#80d2f8" stroke="#2b52ae" stroke-width="0.9"/>
<rect x="92.56" y="488.14" width="4.90" height="4.90" fill="#80d2f8" stroke="#2b52ae" stroke-width="0.9"/>
<rect x="102.41" y="481.01" width="4.90" height="4.90" fill="#80d2f8" stroke="#2b52ae" stroke-width="0.9"/>
<rect x="112.25" y="484.46" width="4.90" height="4.90" fill="#80d2f8" stroke="#2b52ae" stroke-width="0.9"/>
<rect x="122.09" y="475.72" width="4.90" height="4.90" fill="#80d2f8" stroke="#2b52ae" stroke-width="0.9"/>
<rect x="131.94" y="478.02" width="4.90" height="4.90" fill="#80d2f8" stroke="#2b52ae" stroke-width="0.9"/>
<rect x="141.78" y="464.68" width="4.90" height="4.90" fill="#80d2f8" stroke="#2b52ae" stroke-width="0.9"/>
<rect x="151.62" y="463.99" width="4.90" height="4.90" fill="#80d2f8" stroke="#2b52ae" stroke-width="0.9"/>
<rect x="161.46" y="470.43" width="4.90" height="4.90" fill="#80d2f8" stroke="#2b52ae" stroke-width="0.9"/>
<rect x="171.31" y="471.58" width="4.90" height="4.90" fill="#80d2f8" stroke="#2b52ae" stroke-width="0.9"/>
<rect x="181.15" y="468.82" width="4.90" height="4.90" fill="#80d2f8" stroke="#2b52ae" stroke-width="0.9"/>
<polyline points="45.80,478.40 55.64,485.30 65.49,477.71 75.33,477.02 85.17,484.15 95.01,483.46 104.86,473.57 114.70,474.72 124.54,474.72 134.39,475.87 144.23,471.73 154.07,471.73 163.91,472.42 173.76,474.03 183.60,467.59" fill="none" stroke="#2222f6" stroke-width="1"/>
<circle cx="45.80" cy="478.40" r="2.3" fill="#5656f8" stroke="#1818ee" stroke-width="1"/>
<circle cx="55.64" cy="485.30" r="2.3" fill="#5656f8" stroke="#1818ee" stroke-width="1"/>
<circle cx="65.49" cy="477.71" r="2.3" fill="#5656f8" stroke="#1818ee" stroke-width="1"/>
<circle cx="75.33" cy="477.02" r="2.3" fill="#5656f8" stroke="#1818ee" stroke-width="1"/>
<circle cx="85.17" cy="484.15" r="2.3" fill="#5656f8" stroke="#1818ee" stroke-width="1"/>
<circle cx="95.01" cy="483.46" r="2.3" fill="#5656f8" stroke="#1818ee" stroke-width="1"/>
<circle cx="104.86" cy="473.57" r="2.3" fill="#5656f8" stroke="#1818ee" stroke-width="1"/>
<circle cx="114.70" cy="474.72" r="2.3" fill="#5656f8" stroke="#1818ee" stroke-width="1"/>
<circle cx="124.54" cy="474.72" r="2.3" fill="#5656f8" stroke="#1818ee" stroke-width="1"/>
<circle cx="134.39" cy="475.87" r="2.3" fill="#5656f8" stroke="#1818ee" stroke-width="1"/>
<circle cx="144.23" cy="471.73" r="2.3" fill="#5656f8" stroke="#1818ee" stroke-width="1"/>
<circle cx="154.07" cy="471.73" r="2.3" fill="#5656f8" stroke="#1818ee" stroke-width="1"/>
<circle cx="163.91" cy="472.42" r="2.3" fill="#5656f8" stroke="#1818ee" stroke-width="1"/>
<circle cx="173.76" cy="474.03" r="2.3" fill="#5656f8" stroke="#1818ee" stroke-width="1"/>
<circle cx="183.60" cy="467.59" r="2.3" fill="#5656f8" stroke="#1818ee" stroke-width="1"/>
<polyline points="45.80,478.40 55.64,482.31 65.49,469.43 75.33,468.28 85.17,468.28 95.01,472.42 104.86,465.98 114.70,464.37 124.54,464.14 134.39,464.83 144.23,467.13 154.07,467.13 163.91,472.88 173.76,467.59 183.60,464.83" fill="none" stroke="#4c9c4a" stroke-width="1"/>
<rect x="43.35" y="475.95" width="4.90" height="4.90" fill="#cbf46e" stroke="#45954a" stroke-width="0.9"/>
<rect x="53.19" y="479.86" width="4.90" height="4.90" fill="#cbf46e" stroke="#45954a" stroke-width="0.9"/>
<rect x="63.04" y="466.98" width="4.90" height="4.90" fill="#cbf46e" stroke="#45954a" stroke-width="0.9"/>
<rect x="72.88" y="465.83" width="4.90" height="4.90" fill="#cbf46e" stroke="#45954a" stroke-width="0.9"/>
<rect x="82.72" y="465.83" width="4.90" height="4.90" fill="#cbf46e" stroke="#45954a" stroke-width="0.9"/>
<rect x="92.56" y="469.97" width="4.90" height="4.90" fill="#cbf46e" stroke="#45954a" stroke-width="0.9"/>
<rect x="102.41" y="463.53" width="4.90" height="4.90" fill="#cbf46e" stroke="#45954a" stroke-width="0.9"/>
<rect x="112.25" y="461.92" width="4.90" height="4.90" fill="#cbf46e" stroke="#45954a" stroke-width="0.9"/>
<rect x="122.09" y="461.69" width="4.90" height="4.90" fill="#cbf46e" stroke="#45954a" stroke-width="0.9"/>
<rect x="131.94" y="462.38" width="4.90" height="4.90" fill="#cbf46e" stroke="#45954a" stroke-width="0.9"/>
<rect x="141.78" y="464.68" width="4.90" height="4.90" fill="#cbf46e" stroke="#45954a" stroke-width="0.9"/>
<rect x="151.62" y="464.68" width="4.90" height="4.90" fill="#cbf46e" stroke="#45954a" stroke-width="0.9"/>
<rect x="161.46" y="470.43" width="4.90" height="4.90" fill="#cbf46e" stroke="#45954a" stroke-width="0.9"/>
<rect x="171.31" y="465.14" width="4.90" height="4.90" fill="#cbf46e" stroke="#45954a" stroke-width="0.9"/>
<rect x="181.15" y="462.38" width="4.90" height="4.90" fill="#cbf46e" stroke="#45954a" stroke-width="0.9"/>
<polyline points="45.80,478.40 55.64,481.85 65.49,474.26 75.33,475.87 85.17,474.72 95.01,478.17 104.86,477.02 114.70,481.16 124.54,478.86 134.39,476.33 144.23,471.73 154.07,472.88 163.91,471.73 173.76,473.57 183.60,469.43" fill="none" stroke="#529c2e" stroke-width="1"/>
<circle cx="45.80" cy="478.40" r="2.3" fill="#6db446" stroke="#47902a" stroke-width="1"/>
<circle cx="55.64" cy="481.85" r="2.3" fill="#6db446" stroke="#47902a" stroke-width="1"/>
<circle cx="65.49" cy="474.26" r="2.3" fill="#6db446" stroke="#47902a" stroke-width="1"/>
<circle cx="75.33" cy="475.87" r="2.3" fill="#6db446" stroke="#47902a" stroke-width="1"/>
<circle cx="85.17" cy="474.72" r="2.3" fill="#6db446" stroke="#47902a" stroke-width="1"/>
<circle cx="95.01" cy="478.17" r="2.3" fill="#6db446" stroke="#47902a" stroke-width="1"/>
<circle cx="104.86" cy="477.02" r="2.3" fill="#6db446" stroke="#47902a" stroke-width="1"/>
<circle cx="114.70" cy="481.16" r="2.3" fill="#6db446" stroke="#47902a" stroke-width="1"/>
<circle cx="124.54" cy="478.86" r="2.3" fill="#6db446" stroke="#47902a" stroke-width="1"/>
<circle cx="134.39" cy="476.33" r="2.3" fill="#6db446" stroke="#47902a" stroke-width="1"/>
<circle cx="144.23" cy="471.73" r="2.3" fill="#6db446" stroke="#47902a" stroke-width="1"/>
<circle cx="154.07" cy="472.88" r="2.3" fill="#6db446" stroke="#47902a" stroke-width="1"/>
<circle cx="163.91" cy="471.73" r="2.3" fill="#6db446" stroke="#47902a" stroke-width="1"/>
<circle cx="173.76" cy="473.57" r="2.3" fill="#6db446" stroke="#47902a" stroke-width="1"/>
<circle cx="183.60" cy="469.43" r="2.3" fill="#6db446" stroke="#47902a" stroke-width="1"/>
<line x1="45.80" y1="454.70" x2="45.80" y2="551.60" stroke="#000" stroke-width="1.6"/>
<line x1="41.20" y1="547.40" x2="184.30" y2="547.40" stroke="#000" stroke-width="1.6"/>
<line x1="41.20" y1="455.40" x2="45.80" y2="455.40" stroke="#000" stroke-width="1.5"/>
<line x1="41.20" y1="478.40" x2="45.80" y2="478.40" stroke="#000" stroke-width="1.5"/>
<line x1="41.20" y1="501.40" x2="45.80" y2="501.40" stroke="#000" stroke-width="1.5"/>
<line x1="41.20" y1="524.40" x2="45.80" y2="524.40" stroke="#000" stroke-width="1.5"/>
<line x1="55.64" y1="547.40" x2="55.64" y2="551.60" stroke="#000" stroke-width="1.5"/>
<line x1="65.49" y1="547.40" x2="65.49" y2="551.60" stroke="#000" stroke-width="1.5"/>
<line x1="75.33" y1="547.40" x2="75.33" y2="551.60" stroke="#000" stroke-width="1.5"/>
<line x1="85.17" y1="547.40" x2="85.17" y2="551.60" stroke="#000" stroke-width="1.5"/>
<line x1="95.01" y1="547.40" x2="95.01" y2="551.60" stroke="#000" stroke-width="1.5"/>
<line x1="104.86" y1="547.40" x2="104.86" y2="551.60" stroke="#000" stroke-width="1.5"/>
<line x1="114.70" y1="547.40" x2="114.70" y2="551.60" stroke="#000" stroke-width="1.5"/>
<line x1="124.54" y1="547.40" x2="124.54" y2="551.60" stroke="#000" stroke-width="1.5"/>
<line x1="134.39" y1="547.40" x2="134.39" y2="551.60" stroke="#000" stroke-width="1.5"/>
<line x1="144.23" y1="547.40" x2="144.23" y2="551.60" stroke="#000" stroke-width="1.5"/>
<line x1="154.07" y1="547.40" x2="154.07" y2="551.60" stroke="#000" stroke-width="1.5"/>
<line x1="163.91" y1="547.40" x2="163.91" y2="551.60" stroke="#000" stroke-width="1.5"/>
<line x1="173.76" y1="547.40" x2="173.76" y2="551.60" stroke="#000" stroke-width="1.5"/>
<line x1="183.60" y1="547.40" x2="183.60" y2="551.60" stroke="#000" stroke-width="1.5"/>
<text transform="translate(38.40 458.30) scale(1 1.1)" x="0" y="0" font-size="8" font-weight="bold" text-anchor="end" fill="#000" >110</text>
<text transform="translate(38.40 481.30) scale(1 1.1)" x="0" y="0" font-size="8" font-weight="bold" text-anchor="end" fill="#000" >100</text>
<text transform="translate(38.40 504.30) scale(1 1.1)" x="0" y="0" font-size="8" font-weight="bold" text-anchor="end" fill="#000" >90</text>
<text transform="translate(38.40 527.30) scale(1 1.1)" x="0" y="0" font-size="8" font-weight="bold" text-anchor="end" fill="#000" >80</text>
<text transform="translate(38.40 550.30) scale(1 1.1)" x="0" y="0" font-size="8" font-weight="bold" text-anchor="end" fill="#000" >70</text>
<text x="0" y="0" font-size="8" font-weight="bold" text-anchor="end" transform="translate(47.80 559.70) rotate(-45) scale(1 1.1)">0</text>
<text x="0" y="0" font-size="8" font-weight="bold" text-anchor="end" transform="translate(57.64 559.70) rotate(-45) scale(1 1.1)">1</text>
<text x="0" y="0" font-size="8" font-weight="bold" text-anchor="end" transform="translate(67.49 559.70) rotate(-45) scale(1 1.1)">2</text>
<text x="0" y="0" font-size="8" font-weight="bold" text-anchor="end" transform="translate(77.33 559.70) rotate(-45) scale(1 1.1)">3</text>
<text x="0" y="0" font-size="8" font-weight="bold" text-anchor="end" transform="translate(87.17 559.70) rotate(-45) scale(1 1.1)">4</text>
<text x="0" y="0" font-size="8" font-weight="bold" text-anchor="end" transform="translate(97.01 559.70) rotate(-45) scale(1 1.1)">5</text>
<text x="0" y="0" font-size="8" font-weight="bold" text-anchor="end" transform="translate(106.86 559.70) rotate(-45) scale(1 1.1)">6</text>
<text x="0" y="0" font-size="8" font-weight="bold" text-anchor="end" transform="translate(116.70 559.70) rotate(-45) scale(1 1.1)">7</text>
<text x="0" y="0" font-size="8" font-weight="bold" text-anchor="end" transform="translate(126.54 559.70) rotate(-45) scale(1 1.1)">8</text>
<text x="0" y="0" font-size="8" font-weight="bold" text-anchor="end" transform="translate(136.39 559.70) rotate(-45) scale(1 1.1)">9</text>
<text x="0" y="0" font-size="8" font-weight="bold" text-anchor="end" transform="translate(146.23 559.70) rotate(-45) scale(1 1.1)">10</text>
<text x="0" y="0" font-size="8" font-weight="bold" text-anchor="end" transform="translate(156.07 559.70) rotate(-45) scale(1 1.1)">11</text>
<text x="0" y="0" font-size="8" font-weight="bold" text-anchor="end" transform="translate(165.91 559.70) rotate(-45) scale(1 1.1)">12</text>
<text x="0" y="0" font-size="8" font-weight="bold" text-anchor="end" transform="translate(175.76 559.70) rotate(-45) scale(1 1.1)">13</text>
<text x="0" y="0" font-size="8" font-weight="bold" text-anchor="end" transform="translate(185.60 559.70) rotate(-45) scale(1 1.1)">14</text>
<text transform="translate(114.70 581.50) scale(1 1.1)" x="0" y="0" font-size="9" font-weight="bold" text-anchor="middle" fill="#000" >Days post infection</text>
<text transform="translate(7.6 379) rotate(-90) scale(1 1.1)" font-size="9" font-weight="bold" text-anchor="middle">Weight loss</text>
<text transform="translate(18.9 379) rotate(-90) scale(1 1.1)" font-size="9" font-weight="bold" text-anchor="middle">(% of starting weight)</text>
<text transform="translate(461.20 198.00) scale(1 1.1)" x="0" y="0" font-size="9" font-weight="bold" text-anchor="middle" fill="#000" >1A1</text>
<polyline points="392.40,221.20 461.20,221.20 461.20,252.00 480.86,252.00 480.86,298.20" fill="none" stroke="#3a3a3a" stroke-width="1.05"/>
<polyline points="392.40,221.20 451.37,221.20 451.37,236.60 461.20,236.60 461.20,282.80 530.00,282.80" fill="none" stroke="#3a3a3a" stroke-width="1.05"/>
<polyline points="392.40,221.20 461.20,221.20 461.20,267.40 530.00,267.40" fill="none" stroke="#3a3a3a" stroke-width="1.05"/>
<polyline points="392.40,220.20 530.00,220.20" fill="none" stroke="#cdef84" stroke-width="1.05"/>
<polyline points="392.40,221.20 530.00,221.20" fill="none" stroke="#6a9c4c" stroke-width="1.05"/>
<polyline points="392.40,216.89 530.00,216.89" fill="none" stroke="#8ed2f2" stroke-width="1.05"/>
<polyline points="392.40,218.43 530.00,218.43" fill="none" stroke="#3434ee" stroke-width="1.05"/>
<line x1="392.40" y1="205.10" x2="392.40" y2="302.40" stroke="#000" stroke-width="1.6"/>
<line x1="387.80" y1="298.20" x2="530.70" y2="298.20" stroke="#000" stroke-width="1.6"/>
<line x1="387.80" y1="205.80" x2="392.40" y2="205.80" stroke="#000" stroke-width="1.5"/>
<line x1="387.80" y1="221.20" x2="392.40" y2="221.20" stroke="#000" stroke-width="1.5"/>
<line x1="387.80" y1="236.60" x2="392.40" y2="236.60" stroke="#000" stroke-width="1.5"/>
<line x1="387.80" y1="252.00" x2="392.40" y2="252.00" stroke="#000" stroke-width="1.5"/>
<line x1="387.80" y1="267.40" x2="392.40" y2="267.40" stroke="#000" stroke-width="1.5"/>
<line x1="387.80" y1="282.80" x2="392.40" y2="282.80" stroke="#000" stroke-width="1.5"/>
<line x1="402.23" y1="298.20" x2="402.23" y2="302.40" stroke="#000" stroke-width="1.5"/>
<line x1="412.06" y1="298.20" x2="412.06" y2="302.40" stroke="#000" stroke-width="1.5"/>
<line x1="421.89" y1="298.20" x2="421.89" y2="302.40" stroke="#000" stroke-width="1.5"/>
<line x1="431.71" y1="298.20" x2="431.71" y2="302.40" stroke="#000" stroke-width="1.5"/>
<line x1="441.54" y1="298.20" x2="441.54" y2="302.40" stroke="#000" stroke-width="1.5"/>
<line x1="451.37" y1="298.20" x2="451.37" y2="302.40" stroke="#000" stroke-width="1.5"/>
<line x1="461.20" y1="298.20" x2="461.20" y2="302.40" stroke="#000" stroke-width="1.5"/>
<line x1="471.03" y1="298.20" x2="471.03" y2="302.40" stroke="#000" stroke-width="1.5"/>
<line x1="480.86" y1="298.20" x2="480.86" y2="302.40" stroke="#000" stroke-width="1.5"/>
<line x1="490.69" y1="298.20" x2="490.69" y2="302.40" stroke="#000" stroke-width="1.5"/>
<line x1="500.51" y1="298.20" x2="500.51" y2="302.40" stroke="#000" stroke-width="1.5"/>
<line x1="510.34" y1="298.20" x2="510.34" y2="302.40" stroke="#000" stroke-width="1.5"/>
<line x1="520.17" y1="298.20" x2="520.17" y2="302.40" stroke="#000" stroke-width="1.5"/>
<line x1="530.00" y1="298.20" x2="530.00" y2="302.40" stroke="#000" stroke-width="1.5"/>
<text transform="translate(385.00 208.70) scale(1 1.1)" x="0" y="0" font-size="8" font-weight="bold" text-anchor="end" fill="#000" >120</text>
<text transform="translate(385.00 224.10) scale(1 1.1)" x="0" y="0" font-size="8" font-weight="bold" text-anchor="end" fill="#000" >100</text>
<text transform="translate(385.00 239.50) scale(1 1.1)" x="0" y="0" font-size="8" font-weight="bold" text-anchor="end" fill="#000" >80</text>
<text transform="translate(385.00 254.90) scale(1 1.1)" x="0" y="0" font-size="8" font-weight="bold" text-anchor="end" fill="#000" >60</text>
<text transform="translate(385.00 270.30) scale(1 1.1)" x="0" y="0" font-size="8" font-weight="bold" text-anchor="end" fill="#000" >40</text>
<text transform="translate(385.00 285.70) scale(1 1.1)" x="0" y="0" font-size="8" font-weight="bold" text-anchor="end" fill="#000" >20</text>
<text transform="translate(385.00 301.10) scale(1 1.1)" x="0" y="0" font-size="8" font-weight="bold" text-anchor="end" fill="#000" >0</text>
<text transform="translate(614.55 198.80) scale(1 1.1)" x="0" y="0" font-size="9" font-weight="bold" text-anchor="middle" fill="#000" >7H10</text>
<polyline points="545.20,222.97 604.64,222.97 604.64,238.23 614.55,238.23 614.55,253.50 634.36,253.50 634.36,299.30" fill="none" stroke="#3a3a3a" stroke-width="1.05"/>
<polyline points="545.20,222.97 614.55,222.97 614.55,253.50 664.09,253.50" fill="none" stroke="#8ed2f2" stroke-width="1.05"/>
<polyline points="545.20,222.97 584.83,222.97 584.83,238.23 594.74,238.23 594.74,253.50 614.55,253.50 614.55,284.03 683.90,284.03" fill="none" stroke="#cdef84" stroke-width="1.05"/>
<polyline points="545.20,222.97 584.83,222.97 584.83,253.50 614.55,253.50 614.55,268.77 683.90,268.77" fill="none" stroke="#6a9c4c" stroke-width="1.05"/>
<polyline points="584.83,222.97 594.74,222.97 594.74,238.23 614.55,238.23 614.55,253.50 664.09,253.50 664.09,268.77" fill="none" stroke="#3434ee" stroke-width="1.05"/>
<line x1="545.20" y1="207.00" x2="545.20" y2="303.50" stroke="#000" stroke-width="1.6"/>
<line x1="540.60" y1="299.30" x2="684.60" y2="299.30" stroke="#000" stroke-width="1.6"/>
<line x1="540.60" y1="207.70" x2="545.20" y2="207.70" stroke="#000" stroke-width="1.5"/>
<line x1="540.60" y1="222.97" x2="545.20" y2="222.97" stroke="#000" stroke-width="1.5"/>
<line x1="540.60" y1="238.23" x2="545.20" y2="238.23" stroke="#000" stroke-width="1.5"/>
<line x1="540.60" y1="253.50" x2="545.20" y2="253.50" stroke="#000" stroke-width="1.5"/>
<line x1="540.60" y1="268.77" x2="545.20" y2="268.77" stroke="#000" stroke-width="1.5"/>
<line x1="540.60" y1="284.03" x2="545.20" y2="284.03" stroke="#000" stroke-width="1.5"/>
<line x1="555.11" y1="299.30" x2="555.11" y2="303.50" stroke="#000" stroke-width="1.5"/>
<line x1="565.01" y1="299.30" x2="565.01" y2="303.50" stroke="#000" stroke-width="1.5"/>
<line x1="574.92" y1="299.30" x2="574.92" y2="303.50" stroke="#000" stroke-width="1.5"/>
<line x1="584.83" y1="299.30" x2="584.83" y2="303.50" stroke="#000" stroke-width="1.5"/>
<line x1="594.74" y1="299.30" x2="594.74" y2="303.50" stroke="#000" stroke-width="1.5"/>
<line x1="604.64" y1="299.30" x2="604.64" y2="303.50" stroke="#000" stroke-width="1.5"/>
<line x1="614.55" y1="299.30" x2="614.55" y2="303.50" stroke="#000" stroke-width="1.5"/>
<line x1="624.46" y1="299.30" x2="624.46" y2="303.50" stroke="#000" stroke-width="1.5"/>
<line x1="634.36" y1="299.30" x2="634.36" y2="303.50" stroke="#000" stroke-width="1.5"/>
<line x1="644.27" y1="299.30" x2="644.27" y2="303.50" stroke="#000" stroke-width="1.5"/>
<line x1="654.18" y1="299.30" x2="654.18" y2="303.50" stroke="#000" stroke-width="1.5"/>
<line x1="664.09" y1="299.30" x2="664.09" y2="303.50" stroke="#000" stroke-width="1.5"/>
<line x1="673.99" y1="299.30" x2="673.99" y2="303.50" stroke="#000" stroke-width="1.5"/>
<line x1="683.90" y1="299.30" x2="683.90" y2="303.50" stroke="#000" stroke-width="1.5"/>
<text transform="translate(461.20 322.50) scale(1 1.1)" x="0" y="0" font-size="9" font-weight="bold" text-anchor="middle" fill="#000" >20D10</text>
<polyline points="392.40,346.48 461.20,346.48 461.20,377.05 480.86,377.05 480.86,422.90" fill="none" stroke="#3a3a3a" stroke-width="1.05"/>
<polyline points="392.40,346.48 451.37,346.48 451.37,361.77 461.20,361.77 461.20,407.62 530.00,407.62" fill="none" stroke="#3a3a3a" stroke-width="1.05"/>
<polyline points="392.40,346.48 461.20,346.48 461.20,392.33 530.00,392.33" fill="none" stroke="#3a3a3a" stroke-width="1.05"/>
<polyline points="392.40,345.49 530.00,345.49" fill="none" stroke="#cdef84" stroke-width="1.05"/>
<polyline points="392.40,346.48 530.00,346.48" fill="none" stroke="#6a9c4c" stroke-width="1.05"/>
<polyline points="392.40,343.43 530.00,343.43" fill="none" stroke="#3434ee" stroke-width="1.05"/>
<polyline points="392.40,341.59 461.20,341.59 461.20,372.46 471.03,372.46 471.03,387.75 530.00,387.75" fill="none" stroke="#8ed2f2" stroke-width="1.05"/>
<line x1="392.40" y1="330.50" x2="392.40" y2="427.10" stroke="#000" stroke-width="1.6"/>
<line x1="387.80" y1="422.90" x2="530.70" y2="422.90" stroke="#000" stroke-width="1.6"/>
<line x1="387.80" y1="331.20" x2="392.40" y2="331.20" stroke="#000" stroke-width="1.5"/>
<line x1="387.80" y1="346.48" x2="392.40" y2="346.48" stroke="#000" stroke-width="1.5"/>
<line x1="387.80" y1="361.77" x2="392.40" y2="361.77" stroke="#000" stroke-width="1.5"/>
<line x1="387.80" y1="377.05" x2="392.40" y2="377.05" stroke="#000" stroke-width="1.5"/>
<line x1="387.80" y1="392.33" x2="392.40" y2="392.33" stroke="#000" stroke-width="1.5"/>
<line x1="387.80" y1="407.62" x2="392.40" y2="407.62" stroke="#000" stroke-width="1.5"/>
<line x1="402.23" y1="422.90" x2="402.23" y2="427.10" stroke="#000" stroke-width="1.5"/>
<line x1="412.06" y1="422.90" x2="412.06" y2="427.10" stroke="#000" stroke-width="1.5"/>
<line x1="421.89" y1="422.90" x2="421.89" y2="427.10" stroke="#000" stroke-width="1.5"/>
<line x1="431.71" y1="422.90" x2="431.71" y2="427.10" stroke="#000" stroke-width="1.5"/>
<line x1="441.54" y1="422.90" x2="441.54" y2="427.10" stroke="#000" stroke-width="1.5"/>
<line x1="451.37" y1="422.90" x2="451.37" y2="427.10" stroke="#000" stroke-width="1.5"/>
<line x1="461.20" y1="422.90" x2="461.20" y2="427.10" stroke="#000" stroke-width="1.5"/>
<line x1="471.03" y1="422.90" x2="471.03" y2="427.10" stroke="#000" stroke-width="1.5"/>
<line x1="480.86" y1="422.90" x2="480.86" y2="427.10" stroke="#000" stroke-width="1.5"/>
<line x1="490.69" y1="422.90" x2="490.69" y2="427.10" stroke="#000" stroke-width="1.5"/>
<line x1="500.51" y1="422.90" x2="500.51" y2="427.10" stroke="#000" stroke-width="1.5"/>
<line x1="510.34" y1="422.90" x2="510.34" y2="427.10" stroke="#000" stroke-width="1.5"/>
<line x1="520.17" y1="422.90" x2="520.17" y2="427.10" stroke="#000" stroke-width="1.5"/>
<line x1="530.00" y1="422.90" x2="530.00" y2="427.10" stroke="#000" stroke-width="1.5"/>
<text transform="translate(385.00 334.10) scale(1 1.1)" x="0" y="0" font-size="8" font-weight="bold" text-anchor="end" fill="#000" >120</text>
<text transform="translate(385.00 349.38) scale(1 1.1)" x="0" y="0" font-size="8" font-weight="bold" text-anchor="end" fill="#000" >100</text>
<text transform="translate(385.00 364.67) scale(1 1.1)" x="0" y="0" font-size="8" font-weight="bold" text-anchor="end" fill="#000" >80</text>
<text transform="translate(385.00 379.95) scale(1 1.1)" x="0" y="0" font-size="8" font-weight="bold" text-anchor="end" fill="#000" >60</text>
<text transform="translate(385.00 395.23) scale(1 1.1)" x="0" y="0" font-size="8" font-weight="bold" text-anchor="end" fill="#000" >40</text>
<text transform="translate(385.00 410.52) scale(1 1.1)" x="0" y="0" font-size="8" font-weight="bold" text-anchor="end" fill="#000" >20</text>
<text transform="translate(385.00 425.80) scale(1 1.1)" x="0" y="0" font-size="8" font-weight="bold" text-anchor="end" fill="#000" >0</text>
<text transform="translate(613.30 322.00) scale(1 1.1)" x="0" y="0" font-size="9" font-weight="bold" text-anchor="middle" fill="#000" >12G1</text>
<polyline points="544.60,346.75 613.30,346.75 613.30,377.25 632.93,377.25 632.93,423.00" fill="none" stroke="#3a3a3a" stroke-width="1.05"/>
<polyline points="544.60,346.75 603.49,346.75 603.49,362.00 613.30,362.00 613.30,407.75 682.00,407.75" fill="none" stroke="#3a3a3a" stroke-width="1.05"/>
<polyline points="544.60,346.75 613.30,346.75 613.30,392.50 682.00,392.50" fill="none" stroke="#3a3a3a" stroke-width="1.05"/>
<polyline points="544.60,346.75 682.00,346.75" fill="none" stroke="#6a9c4c" stroke-width="1.05"/>
<polyline points="544.60,345.84 682.00,345.84" fill="none" stroke="#cdef84" stroke-width="1.05"/>
<polyline points="544.60,344.08 682.00,344.08" fill="none" stroke="#3434ee" stroke-width="1.05"/>
<polyline points="544.60,342.78 632.93,342.78 632.93,372.68 682.00,372.68" fill="none" stroke="#8ed2f2" stroke-width="1.05"/>
<line x1="544.60" y1="330.80" x2="544.60" y2="427.20" stroke="#000" stroke-width="1.6"/>
<line x1="540.00" y1="423.00" x2="682.70" y2="423.00" stroke="#000" stroke-width="1.6"/>
<line x1="540.00" y1="331.50" x2="544.60" y2="331.50" stroke="#000" stroke-width="1.5"/>
<line x1="540.00" y1="346.75" x2="544.60" y2="346.75" stroke="#000" stroke-width="1.5"/>
<line x1="540.00" y1="362.00" x2="544.60" y2="362.00" stroke="#000" stroke-width="1.5"/>
<line x1="540.00" y1="377.25" x2="544.60" y2="377.25" stroke="#000" stroke-width="1.5"/>
<line x1="540.00" y1="392.50" x2="544.60" y2="392.50" stroke="#000" stroke-width="1.5"/>
<line x1="540.00" y1="407.75" x2="544.60" y2="407.75" stroke="#000" stroke-width="1.5"/>
<line x1="554.41" y1="423.00" x2="554.41" y2="427.20" stroke="#000" stroke-width="1.5"/>
<line x1="564.23" y1="423.00" x2="564.23" y2="427.20" stroke="#000" stroke-width="1.5"/>
<line x1="574.04" y1="423.00" x2="574.04" y2="427.20" stroke="#000" stroke-width="1.5"/>
<line x1="583.86" y1="423.00" x2="583.86" y2="427.20" stroke="#000" stroke-width="1.5"/>
<line x1="593.67" y1="423.00" x2="593.67" y2="427.20" stroke="#000" stroke-width="1.5"/>
<line x1="603.49" y1="423.00" x2="603.49" y2="427.20" stroke="#000" stroke-width="1.5"/>
<line x1="613.30" y1="423.00" x2="613.30" y2="427.20" stroke="#000" stroke-width="1.5"/>
<line x1="623.11" y1="423.00" x2="623.11" y2="427.20" stroke="#000" stroke-width="1.5"/>
<line x1="632.93" y1="423.00" x2="632.93" y2="427.20" stroke="#000" stroke-width="1.5"/>
<line x1="642.74" y1="423.00" x2="642.74" y2="427.20" stroke="#000" stroke-width="1.5"/>
<line x1="652.56" y1="423.00" x2="652.56" y2="427.20" stroke="#000" stroke-width="1.5"/>
<line x1="662.37" y1="423.00" x2="662.37" y2="427.20" stroke="#000" stroke-width="1.5"/>
<line x1="672.19" y1="423.00" x2="672.19" y2="427.20" stroke="#000" stroke-width="1.5"/>
<line x1="682.00" y1="423.00" x2="682.00" y2="427.20" stroke="#000" stroke-width="1.5"/>
<text x="0" y="0" font-size="8" font-weight="bold" text-anchor="end" transform="translate(546.60 435.30) rotate(-45) scale(1 1.1)">0</text>
<text x="0" y="0" font-size="8" font-weight="bold" text-anchor="end" transform="translate(556.41 435.30) rotate(-45) scale(1 1.1)">1</text>
<text x="0" y="0" font-size="8" font-weight="bold" text-anchor="end" transform="translate(566.23 435.30) rotate(-45) scale(1 1.1)">2</text>
<text x="0" y="0" font-size="8" font-weight="bold" text-anchor="end" transform="translate(576.04 435.30) rotate(-45) scale(1 1.1)">3</text>
<text x="0" y="0" font-size="8" font-weight="bold" text-anchor="end" transform="translate(585.86 435.30) rotate(-45) scale(1 1.1)">4</text>
<text x="0" y="0" font-size="8" font-weight="bold" text-anchor="end" transform="translate(595.67 435.30) rotate(-45) scale(1 1.1)">5</text>
<text x="0" y="0" font-size="8" font-weight="bold" text-anchor="end" transform="translate(605.49 435.30) rotate(-45) scale(1 1.1)">6</text>
<text x="0" y="0" font-size="8" font-weight="bold" text-anchor="end" transform="translate(615.30 435.30) rotate(-45) scale(1 1.1)">7</text>
<text x="0" y="0" font-size="8" font-weight="bold" text-anchor="end" transform="translate(625.11 435.30) rotate(-45) scale(1 1.1)">8</text>
<text x="0" y="0" font-size="8" font-weight="bold" text-anchor="end" transform="translate(634.93 435.30) rotate(-45) scale(1 1.1)">9</text>
<text x="0" y="0" font-size="8" font-weight="bold" text-anchor="end" transform="translate(644.74 435.30) rotate(-45) scale(1 1.1)">10</text>
<text x="0" y="0" font-size="8" font-weight="bold" text-anchor="end" transform="translate(654.56 435.30) rotate(-45) scale(1 1.1)">11</text>
<text x="0" y="0" font-size="8" font-weight="bold" text-anchor="end" transform="translate(664.37 435.30) rotate(-45) scale(1 1.1)">12</text>
<text x="0" y="0" font-size="8" font-weight="bold" text-anchor="end" transform="translate(674.19 435.30) rotate(-45) scale(1 1.1)">13</text>
<text x="0" y="0" font-size="8" font-weight="bold" text-anchor="end" transform="translate(684.00 435.30) rotate(-45) scale(1 1.1)">14</text>
<text transform="translate(612.70 456.80) scale(1 1.1)" x="0" y="0" font-size="9" font-weight="bold" text-anchor="middle" fill="#000" >Days post infection</text>
<text transform="translate(460.80 447.00) scale(1 1.1)" x="0" y="0" font-size="9" font-weight="bold" text-anchor="middle" fill="#000" >6G1</text>
<polyline points="391.80,470.10 460.80,470.10 460.80,500.70 480.51,500.70 480.51,546.60" fill="none" stroke="#3a3a3a" stroke-width="1.05"/>
<polyline points="391.80,470.10 450.94,470.10 450.94,485.40 460.80,485.40 460.80,531.30 529.80,531.30" fill="none" stroke="#3a3a3a" stroke-width="1.05"/>
<polyline points="391.80,470.10 460.80,470.10 460.80,516.00 529.80,516.00" fill="none" stroke="#3a3a3a" stroke-width="1.05"/>
<polyline points="391.80,470.10 529.80,470.10" fill="none" stroke="#6a9c4c" stroke-width="1.05"/>
<polyline points="391.80,469.18 529.80,469.18" fill="none" stroke="#cdef84" stroke-width="1.05"/>
<polyline points="391.80,465.82 529.80,465.82" fill="none" stroke="#8ed2f2" stroke-width="1.05"/>
<polyline points="391.80,467.04 529.80,467.04" fill="none" stroke="#3434ee" stroke-width="1.05"/>
<line x1="391.80" y1="454.10" x2="391.80" y2="550.80" stroke="#000" stroke-width="1.6"/>
<line x1="387.20" y1="546.60" x2="530.50" y2="546.60" stroke="#000" stroke-width="1.6"/>
<line x1="387.20" y1="454.80" x2="391.80" y2="454.80" stroke="#000" stroke-width="1.5"/>
<line x1="387.20" y1="470.10" x2="391.80" y2="470.10" stroke="#000" stroke-width="1.5"/>
<line x1="387.20" y1="485.40" x2="391.80" y2="485.40" stroke="#000" stroke-width="1.5"/>
<line x1="387.20" y1="500.70" x2="391.80" y2="500.70" stroke="#000" stroke-width="1.5"/>
<line x1="387.20" y1="516.00" x2="391.80" y2="516.00" stroke="#000" stroke-width="1.5"/>
<line x1="387.20" y1="531.30" x2="391.80" y2="531.30" stroke="#000" stroke-width="1.5"/>
<line x1="401.66" y1="546.60" x2="401.66" y2="550.80" stroke="#000" stroke-width="1.5"/>
<line x1="411.51" y1="546.60" x2="411.51" y2="550.80" stroke="#000" stroke-width="1.5"/>
<line x1="421.37" y1="546.60" x2="421.37" y2="550.80" stroke="#000" stroke-width="1.5"/>
<line x1="431.23" y1="546.60" x2="431.23" y2="550.80" stroke="#000" stroke-width="1.5"/>
<line x1="441.09" y1="546.60" x2="441.09" y2="550.80" stroke="#000" stroke-width="1.5"/>
<line x1="450.94" y1="546.60" x2="450.94" y2="550.80" stroke="#000" stroke-width="1.5"/>
<line x1="460.80" y1="546.60" x2="460.80" y2="550.80" stroke="#000" stroke-width="1.5"/>
<line x1="470.66" y1="546.60" x2="470.66" y2="550.80" stroke="#000" stroke-width="1.5"/>
<line x1="480.51" y1="546.60" x2="480.51" y2="550.80" stroke="#000" stroke-width="1.5"/>
<line x1="490.37" y1="546.60" x2="490.37" y2="550.80" stroke="#000" stroke-width="1.5"/>
<line x1="500.23" y1="546.60" x2="500.23" y2="550.80" stroke="#000" stroke-width="1.5"/>
<line x1="510.09" y1="546.60" x2="510.09" y2="550.80" stroke="#000" stroke-width="1.5"/>
<line x1="519.94" y1="546.60" x2="519.94" y2="550.80" stroke="#000" stroke-width="1.5"/>
<line x1="529.80" y1="546.60" x2="529.80" y2="550.80" stroke="#000" stroke-width="1.5"/>
<text transform="translate(384.40 457.70) scale(1 1.1)" x="0" y="0" font-size="8" font-weight="bold" text-anchor="end" fill="#000" >120</text>
<text transform="translate(384.40 473.00) scale(1 1.1)" x="0" y="0" font-size="8" font-weight="bold" text-anchor="end" fill="#000" >100</text>
<text transform="translate(384.40 488.30) scale(1 1.1)" x="0" y="0" font-size="8" font-weight="bold" text-anchor="end" fill="#000" >80</text>
<text transform="translate(384.40 503.60) scale(1 1.1)" x="0" y="0" font-size="8" font-weight="bold" text-anchor="end" fill="#000" >60</text>
<text transform="translate(384.40 518.90) scale(1 1.1)" x="0" y="0" font-size="8" font-weight="bold" text-anchor="end" fill="#000" >40</text>
<text transform="translate(384.40 534.20) scale(1 1.1)" x="0" y="0" font-size="8" font-weight="bold" text-anchor="end" fill="#000" >20</text>
<text transform="translate(384.40 549.50) scale(1 1.1)" x="0" y="0" font-size="8" font-weight="bold" text-anchor="end" fill="#000" >0</text>
<text x="0" y="0" font-size="8" font-weight="bold" text-anchor="end" transform="translate(393.80 558.90) rotate(-45) scale(1 1.1)">0</text>
<text x="0" y="0" font-size="8" font-weight="bold" text-anchor="end" transform="translate(403.66 558.90) rotate(-45) scale(1 1.1)">1</text>
<text x="0" y="0" font-size="8" font-weight="bold" text-anchor="end" transform="translate(413.51 558.90) rotate(-45) scale(1 1.1)">2</text>
<text x="0" y="0" font-size="8" font-weight="bold" text-anchor="end" transform="translate(423.37 558.90) rotate(-45) scale(1 1.1)">3</text>
<text x="0" y="0" font-size="8" font-weight="bold" text-anchor="end" transform="translate(433.23 558.90) rotate(-45) scale(1 1.1)">4</text>
<text x="0" y="0" font-size="8" font-weight="bold" text-anchor="end" transform="translate(443.09 558.90) rotate(-45) scale(1 1.1)">5</text>
<text x="0" y="0" font-size="8" font-weight="bold" text-anchor="end" transform="translate(452.94 558.90) rotate(-45) scale(1 1.1)">6</text>
<text x="0" y="0" font-size="8" font-weight="bold" text-anchor="end" transform="translate(462.80 558.90) rotate(-45) scale(1 1.1)">7</text>
<text x="0" y="0" font-size="8" font-weight="bold" text-anchor="end" transform="translate(472.66 558.90) rotate(-45) scale(1 1.1)">8</text>
<text x="0" y="0" font-size="8" font-weight="bold" text-anchor="end" transform="translate(482.51 558.90) rotate(-45) scale(1 1.1)">9</text>
<text x="0" y="0" font-size="8" font-weight="bold" text-anchor="end" transform="translate(492.37 558.90) rotate(-45) scale(1 1.1)">10</text>
<text x="0" y="0" font-size="8" font-weight="bold" text-anchor="end" transform="translate(502.23 558.90) rotate(-45) scale(1 1.1)">11</text>
<text x="0" y="0" font-size="8" font-weight="bold" text-anchor="end" transform="translate(512.09 558.90) rotate(-45) scale(1 1.1)">12</text>
<text x="0" y="0" font-size="8" font-weight="bold" text-anchor="end" transform="translate(521.94 558.90) rotate(-45) scale(1 1.1)">13</text>
<text x="0" y="0" font-size="8" font-weight="bold" text-anchor="end" transform="translate(531.80 558.90) rotate(-45) scale(1 1.1)">14</text>
<text transform="translate(460.30 579.80) scale(1 1.1)" x="0" y="0" font-size="9" font-weight="bold" text-anchor="middle" fill="#000" >Days post infection</text>
<text transform="translate(365.0 378) rotate(-90) scale(1 1.1)" font-size="9" font-weight="bold" text-anchor="middle">Probability of Survival</text>
<g transform="translate(46.30 36.50) rotate(-56.07)" stroke="#5b86d6" fill="none" stroke-width="0.7"><line x1="0" y1="0" x2="9.94" y2="0"/><path d="M9.94,0 L11.14,-2.10 L26.51,-2.10 L26.51,2.10 L11.14,2.10 Z" fill="#fff"/><rect x="11.74" y="-1.40" width="6.92" height="2.80" fill="#a9d6ee" stroke="none"/><line x1="18.83" y1="-2.10" x2="18.83" y2="-1.00"/><line x1="20.37" y1="-2.10" x2="20.37" y2="-1.00"/><line x1="21.90" y1="-2.10" x2="21.90" y2="-1.00"/><line x1="23.44" y1="-2.10" x2="23.44" y2="-1.00"/><line x1="24.98" y1="-2.10" x2="24.98" y2="-1.00"/><line x1="26.51" y1="-3.30" x2="26.51" y2="3.30" stroke-width="0.9"/><line x1="26.51" y1="0" x2="32.54" y2="0" stroke-width="1.1"/><line x1="32.54" y1="-2.6" x2="32.54" y2="2.6" stroke-width="1.2"/></g><g transform="translate(67.40 37.80) rotate(-56.21)" stroke="#5b86d6" fill="none" stroke-width="0.7"><line x1="0" y1="0" x2="9.93" y2="0"/><path d="M9.93,0 L11.13,-2.10 L26.47,-2.10 L26.47,2.10 L11.13,2.10 Z" fill="#fff"/><rect x="11.73" y="-1.40" width="6.90" height="2.80" fill="#a9d6ee" stroke="none"/><line x1="18.80" y1="-2.10" x2="18.80" y2="-1.00"/><line x1="20.33" y1="-2.10" x2="20.33" y2="-1.00"/><line x1="21.87" y1="-2.10" x2="21.87" y2="-1.00"/><line x1="23.40" y1="-2.10" x2="23.40" y2="-1.00"/><line x1="24.94" y1="-2.10" x2="24.94" y2="-1.00"/><line x1="26.47" y1="-3.30" x2="26.47" y2="3.30" stroke-width="0.9"/><line x1="26.47" y1="0" x2="32.49" y2="0" stroke-width="1.1"/><line x1="32.49" y1="-2.6" x2="32.49" y2="2.6" stroke-width="1.2"/></g><g transform="translate(51.10 36.60)" stroke="#6ccdf3" fill="none" stroke-width="1.3"><path d="M-2.3,-0.3 L0,2.4 L2.3,-0.3 M0,2.4 L0,5.2"/></g><g transform="translate(49.70 43.00) scale(1.0)" stroke="#6ccdf3" stroke-linecap="butt" fill="none"><path d="M-5.6,0.3 L-1.1,5.8 L-1.1,13.2 M5.6,0.3 L1.1,5.8 L1.1,13.2" stroke-width="1.9"/><path d="M-6.0,2.6 L-3.3,6.0 M6.0,2.6 L3.3,6.0" stroke-width="1.5"/></g><g><line x1="72.90" y1="48.80" x2="74.80" y2="48.80" stroke="#6e4e3c" stroke-width="0.7"/><circle cx="74.80" cy="48.80" r="0.55" fill="#6e4e3c"/><line x1="72.30" y1="50.85" x2="73.90" y2="51.88" stroke="#6e4e3c" stroke-width="0.7"/><circle cx="73.90" cy="51.88" r="0.55" fill="#6e4e3c"/><line x1="70.68" y1="52.26" x2="71.47" y2="53.98" stroke="#6e4e3c" stroke-width="0.7"/><circle cx="71.47" cy="53.98" r="0.55" fill="#6e4e3c"/><line x1="68.56" y1="52.56" x2="68.29" y2="54.44" stroke="#6e4e3c" stroke-width="0.7"/><circle cx="68.29" cy="54.44" r="0.55" fill="#6e4e3c"/><line x1="66.61" y1="51.67" x2="65.37" y2="53.11" stroke="#6e4e3c" stroke-width="0.7"/><circle cx="65.37" cy="53.11" r="0.55" fill="#6e4e3c"/><line x1="65.45" y1="49.87" x2="63.63" y2="50.41" stroke="#6e4e3c" stroke-width="0.7"/><circle cx="63.63" cy="50.41" r="0.55" fill="#6e4e3c"/><line x1="65.45" y1="47.73" x2="63.63" y2="47.19" stroke="#6e4e3c" stroke-width="0.7"/><circle cx="63.63" cy="47.19" r="0.55" fill="#6e4e3c"/><line x1="66.61" y1="45.93" x2="65.37" y2="44.49" stroke="#6e4e3c" stroke-width="0.7"/><circle cx="65.37" cy="44.49" r="0.55" fill="#6e4e3c"/><line x1="68.56" y1="45.04" x2="68.29" y2="43.16" stroke="#6e4e3c" stroke-width="0.7"/><circle cx="68.29" cy="43.16" r="0.55" fill="#6e4e3c"/><line x1="70.68" y1="45.34" x2="71.47" y2="43.62" stroke="#6e4e3c" stroke-width="0.7"/><circle cx="71.47" cy="43.62" r="0.55" fill="#6e4e3c"/><line x1="72.30" y1="46.75" x2="73.90" y2="45.72" stroke="#6e4e3c" stroke-width="0.7"/><circle cx="73.90" cy="45.72" r="0.55" fill="#6e4e3c"/><circle cx="69.10" cy="48.80" r="3.80" fill="#c4a468" stroke="#8a6a48" stroke-width="0.4"/></g><g><line x1="80.10" y1="40.20" x2="81.30" y2="40.20" stroke="#6e4e3c" stroke-width="0.7"/><circle cx="81.30" cy="40.20" r="0.55" fill="#6e4e3c"/><line x1="79.59" y1="41.61" x2="80.50" y2="42.39" stroke="#6e4e3c" stroke-width="0.7"/><circle cx="80.50" cy="42.39" r="0.55" fill="#6e4e3c"/><line x1="78.28" y1="42.37" x2="78.49" y2="43.55" stroke="#6e4e3c" stroke-width="0.7"/><circle cx="78.49" cy="43.55" r="0.55" fill="#6e4e3c"/><line x1="76.80" y1="42.11" x2="76.20" y2="43.14" stroke="#6e4e3c" stroke-width="0.7"/><circle cx="76.20" cy="43.14" r="0.55" fill="#6e4e3c"/><line x1="75.83" y1="40.95" x2="74.71" y2="41.36" stroke="#6e4e3c" stroke-width="0.7"/><circle cx="74.71" cy="41.36" r="0.55" fill="#6e4e3c"/><line x1="75.83" y1="39.45" x2="74.71" y2="39.04" stroke="#6e4e3c" stroke-width="0.7"/><circle cx="74.71" cy="39.04" r="0.55" fill="#6e4e3c"/><line x1="76.80" y1="38.29" x2="76.20" y2="37.26" stroke="#6e4e3c" stroke-width="0.7"/><circle cx="76.20" cy="37.26" r="0.55" fill="#6e4e3c"/><line x1="78.28" y1="38.03" x2="78.49" y2="36.85" stroke="#6e4e3c" stroke-width="0.7"/><circle cx="78.49" cy="36.85" r="0.55" fill="#6e4e3c"/><line x1="79.59" y1="38.79" x2="80.50" y2="38.01" stroke="#6e4e3c" stroke-width="0.7"/><circle cx="80.50" cy="38.01" r="0.55" fill="#6e4e3c"/><circle cx="77.90" cy="40.20" r="2.20" fill="#c9ab72" stroke="#8a6a48" stroke-width="0.4"/></g><g><line x1="80.60" y1="47.20" x2="81.30" y2="47.20" stroke="#a08870" stroke-width="0.7"/><circle cx="81.30" cy="47.20" r="0.55" fill="#a08870"/><line x1="79.96" y1="48.53" x2="80.40" y2="49.08" stroke="#a08870" stroke-width="0.7"/><circle cx="80.40" cy="49.08" r="0.55" fill="#a08870"/><line x1="78.52" y1="48.86" x2="78.37" y2="49.54" stroke="#a08870" stroke-width="0.7"/><circle cx="78.37" cy="49.54" r="0.55" fill="#a08870"/><line x1="77.37" y1="47.94" x2="76.74" y2="48.24" stroke="#a08870" stroke-width="0.7"/><circle cx="76.74" cy="48.24" r="0.55" fill="#a08870"/><line x1="77.37" y1="46.46" x2="76.74" y2="46.16" stroke="#a08870" stroke-width="0.7"/><circle cx="76.74" cy="46.16" r="0.55" fill="#a08870"/><line x1="78.52" y1="45.54" x2="78.37" y2="44.86" stroke="#a08870" stroke-width="0.7"/><circle cx="78.37" cy="44.86" r="0.55" fill="#a08870"/><line x1="79.96" y1="45.87" x2="80.40" y2="45.32" stroke="#a08870" stroke-width="0.7"/><circle cx="80.40" cy="45.32" r="0.55" fill="#a08870"/><circle cx="78.90" cy="47.20" r="1.70" fill="#c9ab72" stroke="#8a6a48" stroke-width="0.4"/></g>
<line x1="51.7" y1="68.9" x2="510.8" y2="68.9" stroke="#1a1a1a" stroke-width="1.5"/>
<line x1="51.7" y1="57.2" x2="51.7" y2="81.3" stroke="#333" stroke-width="1"/>
<line x1="68.0" y1="57.2" x2="68.0" y2="81.3" stroke="#333" stroke-width="1"/>
<line x1="510.8" y1="57.2" x2="510.8" y2="81.3" stroke="#333" stroke-width="1"/>
<text transform="translate(77.3 62.4) scale(1 1.1)" x="0" y="0" font-size="9" font-weight="bold">5xLD<tspan font-size="5.6" dy="1.2">50</tspan></text>
<text transform="translate(47.60 90.00) scale(1 1.1)" x="0" y="0" font-size="9.3" font-weight="bold" text-anchor="middle" fill="#000" >-4h</text>
<text transform="translate(70.00 89.40) scale(1 1.1)" x="0" y="0" font-size="9.3" font-weight="bold" text-anchor="middle" fill="#000" >day 0</text>
<text transform="translate(508.70 88.20) scale(1 1.1)" x="0" y="0" font-size="9.3" font-weight="bold" text-anchor="middle" fill="#000" >day 14</text>
<g transform="translate(35.30 105.80) scale(1.0 1.0)"><path d="M0.00,8.76 C0.45,8.08 1.37,6.72 2.69,5.84 C4.01,4.96 6.29,4.18 7.94,3.50 C9.59,2.82 11.73,2.29 12.61,1.75 C13.49,1.21 12.71,0.52 13.20,0.23 C13.69,-0.06 14.95,-0.16 15.53,0.00 C16.11,0.16 16.41,0.68 16.70,1.17 C16.99,1.66 16.40,2.53 17.28,2.92 C18.16,3.31 19.82,3.44 21.96,3.50 C24.10,3.56 27.40,3.27 30.13,3.27 C32.85,3.27 35.97,3.17 38.31,3.50 C40.65,3.83 42.40,4.38 44.15,5.26 C45.90,6.14 47.55,7.50 48.82,8.76 C50.09,10.03 51.06,11.68 51.74,12.85 C52.42,14.02 52.80,14.89 52.90,15.77 C53.00,16.64 52.80,17.32 52.32,18.10 C51.84,18.88 50.96,19.76 49.99,20.44 C49.02,21.12 47.26,21.61 46.48,22.19 C45.70,22.77 46.28,23.51 45.31,23.94 C44.34,24.37 41.81,24.76 40.64,24.76 C39.47,24.76 38.80,24.27 38.31,23.94 C37.82,23.61 39.08,23.06 37.72,22.77 C36.36,22.48 32.76,22.38 30.13,22.19 C27.50,22.00 23.81,21.65 21.96,21.61 C20.11,21.57 19.72,21.67 19.04,21.96 C18.36,22.25 18.75,22.97 17.87,23.36 C16.99,23.75 15.24,24.13 13.78,24.29 C12.32,24.45 9.98,24.45 9.11,24.29 C8.23,24.13 8.04,23.71 8.53,23.36 C9.02,23.01 10.96,22.68 12.03,22.19 C13.10,21.70 14.37,21.12 14.95,20.44 C15.53,19.76 15.63,18.88 15.53,18.10 C15.43,17.32 15.23,16.35 14.36,15.77 C13.48,15.19 11.74,15.09 10.28,14.60 C8.82,14.11 7.07,13.43 5.61,12.85 C4.15,12.27 2.46,11.58 1.52,11.09 C0.58,10.60 0.25,10.32 0.00,9.93 C-0.25,9.54 -0.45,9.44 0.00,8.76 Z" fill="#bddcb0"/><path d="M51.00,18.30 C52.19,18.66 56.28,19.50 58.16,20.44 C60.03,21.38 61.47,22.68 62.25,23.94 C63.03,25.21 63.22,27.06 62.83,28.03 C62.44,29.00 61.66,29.59 59.91,29.78 C58.16,29.98 55.53,29.49 52.32,29.20 C49.11,28.91 44.34,28.32 40.64,28.03 C36.94,27.74 32.27,27.45 30.13,27.45 C27.99,27.45 28.19,27.93 27.80,28.03 " fill="none" stroke="#bddcb0" stroke-width="1.6" stroke-linecap="round"/></g>
<text transform="translate(64.50 120.20) scale(1 1.1)" x="0" y="0" font-size="9" font-weight="normal" text-anchor="middle" fill="#222" >n=5</text>
<g transform="translate(127.80 105.80) scale(1.0 1.0)"><path d="M0.00,8.76 C0.45,8.08 1.37,6.72 2.69,5.84 C4.01,4.96 6.29,4.18 7.94,3.50 C9.59,2.82 11.73,2.29 12.61,1.75 C13.49,1.21 12.71,0.52 13.20,0.23 C13.69,-0.06 14.95,-0.16 15.53,0.00 C16.11,0.16 16.41,0.68 16.70,1.17 C16.99,1.66 16.40,2.53 17.28,2.92 C18.16,3.31 19.82,3.44 21.96,3.50 C24.10,3.56 27.40,3.27 30.13,3.27 C32.85,3.27 35.97,3.17 38.31,3.50 C40.65,3.83 42.40,4.38 44.15,5.26 C45.90,6.14 47.55,7.50 48.82,8.76 C50.09,10.03 51.06,11.68 51.74,12.85 C52.42,14.02 52.80,14.89 52.90,15.77 C53.00,16.64 52.80,17.32 52.32,18.10 C51.84,18.88 50.96,19.76 49.99,20.44 C49.02,21.12 47.26,21.61 46.48,22.19 C45.70,22.77 46.28,23.51 45.31,23.94 C44.34,24.37 41.81,24.76 40.64,24.76 C39.47,24.76 38.80,24.27 38.31,23.94 C37.82,23.61 39.08,23.06 37.72,22.77 C36.36,22.48 32.76,22.38 30.13,22.19 C27.50,22.00 23.81,21.65 21.96,21.61 C20.11,21.57 19.72,21.67 19.04,21.96 C18.36,22.25 18.75,22.97 17.87,23.36 C16.99,23.75 15.24,24.13 13.78,24.29 C12.32,24.45 9.98,24.45 9.11,24.29 C8.23,24.13 8.04,23.71 8.53,23.36 C9.02,23.01 10.96,22.68 12.03,22.19 C13.10,21.70 14.37,21.12 14.95,20.44 C15.53,19.76 15.63,18.88 15.53,18.10 C15.43,17.32 15.23,16.35 14.36,15.77 C13.48,15.19 11.74,15.09 10.28,14.60 C8.82,14.11 7.07,13.43 5.61,12.85 C4.15,12.27 2.46,11.58 1.52,11.09 C0.58,10.60 0.25,10.32 0.00,9.93 C-0.25,9.54 -0.45,9.44 0.00,8.76 Z" fill="#c6f1c6"/><path d="M51.00,18.30 C52.19,18.66 56.28,19.50 58.16,20.44 C60.03,21.38 61.47,22.68 62.25,23.94 C63.03,25.21 63.22,27.06 62.83,28.03 C62.44,29.00 61.66,29.59 59.91,29.78 C58.16,29.98 55.53,29.49 52.32,29.20 C49.11,28.91 44.34,28.32 40.64,28.03 C36.94,27.74 32.27,27.45 30.13,27.45 C27.99,27.45 28.19,27.93 27.80,28.03 " fill="none" stroke="#c6f1c6" stroke-width="1.6" stroke-linecap="round"/></g>
<text transform="translate(157.00 120.20) scale(1 1.1)" x="0" y="0" font-size="9" font-weight="normal" text-anchor="middle" fill="#222" >n=5</text>
<g transform="translate(223.40 105.80) scale(1.0 1.0)"><path d="M0.00,8.76 C0.45,8.08 1.37,6.72 2.69,5.84 C4.01,4.96 6.29,4.18 7.94,3.50 C9.59,2.82 11.73,2.29 12.61,1.75 C13.49,1.21 12.71,0.52 13.20,0.23 C13.69,-0.06 14.95,-0.16 15.53,0.00 C16.11,0.16 16.41,0.68 16.70,1.17 C16.99,1.66 16.40,2.53 17.28,2.92 C18.16,3.31 19.82,3.44 21.96,3.50 C24.10,3.56 27.40,3.27 30.13,3.27 C32.85,3.27 35.97,3.17 38.31,3.50 C40.65,3.83 42.40,4.38 44.15,5.26 C45.90,6.14 47.55,7.50 48.82,8.76 C50.09,10.03 51.06,11.68 51.74,12.85 C52.42,14.02 52.80,14.89 52.90,15.77 C53.00,16.64 52.80,17.32 52.32,18.10 C51.84,18.88 50.96,19.76 49.99,20.44 C49.02,21.12 47.26,21.61 46.48,22.19 C45.70,22.77 46.28,23.51 45.31,23.94 C44.34,24.37 41.81,24.76 40.64,24.76 C39.47,24.76 38.80,24.27 38.31,23.94 C37.82,23.61 39.08,23.06 37.72,22.77 C36.36,22.48 32.76,22.38 30.13,22.19 C27.50,22.00 23.81,21.65 21.96,21.61 C20.11,21.57 19.72,21.67 19.04,21.96 C18.36,22.25 18.75,22.97 17.87,23.36 C16.99,23.75 15.24,24.13 13.78,24.29 C12.32,24.45 9.98,24.45 9.11,24.29 C8.23,24.13 8.04,23.71 8.53,23.36 C9.02,23.01 10.96,22.68 12.03,22.19 C13.10,21.70 14.37,21.12 14.95,20.44 C15.53,19.76 15.63,18.88 15.53,18.10 C15.43,17.32 15.23,16.35 14.36,15.77 C13.48,15.19 11.74,15.09 10.28,14.60 C8.82,14.11 7.07,13.43 5.61,12.85 C4.15,12.27 2.46,11.58 1.52,11.09 C0.58,10.60 0.25,10.32 0.00,9.93 C-0.25,9.54 -0.45,9.44 0.00,8.76 Z" fill="#9ea8f6"/><path d="M51.00,18.30 C52.19,18.66 56.28,19.50 58.16,20.44 C60.03,21.38 61.47,22.68 62.25,23.94 C63.03,25.21 63.22,27.06 62.83,28.03 C62.44,29.00 61.66,29.59 59.91,29.78 C58.16,29.98 55.53,29.49 52.32,29.20 C49.11,28.91 44.34,28.32 40.64,28.03 C36.94,27.74 32.27,27.45 30.13,27.45 C27.99,27.45 28.19,27.93 27.80,28.03 " fill="none" stroke="#9ea8f6" stroke-width="1.6" stroke-linecap="round"/></g>
<text transform="translate(252.50 120.20) scale(1 1.1)" x="0" y="0" font-size="9" font-weight="normal" text-anchor="middle" fill="#222" >n=5</text>
<g transform="translate(313.20 105.80) scale(1.0 1.0)"><path d="M0.00,8.76 C0.45,8.08 1.37,6.72 2.69,5.84 C4.01,4.96 6.29,4.18 7.94,3.50 C9.59,2.82 11.73,2.29 12.61,1.75 C13.49,1.21 12.71,0.52 13.20,0.23 C13.69,-0.06 14.95,-0.16 15.53,0.00 C16.11,0.16 16.41,0.68 16.70,1.17 C16.99,1.66 16.40,2.53 17.28,2.92 C18.16,3.31 19.82,3.44 21.96,3.50 C24.10,3.56 27.40,3.27 30.13,3.27 C32.85,3.27 35.97,3.17 38.31,3.50 C40.65,3.83 42.40,4.38 44.15,5.26 C45.90,6.14 47.55,7.50 48.82,8.76 C50.09,10.03 51.06,11.68 51.74,12.85 C52.42,14.02 52.80,14.89 52.90,15.77 C53.00,16.64 52.80,17.32 52.32,18.10 C51.84,18.88 50.96,19.76 49.99,20.44 C49.02,21.12 47.26,21.61 46.48,22.19 C45.70,22.77 46.28,23.51 45.31,23.94 C44.34,24.37 41.81,24.76 40.64,24.76 C39.47,24.76 38.80,24.27 38.31,23.94 C37.82,23.61 39.08,23.06 37.72,22.77 C36.36,22.48 32.76,22.38 30.13,22.19 C27.50,22.00 23.81,21.65 21.96,21.61 C20.11,21.57 19.72,21.67 19.04,21.96 C18.36,22.25 18.75,22.97 17.87,23.36 C16.99,23.75 15.24,24.13 13.78,24.29 C12.32,24.45 9.98,24.45 9.11,24.29 C8.23,24.13 8.04,23.71 8.53,23.36 C9.02,23.01 10.96,22.68 12.03,22.19 C13.10,21.70 14.37,21.12 14.95,20.44 C15.53,19.76 15.63,18.88 15.53,18.10 C15.43,17.32 15.23,16.35 14.36,15.77 C13.48,15.19 11.74,15.09 10.28,14.60 C8.82,14.11 7.07,13.43 5.61,12.85 C4.15,12.27 2.46,11.58 1.52,11.09 C0.58,10.60 0.25,10.32 0.00,9.93 C-0.25,9.54 -0.45,9.44 0.00,8.76 Z" fill="#bee4f8"/><path d="M51.00,18.30 C52.19,18.66 56.28,19.50 58.16,20.44 C60.03,21.38 61.47,22.68 62.25,23.94 C63.03,25.21 63.22,27.06 62.83,28.03 C62.44,29.00 61.66,29.59 59.91,29.78 C58.16,29.98 55.53,29.49 52.32,29.20 C49.11,28.91 44.34,28.32 40.64,28.03 C36.94,27.74 32.27,27.45 30.13,27.45 C27.99,27.45 28.19,27.93 27.80,28.03 " fill="none" stroke="#bee4f8" stroke-width="1.6" stroke-linecap="round"/></g>
<text transform="translate(346.30 120.20) scale(1 1.1)" x="0" y="0" font-size="9" font-weight="normal" text-anchor="middle" fill="#222" >n=5</text>
<g transform="translate(404.00 105.80) scale(1.0 1.0)"><path d="M0.00,8.76 C0.45,8.08 1.37,6.72 2.69,5.84 C4.01,4.96 6.29,4.18 7.94,3.50 C9.59,2.82 11.73,2.29 12.61,1.75 C13.49,1.21 12.71,0.52 13.20,0.23 C13.69,-0.06 14.95,-0.16 15.53,0.00 C16.11,0.16 16.41,0.68 16.70,1.17 C16.99,1.66 16.40,2.53 17.28,2.92 C18.16,3.31 19.82,3.44 21.96,3.50 C24.10,3.56 27.40,3.27 30.13,3.27 C32.85,3.27 35.97,3.17 38.31,3.50 C40.65,3.83 42.40,4.38 44.15,5.26 C45.90,6.14 47.55,7.50 48.82,8.76 C50.09,10.03 51.06,11.68 51.74,12.85 C52.42,14.02 52.80,14.89 52.90,15.77 C53.00,16.64 52.80,17.32 52.32,18.10 C51.84,18.88 50.96,19.76 49.99,20.44 C49.02,21.12 47.26,21.61 46.48,22.19 C45.70,22.77 46.28,23.51 45.31,23.94 C44.34,24.37 41.81,24.76 40.64,24.76 C39.47,24.76 38.80,24.27 38.31,23.94 C37.82,23.61 39.08,23.06 37.72,22.77 C36.36,22.48 32.76,22.38 30.13,22.19 C27.50,22.00 23.81,21.65 21.96,21.61 C20.11,21.57 19.72,21.67 19.04,21.96 C18.36,22.25 18.75,22.97 17.87,23.36 C16.99,23.75 15.24,24.13 13.78,24.29 C12.32,24.45 9.98,24.45 9.11,24.29 C8.23,24.13 8.04,23.71 8.53,23.36 C9.02,23.01 10.96,22.68 12.03,22.19 C13.10,21.70 14.37,21.12 14.95,20.44 C15.53,19.76 15.63,18.88 15.53,18.10 C15.43,17.32 15.23,16.35 14.36,15.77 C13.48,15.19 11.74,15.09 10.28,14.60 C8.82,14.11 7.07,13.43 5.61,12.85 C4.15,12.27 2.46,11.58 1.52,11.09 C0.58,10.60 0.25,10.32 0.00,9.93 C-0.25,9.54 -0.45,9.44 0.00,8.76 Z" fill="#9c9c9c"/><path d="M51.00,18.30 C52.19,18.66 56.28,19.50 58.16,20.44 C60.03,21.38 61.47,22.68 62.25,23.94 C63.03,25.21 63.22,27.06 62.83,28.03 C62.44,29.00 61.66,29.59 59.91,29.78 C58.16,29.98 55.53,29.49 52.32,29.20 C49.11,28.91 44.34,28.32 40.64,28.03 C36.94,27.74 32.27,27.45 30.13,27.45 C27.99,27.45 28.19,27.93 27.80,28.03 " fill="none" stroke="#9c9c9c" stroke-width="1.6" stroke-linecap="round"/></g>
<text transform="translate(436.50 120.20) scale(1 1.1)" x="0" y="0" font-size="9" font-weight="normal" text-anchor="middle" fill="#222" >n=5</text>
<line x1="39.7" y1="149.4" x2="58.0" y2="149.4" stroke="#529c2e" stroke-width="1"/>
<circle cx="48.85" cy="149.4" r="2.6" fill="#6db446" stroke="#47902a" stroke-width="0.9"/>
<text transform="translate(68.60 153.00) scale(1 1.1)" x="0" y="0" font-size="10" font-weight="bold" text-anchor="start" fill="#000" >5mg/kg</text>
<line x1="129.0" y1="149.4" x2="147.4" y2="149.4" stroke="#4c9c4a" stroke-width="1"/>
<rect x="135.60" y="146.80" width="5.2" height="5.2" fill="#cbf46e" stroke="#45954a" stroke-width="0.9"/>
<text transform="translate(157.00 153.00) scale(1 1.1)" x="0" y="0" font-size="10" font-weight="bold" text-anchor="start" fill="#000" >1mg/kg</text>
<line x1="217.9" y1="149.4" x2="235.5" y2="149.4" stroke="#2222f6" stroke-width="1"/>
<circle cx="226.70" cy="149.4" r="2.6" fill="#5656f8" stroke="#1818ee" stroke-width="0.9"/>
<text transform="translate(245.50 153.00) scale(1 1.1)" x="0" y="0" font-size="10" font-weight="bold" text-anchor="start" fill="#000" >0.3mg/kg</text>
<line x1="314.3" y1="149.4" x2="332.7" y2="149.4" stroke="#2d52a8" stroke-width="1"/>
<rect x="320.90" y="146.80" width="5.2" height="5.2" fill="#80d2f8" stroke="#2b52ae" stroke-width="0.9"/>
<text transform="translate(342.70 153.00) scale(1 1.1)" x="0" y="0" font-size="10" font-weight="bold" text-anchor="start" fill="#000" >0.1mg/kg</text>
<line x1="411.5" y1="149.4" x2="430.0" y2="149.4" stroke="#111" stroke-width="1"/>
<circle cx="420.75" cy="149.4" r="2.4" fill="#000"/>
<text transform="translate(443.00 153.00) scale(1 1.1)" x="0" y="0" font-size="10" font-weight="bold" text-anchor="start" fill="#000" >5-0.1mg/kg</text>
<text transform="translate(439.60 164.80) scale(1 1.1)" x="0" y="0" font-size="10" font-weight="bold" text-anchor="start" fill="#000" >negative control</text>
<g transform="translate(57.20 740.30) rotate(-56.07)" stroke="#5b86d6" fill="none" stroke-width="0.7"><line x1="0" y1="0" x2="9.94" y2="0"/><path d="M9.94,0 L11.14,-2.10 L26.51,-2.10 L26.51,2.10 L11.14,2.10 Z" fill="#fff"/><rect x="11.74" y="-1.40" width="6.92" height="2.80" fill="#a9d6ee" stroke="none"/><line x1="18.83" y1="-2.10" x2="18.83" y2="-1.00"/><line x1="20.37" y1="-2.10" x2="20.37" y2="-1.00"/><line x1="21.90" y1="-2.10" x2="21.90" y2="-1.00"/><line x1="23.44" y1="-2.10" x2="23.44" y2="-1.00"/><line x1="24.98" y1="-2.10" x2="24.98" y2="-1.00"/><line x1="26.51" y1="-3.30" x2="26.51" y2="3.30" stroke-width="0.9"/><line x1="26.51" y1="0" x2="32.54" y2="0" stroke-width="1.1"/><line x1="32.54" y1="-2.6" x2="32.54" y2="2.6" stroke-width="1.2"/></g><g transform="translate(78.30 741.60) rotate(-56.21)" stroke="#5b86d6" fill="none" stroke-width="0.7"><line x1="0" y1="0" x2="9.93" y2="0"/><path d="M9.93,0 L11.13,-2.10 L26.47,-2.10 L26.47,2.10 L11.13,2.10 Z" fill="#fff"/><rect x="11.73" y="-1.40" width="6.90" height="2.80" fill="#a9d6ee" stroke="none"/><line x1="18.80" y1="-2.10" x2="18.80" y2="-1.00"/><line x1="20.33" y1="-2.10" x2="20.33" y2="-1.00"/><line x1="21.87" y1="-2.10" x2="21.87" y2="-1.00"/><line x1="23.40" y1="-2.10" x2="23.40" y2="-1.00"/><line x1="24.94" y1="-2.10" x2="24.94" y2="-1.00"/><line x1="26.47" y1="-3.30" x2="26.47" y2="3.30" stroke-width="0.9"/><line x1="26.47" y1="0" x2="32.49" y2="0" stroke-width="1.1"/><line x1="32.49" y1="-2.6" x2="32.49" y2="2.6" stroke-width="1.2"/></g><g transform="translate(62.00 740.40)" stroke="#6ccdf3" fill="none" stroke-width="1.3"><path d="M-2.3,-0.3 L0,2.4 L2.3,-0.3 M0,2.4 L0,5.2"/></g><g transform="translate(60.60 746.80) scale(1.0)" stroke="#6ccdf3" stroke-linecap="butt" fill="none"><path d="M-5.6,0.3 L-1.1,5.8 L-1.1,13.2 M5.6,0.3 L1.1,5.8 L1.1,13.2" stroke-width="1.9"/><path d="M-6.0,2.6 L-3.3,6.0 M6.0,2.6 L3.3,6.0" stroke-width="1.5"/></g><g><line x1="83.80" y1="752.60" x2="85.70" y2="752.60" stroke="#6e4e3c" stroke-width="0.7"/><circle cx="85.70" cy="752.60" r="0.55" fill="#6e4e3c"/><line x1="83.20" y1="754.65" x2="84.80" y2="755.68" stroke="#6e4e3c" stroke-width="0.7"/><circle cx="84.80" cy="755.68" r="0.55" fill="#6e4e3c"/><line x1="81.58" y1="756.06" x2="82.37" y2="757.78" stroke="#6e4e3c" stroke-width="0.7"/><circle cx="82.37" cy="757.78" r="0.55" fill="#6e4e3c"/><line x1="79.46" y1="756.36" x2="79.19" y2="758.24" stroke="#6e4e3c" stroke-width="0.7"/><circle cx="79.19" cy="758.24" r="0.55" fill="#6e4e3c"/><line x1="77.51" y1="755.47" x2="76.27" y2="756.91" stroke="#6e4e3c" stroke-width="0.7"/><circle cx="76.27" cy="756.91" r="0.55" fill="#6e4e3c"/><line x1="76.35" y1="753.67" x2="74.53" y2="754.21" stroke="#6e4e3c" stroke-width="0.7"/><circle cx="74.53" cy="754.21" r="0.55" fill="#6e4e3c"/><line x1="76.35" y1="751.53" x2="74.53" y2="750.99" stroke="#6e4e3c" stroke-width="0.7"/><circle cx="74.53" cy="750.99" r="0.55" fill="#6e4e3c"/><line x1="77.51" y1="749.73" x2="76.27" y2="748.29" stroke="#6e4e3c" stroke-width="0.7"/><circle cx="76.27" cy="748.29" r="0.55" fill="#6e4e3c"/><line x1="79.46" y1="748.84" x2="79.19" y2="746.96" stroke="#6e4e3c" stroke-width="0.7"/><circle cx="79.19" cy="746.96" r="0.55" fill="#6e4e3c"/><line x1="81.58" y1="749.14" x2="82.37" y2="747.42" stroke="#6e4e3c" stroke-width="0.7"/><circle cx="82.37" cy="747.42" r="0.55" fill="#6e4e3c"/><line x1="83.20" y1="750.55" x2="84.80" y2="749.52" stroke="#6e4e3c" stroke-width="0.7"/><circle cx="84.80" cy="749.52" r="0.55" fill="#6e4e3c"/><circle cx="80.00" cy="752.60" r="3.80" fill="#c4a468" stroke="#8a6a48" stroke-width="0.4"/></g><g><line x1="91.00" y1="744.00" x2="92.20" y2="744.00" stroke="#6e4e3c" stroke-width="0.7"/><circle cx="92.20" cy="744.00" r="0.55" fill="#6e4e3c"/><line x1="90.49" y1="745.41" x2="91.40" y2="746.19" stroke="#6e4e3c" stroke-width="0.7"/><circle cx="91.40" cy="746.19" r="0.55" fill="#6e4e3c"/><line x1="89.18" y1="746.17" x2="89.39" y2="747.35" stroke="#6e4e3c" stroke-width="0.7"/><circle cx="89.39" cy="747.35" r="0.55" fill="#6e4e3c"/><line x1="87.70" y1="745.91" x2="87.10" y2="746.94" stroke="#6e4e3c" stroke-width="0.7"/><circle cx="87.10" cy="746.94" r="0.55" fill="#6e4e3c"/><line x1="86.73" y1="744.75" x2="85.61" y2="745.16" stroke="#6e4e3c" stroke-width="0.7"/><circle cx="85.61" cy="745.16" r="0.55" fill="#6e4e3c"/><line x1="86.73" y1="743.25" x2="85.61" y2="742.84" stroke="#6e4e3c" stroke-width="0.7"/><circle cx="85.61" cy="742.84" r="0.55" fill="#6e4e3c"/><line x1="87.70" y1="742.09" x2="87.10" y2="741.06" stroke="#6e4e3c" stroke-width="0.7"/><circle cx="87.10" cy="741.06" r="0.55" fill="#6e4e3c"/><line x1="89.18" y1="741.83" x2="89.39" y2="740.65" stroke="#6e4e3c" stroke-width="0.7"/><circle cx="89.39" cy="740.65" r="0.55" fill="#6e4e3c"/><line x1="90.49" y1="742.59" x2="91.40" y2="741.81" stroke="#6e4e3c" stroke-width="0.7"/><circle cx="91.40" cy="741.81" r="0.55" fill="#6e4e3c"/><circle cx="88.80" cy="744.00" r="2.20" fill="#c9ab72" stroke="#8a6a48" stroke-width="0.4"/></g><g><line x1="91.50" y1="751.00" x2="92.20" y2="751.00" stroke="#a08870" stroke-width="0.7"/><circle cx="92.20" cy="751.00" r="0.55" fill="#a08870"/><line x1="90.86" y1="752.33" x2="91.30" y2="752.88" stroke="#a08870" stroke-width="0.7"/><circle cx="91.30" cy="752.88" r="0.55" fill="#a08870"/><line x1="89.42" y1="752.66" x2="89.27" y2="753.34" stroke="#a08870" stroke-width="0.7"/><circle cx="89.27" cy="753.34" r="0.55" fill="#a08870"/><line x1="88.27" y1="751.74" x2="87.64" y2="752.04" stroke="#a08870" stroke-width="0.7"/><circle cx="87.64" cy="752.04" r="0.55" fill="#a08870"/><line x1="88.27" y1="750.26" x2="87.64" y2="749.96" stroke="#a08870" stroke-width="0.7"/><circle cx="87.64" cy="749.96" r="0.55" fill="#a08870"/><line x1="89.42" y1="749.34" x2="89.27" y2="748.66" stroke="#a08870" stroke-width="0.7"/><circle cx="89.27" cy="748.66" r="0.55" fill="#a08870"/><line x1="90.86" y1="749.67" x2="91.30" y2="749.12" stroke="#a08870" stroke-width="0.7"/><circle cx="91.30" cy="749.12" r="0.55" fill="#a08870"/><circle cx="89.80" cy="751.00" r="1.70" fill="#c9ab72" stroke="#8a6a48" stroke-width="0.4"/></g>
<line x1="63.4" y1="773.4" x2="261.6" y2="773.4" stroke="#1a1a1a" stroke-width="1.5"/>
<line x1="63.4" y1="761.2" x2="63.4" y2="786.2" stroke="#333" stroke-width="1"/>
<line x1="79.3" y1="761.2" x2="79.3" y2="786.2" stroke="#333" stroke-width="1"/>
<line x1="203.1" y1="761.2" x2="203.1" y2="786.2" stroke="#333" stroke-width="1"/>
<line x1="261.6" y1="761.2" x2="261.6" y2="786.2" stroke="#333" stroke-width="1"/>
<text transform="translate(89.3 768.6) scale(1 1.1)" x="0" y="0" font-size="9" font-weight="bold">5xLD<tspan font-size="5.6" dy="1.2">50</tspan></text>
<text transform="translate(23.30 768.70) scale(1 1.1)" x="0" y="0" font-size="9.4" font-weight="bold" text-anchor="start" fill="#000" >5mg/kg</text>
<text transform="translate(58.50 796.30) scale(1 1.1)" x="0" y="0" font-size="9.3" font-weight="bold" text-anchor="middle" fill="#000" >-4h</text>
<text transform="translate(81.80 796.30) scale(1 1.1)" x="0" y="0" font-size="9.3" font-weight="bold" text-anchor="middle" fill="#000" >day 0</text>
<text transform="translate(203.10 796.30) scale(1 1.1)" x="0" y="0" font-size="9.3" font-weight="bold" text-anchor="middle" fill="#000" >day 3</text>
<text transform="translate(262.50 796.30) scale(1 1.1)" x="0" y="0" font-size="9.3" font-weight="bold" text-anchor="middle" fill="#000" >day 5</text>
<g transform="translate(202.30 736.00)" fill="#e2a9b1"><path d="M-1.5,0 L1.5,0 L0.9,2.5 L0.9,13.5 L-0.9,13.5 L-0.9,2.5 Z"/><path d="M-2.7,5.6 C-6.5,8 -10.2,14 -10.6,23 C-8,22 -5.5,20.8 -2.2,21.5 L-2.2,14.8 C-1.5,13 -1.8,9 -2.7,5.6 Z"/><path d="M2.7,5.6 C6.5,8 10.2,14 10.8,23.3 C8,22.2 5.5,20.8 2.0,21.0 L2.0,14.8 C1.5,13 1.8,9 2.7,5.6 Z"/></g>
<g transform="translate(261.70 736.00)" fill="#e2a9b1"><path d="M-1.5,0 L1.5,0 L0.9,2.5 L0.9,13.5 L-0.9,13.5 L-0.9,2.5 Z"/><path d="M-2.7,5.6 C-6.5,8 -10.2,14 -10.6,23 C-8,22 -5.5,20.8 -2.2,21.5 L-2.2,14.8 C-1.5,13 -1.8,9 -2.7,5.6 Z"/><path d="M2.7,5.6 C6.5,8 10.2,14 10.8,23.3 C8,22.2 5.5,20.8 2.0,21.0 L2.0,14.8 C1.5,13 1.8,9 2.7,5.6 Z"/></g>
<g transform="translate(35.30 803.30) scale(1.0 1.0)"><path d="M0.00,8.76 C0.45,8.08 1.37,6.72 2.69,5.84 C4.01,4.96 6.29,4.18 7.94,3.50 C9.59,2.82 11.73,2.29 12.61,1.75 C13.49,1.21 12.71,0.52 13.20,0.23 C13.69,-0.06 14.95,-0.16 15.53,0.00 C16.11,0.16 16.41,0.68 16.70,1.17 C16.99,1.66 16.40,2.53 17.28,2.92 C18.16,3.31 19.82,3.44 21.96,3.50 C24.10,3.56 27.40,3.27 30.13,3.27 C32.85,3.27 35.97,3.17 38.31,3.50 C40.65,3.83 42.40,4.38 44.15,5.26 C45.90,6.14 47.55,7.50 48.82,8.76 C50.09,10.03 51.06,11.68 51.74,12.85 C52.42,14.02 52.80,14.89 52.90,15.77 C53.00,16.64 52.80,17.32 52.32,18.10 C51.84,18.88 50.96,19.76 49.99,20.44 C49.02,21.12 47.26,21.61 46.48,22.19 C45.70,22.77 46.28,23.51 45.31,23.94 C44.34,24.37 41.81,24.76 40.64,24.76 C39.47,24.76 38.80,24.27 38.31,23.94 C37.82,23.61 39.08,23.06 37.72,22.77 C36.36,22.48 32.76,22.38 30.13,22.19 C27.50,22.00 23.81,21.65 21.96,21.61 C20.11,21.57 19.72,21.67 19.04,21.96 C18.36,22.25 18.75,22.97 17.87,23.36 C16.99,23.75 15.24,24.13 13.78,24.29 C12.32,24.45 9.98,24.45 9.11,24.29 C8.23,24.13 8.04,23.71 8.53,23.36 C9.02,23.01 10.96,22.68 12.03,22.19 C13.10,21.70 14.37,21.12 14.95,20.44 C15.53,19.76 15.63,18.88 15.53,18.10 C15.43,17.32 15.23,16.35 14.36,15.77 C13.48,15.19 11.74,15.09 10.28,14.60 C8.82,14.11 7.07,13.43 5.61,12.85 C4.15,12.27 2.46,11.58 1.52,11.09 C0.58,10.60 0.25,10.32 0.00,9.93 C-0.25,9.54 -0.45,9.44 0.00,8.76 Z" fill="#d4d6d6"/><path d="M51.00,18.30 C52.19,18.66 56.28,19.50 58.16,20.44 C60.03,21.38 61.47,22.68 62.25,23.94 C63.03,25.21 63.22,27.06 62.83,28.03 C62.44,29.00 61.66,29.59 59.91,29.78 C58.16,29.98 55.53,29.49 52.32,29.20 C49.11,28.91 44.34,28.32 40.64,28.03 C36.94,27.74 32.27,27.45 30.13,27.45 C27.99,27.45 28.19,27.93 27.80,28.03 " fill="none" stroke="#d4d6d6" stroke-width="1.6" stroke-linecap="round"/></g>
<text transform="translate(65.40 818.20) scale(1 1.1)" x="0" y="0" font-size="9" font-weight="normal" text-anchor="middle" fill="#222" >n=6</text>
<g transform="translate(173.30 803.30) scale(1.0 1.0)"><path d="M0.00,8.76 C0.45,8.08 1.37,6.72 2.69,5.84 C4.01,4.96 6.29,4.18 7.94,3.50 C9.59,2.82 11.73,2.29 12.61,1.75 C13.49,1.21 12.71,0.52 13.20,0.23 C13.69,-0.06 14.95,-0.16 15.53,0.00 C16.11,0.16 16.41,0.68 16.70,1.17 C16.99,1.66 16.40,2.53 17.28,2.92 C18.16,3.31 19.82,3.44 21.96,3.50 C24.10,3.56 27.40,3.27 30.13,3.27 C32.85,3.27 35.97,3.17 38.31,3.50 C40.65,3.83 42.40,4.38 44.15,5.26 C45.90,6.14 47.55,7.50 48.82,8.76 C50.09,10.03 51.06,11.68 51.74,12.85 C52.42,14.02 52.80,14.89 52.90,15.77 C53.00,16.64 52.80,17.32 52.32,18.10 C51.84,18.88 50.96,19.76 49.99,20.44 C49.02,21.12 47.26,21.61 46.48,22.19 C45.70,22.77 46.28,23.51 45.31,23.94 C44.34,24.37 41.81,24.76 40.64,24.76 C39.47,24.76 38.80,24.27 38.31,23.94 C37.82,23.61 39.08,23.06 37.72,22.77 C36.36,22.48 32.76,22.38 30.13,22.19 C27.50,22.00 23.81,21.65 21.96,21.61 C20.11,21.57 19.72,21.67 19.04,21.96 C18.36,22.25 18.75,22.97 17.87,23.36 C16.99,23.75 15.24,24.13 13.78,24.29 C12.32,24.45 9.98,24.45 9.11,24.29 C8.23,24.13 8.04,23.71 8.53,23.36 C9.02,23.01 10.96,22.68 12.03,22.19 C13.10,21.70 14.37,21.12 14.95,20.44 C15.53,19.76 15.63,18.88 15.53,18.10 C15.43,17.32 15.23,16.35 14.36,15.77 C13.48,15.19 11.74,15.09 10.28,14.60 C8.82,14.11 7.07,13.43 5.61,12.85 C4.15,12.27 2.46,11.58 1.52,11.09 C0.58,10.60 0.25,10.32 0.00,9.93 C-0.25,9.54 -0.45,9.44 0.00,8.76 Z" fill="#d4d6d6"/><path d="M51.00,18.30 C52.19,18.66 56.28,19.50 58.16,20.44 C60.03,21.38 61.47,22.68 62.25,23.94 C63.03,25.21 63.22,27.06 62.83,28.03 C62.44,29.00 61.66,29.59 59.91,29.78 C58.16,29.98 55.53,29.49 52.32,29.20 C49.11,28.91 44.34,28.32 40.64,28.03 C36.94,27.74 32.27,27.45 30.13,27.45 C27.99,27.45 28.19,27.93 27.80,28.03 " fill="none" stroke="#d4d6d6" stroke-width="1.6" stroke-linecap="round"/></g>
<text transform="translate(203.40 818.20) scale(1 1.1)" x="0" y="0" font-size="9" font-weight="normal" text-anchor="middle" fill="#222" >n=3</text>
<g transform="translate(247.80 803.30) scale(1.0 1.0)"><path d="M0.00,8.76 C0.45,8.08 1.37,6.72 2.69,5.84 C4.01,4.96 6.29,4.18 7.94,3.50 C9.59,2.82 11.73,2.29 12.61,1.75 C13.49,1.21 12.71,0.52 13.20,0.23 C13.69,-0.06 14.95,-0.16 15.53,0.00 C16.11,0.16 16.41,0.68 16.70,1.17 C16.99,1.66 16.40,2.53 17.28,2.92 C18.16,3.31 19.82,3.44 21.96,3.50 C24.10,3.56 27.40,3.27 30.13,3.27 C32.85,3.27 35.97,3.17 38.31,3.50 C40.65,3.83 42.40,4.38 44.15,5.26 C45.90,6.14 47.55,7.50 48.82,8.76 C50.09,10.03 51.06,11.68 51.74,12.85 C52.42,14.02 52.80,14.89 52.90,15.77 C53.00,16.64 52.80,17.32 52.32,18.10 C51.84,18.88 50.96,19.76 49.99,20.44 C49.02,21.12 47.26,21.61 46.48,22.19 C45.70,22.77 46.28,23.51 45.31,23.94 C44.34,24.37 41.81,24.76 40.64,24.76 C39.47,24.76 38.80,24.27 38.31,23.94 C37.82,23.61 39.08,23.06 37.72,22.77 C36.36,22.48 32.76,22.38 30.13,22.19 C27.50,22.00 23.81,21.65 21.96,21.61 C20.11,21.57 19.72,21.67 19.04,21.96 C18.36,22.25 18.75,22.97 17.87,23.36 C16.99,23.75 15.24,24.13 13.78,24.29 C12.32,24.45 9.98,24.45 9.11,24.29 C8.23,24.13 8.04,23.71 8.53,23.36 C9.02,23.01 10.96,22.68 12.03,22.19 C13.10,21.70 14.37,21.12 14.95,20.44 C15.53,19.76 15.63,18.88 15.53,18.10 C15.43,17.32 15.23,16.35 14.36,15.77 C13.48,15.19 11.74,15.09 10.28,14.60 C8.82,14.11 7.07,13.43 5.61,12.85 C4.15,12.27 2.46,11.58 1.52,11.09 C0.58,10.60 0.25,10.32 0.00,9.93 C-0.25,9.54 -0.45,9.44 0.00,8.76 Z" fill="#d4d6d6"/><path d="M51.00,18.30 C52.19,18.66 56.28,19.50 58.16,20.44 C60.03,21.38 61.47,22.68 62.25,23.94 C63.03,25.21 63.22,27.06 62.83,28.03 C62.44,29.00 61.66,29.59 59.91,29.78 C58.16,29.98 55.53,29.49 52.32,29.20 C49.11,28.91 44.34,28.32 40.64,28.03 C36.94,27.74 32.27,27.45 30.13,27.45 C27.99,27.45 28.19,27.93 27.80,28.03 " fill="none" stroke="#d4d6d6" stroke-width="1.6" stroke-linecap="round"/></g>
<text transform="translate(277.70 818.20) scale(1 1.1)" x="0" y="0" font-size="9" font-weight="normal" text-anchor="middle" fill="#222" >n=3</text>
<line x1="397.40" y1="622.1" x2="500.90" y2="622.1" stroke="#7a7a7a" stroke-width="0.9"/>
<line x1="449.15" y1="615.20" x2="449.15" y2="620.20" stroke="#111" stroke-width="1.25"/><line x1="446.98" y1="616.45" x2="451.32" y2="618.95" stroke="#111" stroke-width="1.25"/><line x1="451.32" y1="616.45" x2="446.98" y2="618.95" stroke="#111" stroke-width="1.25"/>
<line x1="418.10" y1="644.1" x2="500.90" y2="644.1" stroke="#7a7a7a" stroke-width="0.9"/>
<line x1="459.50" y1="637.20" x2="459.50" y2="642.20" stroke="#111" stroke-width="1.25"/><line x1="457.33" y1="638.45" x2="461.67" y2="640.95" stroke="#111" stroke-width="1.25"/><line x1="461.67" y1="638.45" x2="457.33" y2="640.95" stroke="#111" stroke-width="1.25"/>
<line x1="438.80" y1="665.9" x2="500.90" y2="665.9" stroke="#ababab" stroke-width="0.9"/>
<line x1="469.85" y1="659.00" x2="469.85" y2="664.00" stroke="#111" stroke-width="1.25"/><line x1="467.68" y1="660.25" x2="472.02" y2="662.75" stroke="#111" stroke-width="1.25"/><line x1="472.02" y1="660.25" x2="467.68" y2="662.75" stroke="#111" stroke-width="1.25"/>
<line x1="459.50" y1="691.4" x2="500.90" y2="691.4" stroke="#7a7a7a" stroke-width="0.9"/>
<text transform="translate(480.20 687.50) scale(1 1.1)" x="0" y="0" font-size="9.5" font-weight="normal" text-anchor="middle" fill="#222" >ns</text>
<line x1="480.20" y1="713.3" x2="500.90" y2="713.3" stroke="#8a8a8a" stroke-width="0.9"/>
<line x1="490.55" y1="706.40" x2="490.55" y2="711.40" stroke="#111" stroke-width="1.25"/><line x1="488.38" y1="707.65" x2="492.72" y2="710.15" stroke="#111" stroke-width="1.25"/><line x1="492.72" y1="707.65" x2="488.38" y2="710.15" stroke="#111" stroke-width="1.25"/>
<line x1="535.30" y1="622.1" x2="638.60" y2="622.1" stroke="#7a7a7a" stroke-width="0.9"/>
<line x1="586.95" y1="615.20" x2="586.95" y2="620.20" stroke="#111" stroke-width="1.25"/><line x1="584.78" y1="616.45" x2="589.12" y2="618.95" stroke="#111" stroke-width="1.25"/><line x1="589.12" y1="616.45" x2="584.78" y2="618.95" stroke="#111" stroke-width="1.25"/>
<line x1="555.96" y1="644.1" x2="638.60" y2="644.1" stroke="#7a7a7a" stroke-width="0.9"/>
<line x1="597.28" y1="637.20" x2="597.28" y2="642.20" stroke="#111" stroke-width="1.25"/><line x1="595.11" y1="638.45" x2="599.45" y2="640.95" stroke="#111" stroke-width="1.25"/><line x1="599.45" y1="638.45" x2="595.11" y2="640.95" stroke="#111" stroke-width="1.25"/>
<line x1="576.62" y1="665.9" x2="638.60" y2="665.9" stroke="#ababab" stroke-width="0.9"/>
<line x1="607.61" y1="659.00" x2="607.61" y2="664.00" stroke="#111" stroke-width="1.25"/><line x1="605.44" y1="660.25" x2="609.78" y2="662.75" stroke="#111" stroke-width="1.25"/><line x1="609.78" y1="660.25" x2="605.44" y2="662.75" stroke="#111" stroke-width="1.25"/>
<line x1="597.28" y1="691.4" x2="638.60" y2="691.4" stroke="#7a7a7a" stroke-width="0.9"/>
<text transform="translate(617.94 687.50) scale(1 1.1)" x="0" y="0" font-size="9.5" font-weight="normal" text-anchor="middle" fill="#222" >ns</text>
<line x1="617.94" y1="713.3" x2="638.60" y2="713.3" stroke="#8a8a8a" stroke-width="0.9"/>
<line x1="628.27" y1="706.40" x2="628.27" y2="711.40" stroke="#111" stroke-width="1.25"/><line x1="626.10" y1="707.65" x2="630.44" y2="710.15" stroke="#111" stroke-width="1.25"/><line x1="630.44" y1="707.65" x2="626.10" y2="710.15" stroke="#111" stroke-width="1.25"/>
<rect x="391.90" y="785.34" width="11.0" height="48.46" fill="#e3f9ba" stroke="#68a93c" stroke-width="2"/>
<line x1="397.40" y1="774.01" x2="397.40" y2="792.79" stroke="#68a93c" stroke-width="1.2"/>
<line x1="394.40" y1="774.01" x2="400.40" y2="774.01" stroke="#68a93c" stroke-width="1.4"/>
<circle cx="397.40" cy="774.01" r="2.9" fill="#b5df85" stroke="#68a93c" stroke-width="1.6"/>
<circle cx="397.40" cy="785.34" r="2.9" fill="#b5df85" stroke="#68a93c" stroke-width="1.6"/>
<circle cx="397.40" cy="792.79" r="2.9" fill="#b5df85" stroke="#68a93c" stroke-width="1.6"/>
<rect x="412.60" y="802.26" width="11.0" height="31.54" fill="#8ccb8c" stroke="#3d9846" stroke-width="2"/>
<circle cx="414.80" cy="802.69" r="2.9" fill="#6cb46c" stroke="#3d9846" stroke-width="1.6"/>
<circle cx="418.60" cy="798.67" r="2.9" fill="#6cb46c" stroke="#3d9846" stroke-width="1.6"/>
<circle cx="422.40" cy="800.82" r="2.9" fill="#6cb46c" stroke="#3d9846" stroke-width="1.6"/>
<rect x="433.30" y="817.17" width="11.0" height="16.63" fill="#f3c263" stroke="#f38a2b" stroke-width="2"/>
<line x1="438.80" y1="794.37" x2="438.80" y2="826.77" stroke="#f38a2b" stroke-width="1.2"/>
<line x1="435.80" y1="794.37" x2="441.80" y2="794.37" stroke="#f38a2b" stroke-width="1.4"/>
<circle cx="438.80" cy="795.38" r="2.9" fill="#f7b870" stroke="#f38a2b" stroke-width="1.6"/>
<circle cx="438.80" cy="814.16" r="2.9" fill="#f7b870" stroke="#f38a2b" stroke-width="1.6"/>
<circle cx="438.80" cy="826.77" r="2.9" fill="#f7b870" stroke="#f38a2b" stroke-width="1.6"/>
<rect x="454.00" y="739.60" width="11.0" height="94.20" fill="#b9e7fd" stroke="#4c94f3" stroke-width="2"/>
<line x1="459.50" y1="731.29" x2="459.50" y2="745.34" stroke="#4c94f3" stroke-width="1.2"/>
<line x1="456.50" y1="731.29" x2="462.50" y2="731.29" stroke="#4c94f3" stroke-width="1.4"/>
<circle cx="459.50" cy="731.29" r="2.9" fill="#86c0f8" stroke="#4c94f3" stroke-width="1.6"/>
<circle cx="459.50" cy="737.31" r="2.9" fill="#86c0f8" stroke="#4c94f3" stroke-width="1.6"/>
<circle cx="459.50" cy="745.34" r="2.9" fill="#86c0f8" stroke="#4c94f3" stroke-width="1.6"/>
<rect x="474.70" y="809.57" width="11.0" height="24.23" fill="#5d66c3" stroke="#1b1b9e" stroke-width="2"/>
<circle cx="476.60" cy="809.57" r="2.9" fill="#5962c4" stroke="#1b1b9e" stroke-width="1.6"/>
<circle cx="480.20" cy="807.13" r="2.9" fill="#5962c4" stroke="#1b1b9e" stroke-width="1.6"/>
<circle cx="484.60" cy="804.84" r="2.9" fill="#5962c4" stroke="#1b1b9e" stroke-width="1.6"/>
<rect x="495.40" y="750.64" width="11.0" height="83.16" fill="#666666" stroke="#000000" stroke-width="2"/>
<circle cx="496.90" cy="750.64" r="2.9" fill="#707070" stroke="#000000" stroke-width="1.6"/>
<circle cx="500.90" cy="747.20" r="2.9" fill="#707070" stroke="#000000" stroke-width="1.6"/>
<circle cx="505.20" cy="749.93" r="2.9" fill="#707070" stroke="#000000" stroke-width="1.6"/>
<rect x="529.80" y="825.91" width="11.0" height="7.89" fill="#e3f9ba" stroke="#68a93c" stroke-width="2"/>
<line x1="535.30" y1="803.98" x2="535.30" y2="826.63" stroke="#68a93c" stroke-width="1.2"/>
<line x1="532.30" y1="803.98" x2="538.30" y2="803.98" stroke="#68a93c" stroke-width="1.4"/>
<circle cx="531.60" cy="826.63" r="2.9" fill="#b5df85" stroke="#68a93c" stroke-width="1.6"/>
<circle cx="539.00" cy="826.63" r="2.9" fill="#b5df85" stroke="#68a93c" stroke-width="1.6"/>
<circle cx="535.30" cy="803.98" r="2.9" fill="#b5df85" stroke="#68a93c" stroke-width="1.6"/>
<rect x="550.46" y="826.63" width="11.0" height="7.17" fill="#8ccb8c" stroke="#3d9846" stroke-width="2"/>
<circle cx="552.26" cy="826.63" r="2.9" fill="#6cb46c" stroke="#3d9846" stroke-width="1.6"/>
<circle cx="555.96" cy="826.63" r="2.9" fill="#6cb46c" stroke="#3d9846" stroke-width="1.6"/>
<circle cx="559.66" cy="826.63" r="2.9" fill="#6cb46c" stroke="#3d9846" stroke-width="1.6"/>
<rect x="571.12" y="826.63" width="11.0" height="7.17" fill="#f3c263" stroke="#f38a2b" stroke-width="2"/>
<circle cx="572.92" cy="826.63" r="2.9" fill="#f7b870" stroke="#f38a2b" stroke-width="1.6"/>
<circle cx="576.62" cy="826.63" r="2.9" fill="#f7b870" stroke="#f38a2b" stroke-width="1.6"/>
<circle cx="580.32" cy="826.63" r="2.9" fill="#f7b870" stroke="#f38a2b" stroke-width="1.6"/>
<rect x="591.78" y="762.83" width="11.0" height="70.97" fill="#b9e7fd" stroke="#4c94f3" stroke-width="2"/>
<circle cx="593.78" cy="760.68" r="2.9" fill="#86c0f8" stroke="#4c94f3" stroke-width="1.6"/>
<circle cx="597.28" cy="758.24" r="2.9" fill="#86c0f8" stroke="#4c94f3" stroke-width="1.6"/>
<circle cx="600.78" cy="760.68" r="2.9" fill="#86c0f8" stroke="#4c94f3" stroke-width="1.6"/>
<rect x="612.44" y="826.63" width="11.0" height="7.17" fill="#5d66c3" stroke="#1b1b9e" stroke-width="2"/>
<circle cx="614.24" cy="826.63" r="2.9" fill="#5962c4" stroke="#1b1b9e" stroke-width="1.6"/>
<circle cx="617.94" cy="826.63" r="2.9" fill="#5962c4" stroke="#1b1b9e" stroke-width="1.6"/>
<circle cx="621.64" cy="826.63" r="2.9" fill="#5962c4" stroke="#1b1b9e" stroke-width="1.6"/>
<rect x="633.10" y="763.83" width="11.0" height="69.97" fill="#666666" stroke="#000000" stroke-width="2"/>
<circle cx="634.60" cy="763.83" r="2.9" fill="#707070" stroke="#000000" stroke-width="1.6"/>
<circle cx="638.60" cy="759.68" r="2.9" fill="#707070" stroke="#000000" stroke-width="1.6"/>
<circle cx="642.90" cy="760.39" r="2.9" fill="#707070" stroke="#000000" stroke-width="1.6"/>
<line x1="384.20" y1="819.46" x2="652.6" y2="819.46" stroke="#22229c" stroke-width="1.6" stroke-dasharray="6,3.6"/>
<line x1="384.20" y1="718.40" x2="384.20" y2="834.60" stroke="#000" stroke-width="1.6"/>
<line x1="383.40" y1="833.80" x2="652.2" y2="833.80" stroke="#000" stroke-width="1.6"/>
<line x1="379.60" y1="833.80" x2="384.20" y2="833.80" stroke="#000" stroke-width="1.5"/>
<text transform="translate(377.40 836.90) scale(1 1.1)" x="0" y="0" font-size="8.5" font-weight="bold" text-anchor="end" fill="#000" >0</text>
<line x1="379.60" y1="819.46" x2="384.20" y2="819.46" stroke="#000" stroke-width="1.5"/>
<text transform="translate(377.40 822.56) scale(1 1.1)" x="0" y="0" font-size="8.5" font-weight="bold" text-anchor="end" fill="#000" >1</text>
<line x1="379.60" y1="805.12" x2="384.20" y2="805.12" stroke="#000" stroke-width="1.5"/>
<text transform="translate(377.40 808.23) scale(1 1.1)" x="0" y="0" font-size="8.5" font-weight="bold" text-anchor="end" fill="#000" >2</text>
<line x1="379.60" y1="790.79" x2="384.20" y2="790.79" stroke="#000" stroke-width="1.5"/>
<text transform="translate(377.40 793.89) scale(1 1.1)" x="0" y="0" font-size="8.5" font-weight="bold" text-anchor="end" fill="#000" >3</text>
<line x1="379.60" y1="776.45" x2="384.20" y2="776.45" stroke="#000" stroke-width="1.5"/>
<text transform="translate(377.40 779.55) scale(1 1.1)" x="0" y="0" font-size="8.5" font-weight="bold" text-anchor="end" fill="#000" >4</text>
<line x1="379.60" y1="762.11" x2="384.20" y2="762.11" stroke="#000" stroke-width="1.5"/>
<text transform="translate(377.40 765.21) scale(1 1.1)" x="0" y="0" font-size="8.5" font-weight="bold" text-anchor="end" fill="#000" >5</text>
<line x1="379.60" y1="747.77" x2="384.20" y2="747.77" stroke="#000" stroke-width="1.5"/>
<text transform="translate(377.40 750.88) scale(1 1.1)" x="0" y="0" font-size="8.5" font-weight="bold" text-anchor="end" fill="#000" >6</text>
<line x1="379.60" y1="733.44" x2="384.20" y2="733.44" stroke="#000" stroke-width="1.5"/>
<text transform="translate(377.40 736.54) scale(1 1.1)" x="0" y="0" font-size="8.5" font-weight="bold" text-anchor="end" fill="#000" >7</text>
<line x1="379.60" y1="719.10" x2="384.20" y2="719.10" stroke="#000" stroke-width="1.5"/>
<text transform="translate(377.40 722.20) scale(1 1.1)" x="0" y="0" font-size="8.5" font-weight="bold" text-anchor="end" fill="#000" >8</text>
<line x1="397.40" y1="833.80" x2="397.40" y2="840.30" stroke="#000" stroke-width="1.5"/>
<text x="0" y="0" font-size="9.4" font-weight="bold" text-anchor="end" transform="translate(399.80 849.80) rotate(-45) scale(1 1.1)">1A1</text>
<line x1="418.10" y1="833.80" x2="418.10" y2="840.30" stroke="#000" stroke-width="1.5"/>
<text x="0" y="0" font-size="9.4" font-weight="bold" text-anchor="end" transform="translate(420.50 849.80) rotate(-45) scale(1 1.1)">20D10</text>
<line x1="438.80" y1="833.80" x2="438.80" y2="840.30" stroke="#000" stroke-width="1.5"/>
<text x="0" y="0" font-size="9.4" font-weight="bold" text-anchor="end" transform="translate(441.20 849.80) rotate(-45) scale(1 1.1)">6G1</text>
<line x1="459.50" y1="833.80" x2="459.50" y2="840.30" stroke="#000" stroke-width="1.5"/>
<text x="0" y="0" font-size="9.4" font-weight="bold" text-anchor="end" transform="translate(461.90 849.80) rotate(-45) scale(1 1.1)">7H10</text>
<line x1="480.20" y1="833.80" x2="480.20" y2="840.30" stroke="#000" stroke-width="1.5"/>
<text x="0" y="0" font-size="9.4" font-weight="bold" text-anchor="end" transform="translate(482.60 849.80) rotate(-45) scale(1 1.1)">12G1</text>
<line x1="500.90" y1="833.80" x2="500.90" y2="840.30" stroke="#000" stroke-width="1.5"/>
<text x="0" y="0" font-size="9.4" font-weight="bold" text-anchor="end" transform="translate(503.30 849.80) rotate(-45) scale(1 1.1)">negative</text>
<line x1="535.30" y1="833.80" x2="535.30" y2="840.30" stroke="#000" stroke-width="1.5"/>
<text x="0" y="0" font-size="9.4" font-weight="bold" text-anchor="end" transform="translate(537.70 849.80) rotate(-45) scale(1 1.1)">1A1</text>
<line x1="555.96" y1="833.80" x2="555.96" y2="840.30" stroke="#000" stroke-width="1.5"/>
<text x="0" y="0" font-size="9.4" font-weight="bold" text-anchor="end" transform="translate(558.36 849.80) rotate(-45) scale(1 1.1)">20D10</text>
<line x1="576.62" y1="833.80" x2="576.62" y2="840.30" stroke="#000" stroke-width="1.5"/>
<text x="0" y="0" font-size="9.4" font-weight="bold" text-anchor="end" transform="translate(579.02 849.80) rotate(-45) scale(1 1.1)">6G1</text>
<line x1="597.28" y1="833.80" x2="597.28" y2="840.30" stroke="#000" stroke-width="1.5"/>
<text x="0" y="0" font-size="9.4" font-weight="bold" text-anchor="end" transform="translate(599.68 849.80) rotate(-45) scale(1 1.1)">7H10</text>
<line x1="617.94" y1="833.80" x2="617.94" y2="840.30" stroke="#000" stroke-width="1.5"/>
<text x="0" y="0" font-size="9.4" font-weight="bold" text-anchor="end" transform="translate(620.34 849.80) rotate(-45) scale(1 1.1)">12G1</text>
<line x1="638.60" y1="833.80" x2="638.60" y2="840.30" stroke="#000" stroke-width="1.5"/>
<text x="0" y="0" font-size="9.4" font-weight="bold" text-anchor="end" transform="translate(641.00 849.80) rotate(-45) scale(1 1.1)">negative</text>
<line x1="360.4" y1="881.8" x2="500.4" y2="881.8" stroke="#000" stroke-width="1.5"/>
<line x1="527.3" y1="881.8" x2="665.8" y2="881.8" stroke="#000" stroke-width="1.5"/>
<text transform="translate(430.90 892.90) scale(1 1.1)" x="0" y="0" font-size="9.2" font-weight="bold" text-anchor="middle" fill="#000" >Day 3 post-infection</text>
<text transform="translate(596.80 892.90) scale(1 1.1)" x="0" y="0" font-size="9.2" font-weight="bold" text-anchor="middle" fill="#000" >Day 5 post-infection</text>
<text transform="translate(366.6 777.8) rotate(-90) scale(1 1.1)" font-size="8.1" font-weight="bold" text-anchor="middle">viral titer log10(PFU/ml)</text>
</svg>
</body></html>
